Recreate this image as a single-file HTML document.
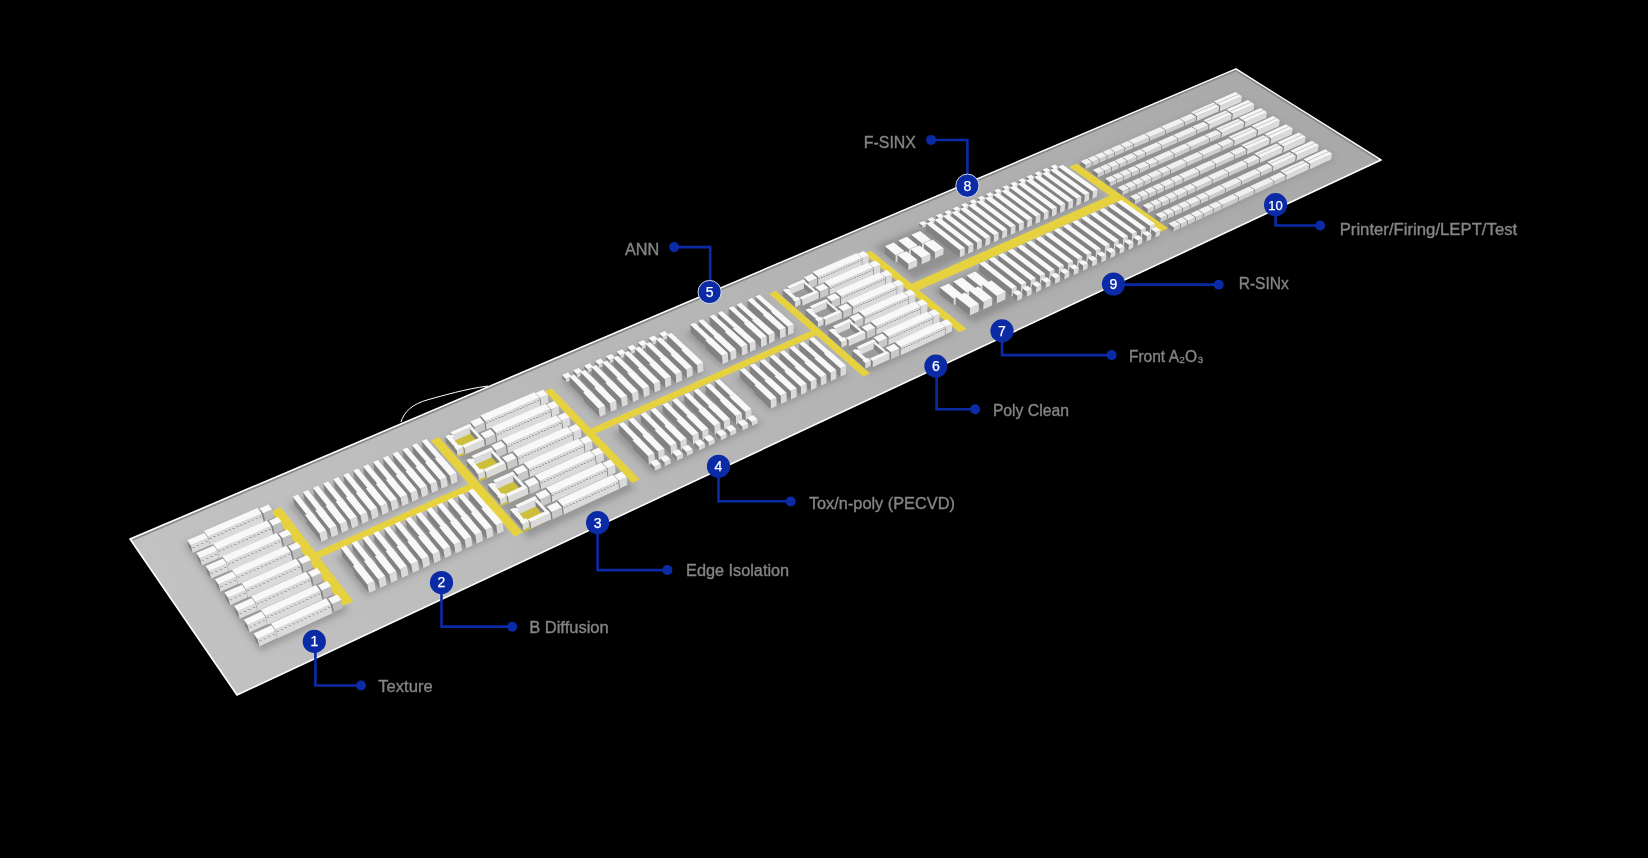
<!DOCTYPE html><html><head><meta charset="utf-8"><style>html,body{margin:0;padding:0;background:#000;width:1648px;height:858px;overflow:hidden}</style></head><body><svg width="1648" height="858" viewBox="0 0 1648 858" style="display:block" font-family="'Liberation Sans', sans-serif"><defs><linearGradient id="fg" gradientUnits="userSpaceOnUse" x1="180" y1="620" x2="1300" y2="110">
<stop offset="0" stop-color="#c2c2c2"/><stop offset="1" stop-color="#a9a9a9"/></linearGradient><filter id="blur" x="-20%" y="-20%" width="140%" height="140%"><feGaussianBlur stdDeviation="3"/></filter></defs>
<rect width="1648" height="858" fill="#000"/><path d="M401,422 C404,412 412,404 428,399.7 S465,389 488,386" fill="none" stroke="#fff" stroke-width="1"/><polygon points="130.0,539.0 1236.0,69.0 1381.0,160.0 237.0,695.0" fill="url(#fg)" stroke="#fff" stroke-width="1.6" stroke-linejoin="round"/><polyline points="133.0,539.8 1235.9,70.6 1377.8,159.8" fill="none" stroke="#858585" stroke-width="1.6" stroke-linejoin="round" opacity="0.9"/><g filter="url(#blur)"><polygon points="184.0,544.2 269.4,507.4 348.6,610.8 260.3,651.5" fill="#555" opacity="0.35"/><polygon points="288.9,504.6 430.3,443.5 463.2,481.1 320.0,544.6" fill="#555" opacity="0.35"/><polygon points="336.1,557.2 475.2,494.9 507.3,531.6 366.5,596.3" fill="#555" opacity="0.35"/><polygon points="442.4,440.1 546.1,395.2 635.4,488.6 528.6,538.0" fill="#555" opacity="0.35"/><polygon points="560.7,380.1 666.6,334.6 705.7,371.7 598.7,419.2" fill="#555" opacity="0.35"/><polygon points="612.5,433.4 720.0,385.3 761.3,424.5 652.6,474.7" fill="#555" opacity="0.35"/><polygon points="685.1,333.4 761.3,300.5 797.6,332.7 720.7,366.8" fill="#555" opacity="0.35"/><polygon points="735.7,378.2 812.8,343.7 848.2,375.0 770.4,410.8" fill="#555" opacity="0.35"/><polygon points="779.4,294.4 864.8,257.4 956.1,332.7 869.0,372.9" fill="#555" opacity="0.35"/><polygon points="873.8,247.0 1059.3,167.1 1100.6,196.7 913.7,279.6" fill="#555" opacity="0.35"/><polygon points="932.2,290.2 1121.0,205.7 1162.9,235.6 972.8,323.2" fill="#555" opacity="0.35"/><polygon points="1076.2,164.4 1235.8,95.5 1334.3,158.4 1172.5,232.9" fill="#555" opacity="0.3"/></g><polygon points="270.9,511.4 280.7,507.2 353.3,601.3 343.2,606.0" fill="#e6d23e" /><polygon points="430.8,440.6 439.0,437.0 523.1,532.4 514.6,536.4" fill="#e6d23e" /><polygon points="544.7,391.3 551.7,388.2 639.7,479.6 632.5,483.0" fill="#e6d23e" /><polygon points="769.2,293.7 775.9,290.8 870.0,373.4 863.2,376.5" fill="#e6d23e" /><polygon points="863.9,253.7 871.0,250.7 966.5,328.9 959.2,332.2" fill="#e6d23e" /><polygon points="1069.1,166.7 1076.8,163.4 1168.0,228.2 1160.2,231.7" fill="#e6d23e" /><polygon points="310.5,554.5 473.1,482.2 477.6,487.4 314.8,560.1" fill="#e6d23e" /><polygon points="587.2,430.3 814.6,329.2 819.7,333.7 591.9,435.3" fill="#e6d23e" /><polygon points="907.8,285.4 1113.6,194.0 1121.5,199.7 915.5,291.6" fill="#e6d23e" /><polygon points="541.4,408.7 559.0,401.0 560.5,402.5 542.8,410.2" fill="#e6d23e" /><polygon points="552.2,420.2 569.9,412.4 571.4,413.9 553.7,421.7" fill="#e6d23e" /><polygon points="563.2,431.7 581.0,423.9 582.5,425.4 564.7,433.3" fill="#e6d23e" /><polygon points="574.3,443.5 592.1,435.5 593.6,437.1 575.8,445.0" fill="#e6d23e" /><polygon points="585.5,455.3 603.4,447.3 605.0,448.8 587.0,456.9" fill="#e6d23e" /><polygon points="596.9,467.3 614.9,459.2 616.4,460.8 598.4,468.9" fill="#e6d23e" /><polygon points="608.4,479.5 626.5,471.2 628.0,472.8 610.0,481.1" fill="#e6d23e" /><polygon points="444.8,441.2 470.7,430.0 484.8,445.7 458.8,457.1" fill="#cdbf3c" /><polygon points="465.8,465.0 491.9,453.6 506.3,469.6 480.2,481.3" fill="#cdbf3c" /><polygon points="487.4,489.4 513.6,477.7 528.4,494.1 502.0,506.1" fill="#cdbf3c" /><polygon points="509.4,514.5 535.9,502.4 551.1,519.2 524.5,531.5" fill="#cdbf3c" /><polygon points="781.5,295.0 803.6,285.4 818.8,298.5 796.6,308.2" fill="#9b9b9b" /><polygon points="804.0,314.8 826.3,305.0 841.8,318.4 819.5,328.3" fill="#9b9b9b" /><polygon points="827.1,335.0 849.5,325.0 865.4,338.7 842.9,348.8" fill="#9b9b9b" /><polygon points="850.7,355.7 873.2,345.4 889.4,359.4 866.8,369.8" fill="#9b9b9b" /><polygon points="1219.6,111.4 1241.1,102.0 1241.9,96.2 1220.4,105.5" fill="#dadada" /><polygon points="1213.1,107.2 1219.6,111.4 1220.4,105.5 1213.9,101.4" fill="#828282" /><polygon points="1213.9,101.4 1235.5,92.1 1241.9,96.2 1220.4,105.5" fill="#f6f6f6" /><polygon points="1232.0,119.5 1253.5,110.0 1254.4,104.2 1232.8,113.6" fill="#dadada" /><polygon points="1225.5,115.3 1232.0,119.5 1232.8,113.6 1226.3,109.4" fill="#828282" /><polygon points="1226.3,109.4 1247.9,100.0 1254.4,104.2 1232.8,113.6" fill="#f6f6f6" /><polygon points="1196.3,121.2 1218.5,111.5 1219.2,106.4 1197.0,116.0" fill="#dadada" /><polygon points="1190.5,117.3 1196.3,121.2 1197.0,116.0 1191.1,112.2" fill="#828282" /><polygon points="1191.1,112.2 1213.4,102.6 1219.2,106.4 1197.0,116.0" fill="#f4f4f4" /><polygon points="1244.6,127.6 1266.1,118.1 1267.0,112.2 1245.4,121.7" fill="#dadada" /><polygon points="1238.0,123.4 1244.6,127.6 1245.4,121.7 1238.9,117.5" fill="#828282" /><polygon points="1238.9,117.5 1260.5,108.0 1267.0,112.2 1245.4,121.7" fill="#f6f6f6" /><polygon points="1208.7,129.4 1231.0,119.6 1231.7,114.4 1209.4,124.2" fill="#dadada" /><polygon points="1202.8,125.5 1208.7,129.4 1209.4,124.2 1203.5,120.3" fill="#828282" /><polygon points="1203.5,120.3 1225.8,110.6 1231.7,114.4 1209.4,124.2" fill="#f4f4f4" /><polygon points="1257.2,135.8 1278.9,126.2 1279.8,120.3 1258.1,130.0" fill="#dadada" /><polygon points="1250.6,131.6 1257.2,135.8 1258.1,130.0 1251.5,125.7" fill="#828282" /><polygon points="1251.5,125.7 1273.2,116.1 1279.8,120.3 1258.1,130.0" fill="#f6f6f6" /><polygon points="1184.4,125.9 1195.6,121.0 1196.1,116.9 1184.9,121.8" fill="#cdcdcd" /><polygon points="1179.4,122.6 1184.4,125.9 1184.9,121.8 1179.9,118.5" fill="#828282" /><polygon points="1179.9,118.5 1191.1,113.6 1196.1,116.9 1184.9,121.8" fill="#f0f0f0" /><polygon points="1221.2,137.6 1243.5,127.8 1244.3,122.6 1222.0,132.4" fill="#dadada" /><polygon points="1215.3,133.7 1221.2,137.6 1222.0,132.4 1216.0,128.5" fill="#828282" /><polygon points="1216.0,128.5 1238.3,118.7 1244.3,122.6 1222.0,132.4" fill="#f4f4f4" /><polygon points="1270.1,144.2 1291.7,134.4 1292.7,128.5 1271.0,138.3" fill="#dadada" /><polygon points="1263.4,139.8 1270.1,144.2 1271.0,138.3 1264.3,133.9" fill="#828282" /><polygon points="1264.3,133.9 1286.0,124.3 1292.7,128.5 1271.0,138.3" fill="#f6f6f6" /><polygon points="1196.7,134.1 1208.0,129.2 1208.5,125.1 1197.3,130.0" fill="#cdcdcd" /><polygon points="1191.7,130.8 1196.7,134.1 1197.3,130.0 1192.2,126.6" fill="#828282" /><polygon points="1192.2,126.6 1203.5,121.7 1208.5,125.1 1197.3,130.0" fill="#f0f0f0" /><polygon points="1165.4,134.1 1183.8,126.2 1184.3,122.0 1165.9,130.0" fill="#cdcdcd" /><polygon points="1160.5,130.8 1165.4,134.1 1165.9,130.0 1160.9,126.6" fill="#828282" /><polygon points="1160.9,126.6 1179.3,118.7 1184.3,122.0 1165.9,130.0" fill="#f0f0f0" /><polygon points="1233.9,145.9 1256.2,136.0 1257.0,130.8 1234.6,140.7" fill="#dadada" /><polygon points="1227.9,142.0 1233.9,145.9 1234.6,140.7 1228.6,136.8" fill="#828282" /><polygon points="1228.6,136.8 1251.0,126.9 1257.0,130.8 1234.6,140.7" fill="#f4f4f4" /><polygon points="1283.0,152.6 1304.7,142.7 1305.7,136.8 1284.0,146.6" fill="#dadada" /><polygon points="1276.3,148.2 1283.0,152.6 1284.0,146.6 1277.2,142.3" fill="#828282" /><polygon points="1277.2,142.3 1298.9,132.5 1305.7,136.8 1284.0,146.6" fill="#f6f6f6" /><polygon points="1209.2,142.4 1220.5,137.5 1221.1,133.3 1209.8,138.3" fill="#cdcdcd" /><polygon points="1204.1,139.0 1209.2,142.4 1209.8,138.3 1204.7,134.9" fill="#828282" /><polygon points="1204.7,134.9 1216.0,129.9 1221.1,133.3 1209.8,138.3" fill="#f0f0f0" /><polygon points="1177.8,142.4 1196.1,134.4 1196.7,130.2 1178.3,138.3" fill="#cdcdcd" /><polygon points="1172.7,139.1 1177.8,142.4 1178.3,138.3 1173.2,134.9" fill="#828282" /><polygon points="1173.2,134.9 1191.6,126.9 1196.7,130.2 1178.3,138.3" fill="#f0f0f0" /><polygon points="1149.4,141.1 1164.8,134.4 1165.3,130.3 1149.9,136.9" fill="#cdcdcd" /><polygon points="1144.4,137.7 1149.4,141.1 1149.9,136.9 1144.9,133.6" fill="#828282" /><polygon points="1144.9,133.6 1160.3,126.9 1165.3,130.3 1149.9,136.9" fill="#f0f0f0" /><polygon points="1246.7,154.4 1269.0,144.3 1269.8,139.1 1247.4,149.1" fill="#dadada" /><polygon points="1240.6,150.4 1246.7,154.4 1247.4,149.1 1241.3,145.1" fill="#828282" /><polygon points="1241.3,145.1 1263.7,135.2 1269.8,139.1 1247.4,149.1" fill="#f4f4f4" /><polygon points="1296.1,161.0 1317.8,151.1 1318.8,145.2 1297.1,155.1" fill="#dadada" /><polygon points="1289.3,156.6 1296.1,161.0 1297.1,155.1 1290.3,150.7" fill="#828282" /><polygon points="1290.3,150.7 1312.0,140.8 1318.8,145.2 1297.1,155.1" fill="#f6f6f6" /><polygon points="1221.9,150.8 1233.1,145.8 1233.7,141.6 1222.5,146.6" fill="#cdcdcd" /><polygon points="1216.7,147.4 1221.9,150.8 1222.5,146.6 1217.3,143.2" fill="#828282" /><polygon points="1217.3,143.2 1228.6,138.2 1233.7,141.6 1222.5,146.6" fill="#f0f0f0" /><polygon points="1190.2,150.8 1208.6,142.7 1209.2,138.5 1190.8,146.7" fill="#cdcdcd" /><polygon points="1185.2,147.4 1190.2,150.8 1190.8,146.7 1185.7,143.2" fill="#828282" /><polygon points="1185.7,143.2 1204.1,135.2 1209.2,138.5 1190.8,146.7" fill="#f0f0f0" /><polygon points="1259.6,162.9 1282.0,152.7 1282.8,147.5 1260.4,157.6" fill="#dadada" /><polygon points="1253.4,158.8 1259.6,162.9 1260.4,157.6 1254.2,153.6" fill="#828282" /><polygon points="1254.2,153.6 1276.6,143.5 1282.8,147.5 1260.4,157.6" fill="#f4f4f4" /><polygon points="1161.7,149.5 1177.2,142.7 1177.7,138.5 1162.2,145.3" fill="#cdcdcd" /><polygon points="1156.7,146.1 1161.7,149.5 1162.2,145.3 1157.2,141.9" fill="#828282" /><polygon points="1157.2,141.9 1172.6,135.2 1177.7,138.5 1162.2,145.3" fill="#f0f0f0" /><polygon points="1309.3,169.6 1331.1,159.6 1332.1,153.7 1310.3,163.7" fill="#dadada" /><polygon points="1302.4,165.2 1309.3,169.6 1310.3,163.7 1303.4,159.2" fill="#828282" /><polygon points="1303.4,159.2 1325.2,149.3 1332.1,153.7 1310.3,163.7" fill="#f6f6f6" /><polygon points="1133.2,148.1 1148.8,141.4 1149.3,137.2 1133.7,144.0" fill="#cdcdcd" /><polygon points="1128.3,144.7 1133.2,148.1 1133.7,144.0 1128.7,140.6" fill="#828282" /><polygon points="1128.7,140.6 1144.3,133.8 1149.3,137.2 1133.7,144.0" fill="#f0f0f0" /><polygon points="1234.6,159.3 1245.9,154.2 1246.5,150.0 1235.2,155.1" fill="#cdcdcd" /><polygon points="1229.4,155.8 1234.6,159.3 1235.2,155.1 1230.0,151.6" fill="#828282" /><polygon points="1230.0,151.6 1241.3,146.6 1246.5,150.0 1235.2,155.1" fill="#f0f0f0" /><polygon points="1202.8,159.3 1221.3,151.1 1221.8,146.9 1203.4,155.1" fill="#cdcdcd" /><polygon points="1197.7,155.8 1202.8,159.3 1203.4,155.1 1198.2,151.7" fill="#828282" /><polygon points="1198.2,151.7 1216.7,143.5 1221.8,146.9 1203.4,155.1" fill="#f0f0f0" /><polygon points="1272.6,171.5 1295.0,161.2 1295.9,156.0 1273.4,166.2" fill="#dadada" /><polygon points="1266.4,167.4 1272.6,171.5 1273.4,166.2 1267.2,162.1" fill="#828282" /><polygon points="1267.2,162.1 1289.7,151.9 1295.9,156.0 1273.4,166.2" fill="#f4f4f4" /><polygon points="1174.1,157.9 1189.6,151.1 1190.2,146.9 1174.7,153.7" fill="#cdcdcd" /><polygon points="1169.1,154.5 1174.1,157.9 1174.7,153.7 1169.6,150.3" fill="#828282" /><polygon points="1169.6,150.3 1185.1,143.5 1190.2,146.9 1174.7,153.7" fill="#f0f0f0" /><polygon points="1124.8,151.8 1132.6,148.4 1133.1,144.2 1125.2,147.6" fill="#cdcdcd" /><polygon points="1119.8,148.4 1124.8,151.8 1125.2,147.6 1120.3,144.2" fill="#828282" /><polygon points="1120.3,144.2 1128.1,140.8 1133.1,144.2 1125.2,147.6" fill="#f0f0f0" /><polygon points="1145.5,156.6 1161.1,149.7 1161.6,145.6 1146.0,152.4" fill="#cdcdcd" /><polygon points="1140.5,153.1 1145.5,156.6 1146.0,152.4 1141.0,148.9" fill="#828282" /><polygon points="1141.0,148.9 1156.6,142.2 1161.6,145.6 1146.0,152.4" fill="#f0f0f0" /><polygon points="1247.5,167.8 1258.8,162.7 1259.5,158.5 1248.1,163.6" fill="#cdcdcd" /><polygon points="1242.3,164.3 1247.5,167.8 1248.1,163.6 1242.9,160.2" fill="#828282" /><polygon points="1242.9,160.2 1254.2,155.1 1259.5,158.5 1248.1,163.6" fill="#f0f0f0" /><polygon points="1215.6,167.8 1234.0,159.6 1234.6,155.4 1216.1,163.7" fill="#cdcdcd" /><polygon points="1210.4,164.4 1215.6,167.8 1216.1,163.7 1210.9,160.2" fill="#828282" /><polygon points="1210.9,160.2 1229.4,151.9 1234.6,155.4 1216.1,163.7" fill="#f0f0f0" /><polygon points="1114.7,156.2 1124.2,152.1 1124.6,147.9 1115.1,152.0" fill="#cdcdcd" /><polygon points="1109.8,152.7 1114.7,156.2 1115.1,152.0 1110.2,148.6" fill="#828282" /><polygon points="1110.2,148.6 1119.6,144.5 1124.6,147.9 1115.1,152.0" fill="#f0f0f0" /><polygon points="1285.8,180.1 1308.3,169.8 1309.2,164.5 1286.6,174.9" fill="#dadada" /><polygon points="1279.5,176.0 1285.8,180.1 1286.6,174.9 1280.4,170.8" fill="#828282" /><polygon points="1280.4,170.8 1302.9,160.5 1309.2,164.5 1286.6,174.9" fill="#f4f4f4" /><polygon points="1186.7,166.5 1202.2,159.6 1202.8,155.4 1187.2,162.3" fill="#cdcdcd" /><polygon points="1181.6,163.0 1186.7,166.5 1187.2,162.3 1182.1,158.8" fill="#828282" /><polygon points="1182.1,158.8 1197.6,151.9 1202.8,155.4 1187.2,162.3" fill="#f0f0f0" /><polygon points="1137.0,160.3 1144.9,156.8 1145.4,152.7 1137.5,156.1" fill="#cdcdcd" /><polygon points="1132.0,156.8 1137.0,160.3 1137.5,156.1 1132.5,152.6" fill="#828282" /><polygon points="1132.5,152.6 1140.3,149.2 1145.4,152.7 1137.5,156.1" fill="#f0f0f0" /><polygon points="1157.9,165.1 1173.5,158.2 1174.0,154.0 1158.4,160.9" fill="#cdcdcd" /><polygon points="1152.9,161.6 1157.9,165.1 1158.4,160.9 1153.3,157.4" fill="#828282" /><polygon points="1153.3,157.4 1169.0,150.6 1174.0,154.0 1158.4,160.9" fill="#f0f0f0" /><polygon points="1260.5,176.5 1271.9,171.3 1272.5,167.1 1261.2,172.3" fill="#cdcdcd" /><polygon points="1255.2,172.9 1260.5,176.5 1261.2,172.3 1255.9,168.8" fill="#828282" /><polygon points="1255.9,168.8 1267.2,163.6 1272.5,167.1 1261.2,172.3" fill="#f0f0f0" /><polygon points="1107.0,159.5 1114.1,156.4 1114.5,152.3 1107.4,155.3" fill="#cdcdcd" /><polygon points="1102.0,156.1 1107.0,159.5 1107.4,155.3 1102.5,151.9" fill="#828282" /><polygon points="1102.5,151.9 1109.6,148.8 1114.5,152.3 1107.4,155.3" fill="#f0f0f0" /><polygon points="1228.4,176.5 1246.9,168.1 1247.5,163.9 1229.0,172.3" fill="#cdcdcd" /><polygon points="1223.2,173.0 1228.4,176.5 1229.0,172.3 1223.8,168.8" fill="#828282" /><polygon points="1223.8,168.8 1242.3,160.4 1247.5,163.9 1229.0,172.3" fill="#f0f0f0" /><polygon points="1127.0,164.7 1136.4,160.5 1136.9,156.4 1127.4,160.5" fill="#cdcdcd" /><polygon points="1122.0,161.2 1127.0,164.7 1127.4,160.5 1122.4,157.0" fill="#828282" /><polygon points="1122.4,157.0 1131.9,152.9 1136.9,156.4 1127.4,160.5" fill="#f0f0f0" /><polygon points="1199.4,175.1 1214.9,168.1 1215.5,163.9 1200.0,170.9" fill="#cdcdcd" /><polygon points="1194.2,171.6 1199.4,175.1 1200.0,170.9 1194.8,167.4" fill="#828282" /><polygon points="1194.8,167.4 1210.3,160.4 1215.5,163.9 1200.0,170.9" fill="#f0f0f0" /><polygon points="1099.2,162.9 1106.3,159.8 1106.8,155.6 1099.6,158.7" fill="#cdcdcd" /><polygon points="1094.3,159.4 1099.2,162.9 1099.6,158.7 1094.7,155.3" fill="#828282" /><polygon points="1094.7,155.3 1101.8,152.2 1106.8,155.6 1099.6,158.7" fill="#f0f0f0" /><polygon points="1149.4,168.8 1157.3,165.4 1157.8,161.2 1149.9,164.6" fill="#cdcdcd" /><polygon points="1144.4,165.3 1149.4,168.8 1149.9,164.6 1144.9,161.2" fill="#828282" /><polygon points="1144.9,161.2 1152.7,157.7 1157.8,161.2 1149.9,164.6" fill="#f0f0f0" /><polygon points="1170.5,173.7 1186.1,166.7 1186.6,162.6 1171.0,169.5" fill="#cdcdcd" /><polygon points="1165.3,170.2 1170.5,173.7 1171.0,169.5 1165.8,166.0" fill="#828282" /><polygon points="1165.8,166.0 1181.5,159.1 1186.6,162.6 1171.0,169.5" fill="#f0f0f0" /><polygon points="1273.7,185.2 1285.0,180.0 1285.7,175.8 1274.4,181.0" fill="#cdcdcd" /><polygon points="1268.3,181.6 1273.7,185.2 1274.4,181.0 1269.0,177.4" fill="#828282" /><polygon points="1269.0,177.4 1280.3,172.2 1285.7,175.8 1274.4,181.0" fill="#f0f0f0" /><polygon points="1119.2,168.1 1126.3,165.0 1126.8,160.8 1119.6,163.9" fill="#cdcdcd" /><polygon points="1114.2,164.6 1119.2,168.1 1119.6,163.9 1114.6,160.4" fill="#828282" /><polygon points="1114.6,160.4 1121.8,157.3 1126.8,160.8 1119.6,163.9" fill="#f0f0f0" /><polygon points="1092.2,165.9 1098.6,163.2 1099.0,159.0 1092.6,161.8" fill="#cdcdcd" /><polygon points="1087.3,162.5 1092.2,165.9 1092.6,161.8 1087.7,158.3" fill="#828282" /><polygon points="1087.7,158.3 1094.0,155.5 1099.0,159.0 1092.6,161.8" fill="#f0f0f0" /><polygon points="1241.4,185.2 1259.9,176.8 1260.6,172.6 1242.0,181.0" fill="#cdcdcd" /><polygon points="1236.1,181.7 1241.4,185.2 1242.0,181.0 1236.7,177.5" fill="#828282" /><polygon points="1236.7,177.5 1255.2,169.0 1260.6,172.6 1242.0,181.0" fill="#f0f0f0" /><polygon points="1139.3,173.3 1148.8,169.1 1149.3,164.9 1139.8,169.1" fill="#cdcdcd" /><polygon points="1134.3,169.8 1139.3,173.3 1139.8,169.1 1134.7,165.6" fill="#828282" /><polygon points="1134.7,165.6 1144.2,161.4 1149.3,164.9 1139.8,169.1" fill="#f0f0f0" /><polygon points="1212.2,183.8 1227.8,176.8 1228.4,172.6 1212.8,179.6" fill="#cdcdcd" /><polygon points="1207.0,180.3 1212.2,183.8 1212.8,179.6 1207.6,176.1" fill="#828282" /><polygon points="1207.6,176.1 1223.1,169.0 1228.4,172.6 1212.8,179.6" fill="#f0f0f0" /><polygon points="1085.2,169.0 1091.6,166.2 1092.0,162.0 1085.6,164.8" fill="#cdcdcd" /><polygon points="1080.3,165.5 1085.2,169.0 1085.6,164.8 1080.6,161.3" fill="#828282" /><polygon points="1080.6,161.3 1087.0,158.6 1092.0,162.0 1085.6,164.8" fill="#f0f0f0" /><polygon points="1111.4,171.5 1118.6,168.4 1119.0,164.2 1111.9,167.3" fill="#cdcdcd" /><polygon points="1106.4,168.0 1111.4,171.5 1111.9,167.3 1106.9,163.8" fill="#828282" /><polygon points="1106.9,163.8 1114.0,160.7 1119.0,164.2 1111.9,167.3" fill="#f0f0f0" /><polygon points="1162.0,177.5 1169.8,174.0 1170.3,169.8 1162.5,173.3" fill="#cdcdcd" /><polygon points="1156.8,174.0 1162.0,177.5 1162.5,173.3 1157.3,169.8" fill="#828282" /><polygon points="1157.3,169.8 1165.2,166.3 1170.3,169.8 1162.5,173.3" fill="#f0f0f0" /><polygon points="1183.1,182.4 1198.8,175.4 1199.3,171.2 1183.7,178.2" fill="#cdcdcd" /><polygon points="1177.9,178.9 1183.1,182.4 1183.7,178.2 1178.5,174.7" fill="#828282" /><polygon points="1178.5,174.7 1194.2,167.7 1199.3,171.2 1183.7,178.2" fill="#f0f0f0" /><polygon points="1131.6,176.7 1138.7,173.6 1139.2,169.4 1132.0,172.5" fill="#cdcdcd" /><polygon points="1126.5,173.2 1131.6,176.7 1132.0,172.5 1127.0,169.0" fill="#828282" /><polygon points="1127.0,169.0 1134.1,165.9 1139.2,169.4 1132.0,172.5" fill="#f0f0f0" /><polygon points="1254.5,194.0 1273.1,185.5 1273.7,181.3 1255.2,189.8" fill="#cdcdcd" /><polygon points="1249.2,190.4 1254.5,194.0 1255.2,189.8 1249.8,186.2" fill="#828282" /><polygon points="1249.8,186.2 1268.4,177.7 1273.7,181.3 1255.2,189.8" fill="#f0f0f0" /><polygon points="1104.4,174.6 1110.8,171.8 1111.2,167.6 1104.8,170.4" fill="#cdcdcd" /><polygon points="1099.4,171.0 1104.4,174.6 1104.8,170.4 1099.8,166.9" fill="#828282" /><polygon points="1099.8,166.9 1106.2,164.1 1111.2,167.6 1104.8,170.4" fill="#f0f0f0" /><polygon points="1053.9,171.0 1058.2,169.1 1058.4,167.0 1054.0,168.9" fill="#dadada" /><polygon points="1050.4,168.4 1053.9,171.0 1054.0,168.9 1050.5,166.3" fill="#828282" /><polygon points="1050.5,166.3 1054.9,164.5 1058.4,167.0 1054.0,168.9" fill="#f8f8f8" /><polygon points="1151.8,182.0 1161.3,177.8 1161.8,173.6 1152.3,177.8" fill="#cdcdcd" /><polygon points="1146.7,178.4 1151.8,182.0 1152.3,177.8 1147.2,174.2" fill="#828282" /><polygon points="1147.2,174.2 1156.7,170.0 1161.8,173.6 1152.3,177.8" fill="#f0f0f0" /><polygon points="1225.2,192.6 1240.8,185.5 1241.4,181.3 1225.8,188.4" fill="#cdcdcd" /><polygon points="1219.9,189.0 1225.2,192.6 1225.8,188.4 1220.5,184.8" fill="#828282" /><polygon points="1220.5,184.8 1236.1,177.7 1241.4,181.3 1225.8,188.4" fill="#f0f0f0" /><polygon points="1097.4,177.6 1103.8,174.8 1104.2,170.6 1097.8,173.5" fill="#cdcdcd" /><polygon points="1092.4,174.1 1097.4,177.6 1097.8,173.5 1092.8,169.9" fill="#828282" /><polygon points="1092.8,169.9 1099.2,167.1 1104.2,170.6 1097.8,173.5" fill="#f0f0f0" /><polygon points="1123.8,180.2 1130.9,177.0 1131.4,172.8 1124.2,176.0" fill="#cdcdcd" /><polygon points="1118.7,176.6 1123.8,180.2 1124.2,176.0 1119.2,172.4" fill="#828282" /><polygon points="1119.2,172.4 1126.3,169.3 1131.4,172.8 1124.2,176.0" fill="#f0f0f0" /><polygon points="1174.6,186.2 1182.5,182.7 1183.0,178.5 1175.1,182.0" fill="#cdcdcd" /><polygon points="1169.4,182.7 1174.6,186.2 1175.1,182.0 1170.0,178.5" fill="#828282" /><polygon points="1170.0,178.5 1177.8,174.9 1183.0,178.5 1175.1,182.0" fill="#f0f0f0" /><polygon points="1045.9,174.4 1050.3,172.5 1050.4,170.4 1046.1,172.3" fill="#dadada" /><polygon points="1042.4,171.9 1045.9,174.4 1046.1,172.3 1042.5,169.8" fill="#828282" /><polygon points="1042.5,169.8 1046.9,167.9 1050.4,170.4 1046.1,172.3" fill="#f8f8f8" /><polygon points="1195.9,191.2 1211.6,184.1 1212.2,179.9 1196.5,187.0" fill="#cdcdcd" /><polygon points="1190.7,187.6 1195.9,191.2 1196.5,187.0 1191.2,183.4" fill="#828282" /><polygon points="1191.2,183.4 1206.9,176.3 1212.2,179.9 1196.5,187.0" fill="#f0f0f0" /><polygon points="1144.0,185.5 1151.2,182.3 1151.7,178.1 1144.5,181.3" fill="#cdcdcd" /><polygon points="1139.0,181.9 1144.0,185.5 1144.5,181.3 1139.4,177.7" fill="#828282" /><polygon points="1139.4,177.7 1146.6,174.5 1151.7,178.1 1144.5,181.3" fill="#f0f0f0" /><polygon points="1116.7,183.3 1123.1,180.5 1123.6,176.3 1117.2,179.1" fill="#cdcdcd" /><polygon points="1111.7,179.7 1116.7,183.3 1117.2,179.1 1112.1,175.5" fill="#828282" /><polygon points="1112.1,175.5 1118.5,172.7 1123.6,176.3 1117.2,179.1" fill="#f0f0f0" /><polygon points="1037.9,177.9 1042.3,176.0 1042.4,173.9 1038.0,175.8" fill="#dadada" /><polygon points="1034.4,175.3 1037.9,177.9 1038.0,175.8 1034.5,173.2" fill="#828282" /><polygon points="1034.5,173.2 1038.9,171.3 1042.4,173.9 1038.0,175.8" fill="#f8f8f8" /><polygon points="1164.5,190.8 1174.0,186.5 1174.5,182.3 1165.0,186.6" fill="#cdcdcd" /><polygon points="1159.3,187.2 1164.5,190.8 1165.0,186.6 1159.8,183.0" fill="#828282" /><polygon points="1159.8,183.0 1169.3,178.7 1174.5,182.3 1165.0,186.6" fill="#f0f0f0" /><polygon points="1238.3,201.5 1253.9,194.3 1254.5,190.1 1238.9,197.3" fill="#cdcdcd" /><polygon points="1232.9,197.9 1238.3,201.5 1238.9,197.3 1233.6,193.7" fill="#828282" /><polygon points="1233.6,193.7 1249.2,186.5 1254.5,190.1 1238.9,197.3" fill="#f0f0f0" /><polygon points="1136.2,188.9 1143.4,185.7 1143.9,181.5 1136.7,184.7" fill="#cdcdcd" /><polygon points="1131.1,185.4 1136.2,188.9 1136.7,184.7 1131.6,181.2" fill="#828282" /><polygon points="1131.6,181.2 1138.8,178.0 1143.9,181.5 1136.7,184.7" fill="#f0f0f0" /><polygon points="1109.7,186.4 1116.1,183.6 1116.5,179.4 1110.1,182.2" fill="#cdcdcd" /><polygon points="1104.6,182.8 1109.7,186.4 1110.1,182.2 1105.1,178.6" fill="#828282" /><polygon points="1105.1,178.6 1111.5,175.8 1116.5,179.4 1110.1,182.2" fill="#f0f0f0" /><polygon points="1187.4,195.1 1195.3,191.5 1195.8,187.3 1187.9,190.9" fill="#cdcdcd" /><polygon points="1182.2,191.5 1187.4,195.1 1187.9,190.9 1182.7,187.3" fill="#828282" /><polygon points="1182.7,187.3 1190.6,183.7 1195.8,187.3 1187.9,190.9" fill="#f0f0f0" /><polygon points="1208.8,200.1 1224.6,192.9 1225.2,188.7 1209.4,195.9" fill="#cdcdcd" /><polygon points="1203.6,196.5 1208.8,200.1 1209.4,195.9 1204.1,192.2" fill="#828282" /><polygon points="1204.1,192.2 1219.9,185.1 1225.2,188.7 1209.4,195.9" fill="#f0f0f0" /><polygon points="1029.8,181.3 1034.3,179.4 1034.4,177.3 1030.0,179.2" fill="#dadada" /><polygon points="1026.4,178.8 1029.8,181.3 1030.0,179.2 1026.5,176.7" fill="#828282" /><polygon points="1026.5,176.7 1030.9,174.8 1034.4,177.3 1030.0,179.2" fill="#f8f8f8" /><polygon points="1156.7,194.3 1163.8,191.1 1164.3,186.9 1157.2,190.1" fill="#cdcdcd" /><polygon points="1151.5,190.7 1156.7,194.3 1157.2,190.1 1152.0,186.5" fill="#828282" /><polygon points="1152.0,186.5 1159.2,183.3 1164.3,186.9 1157.2,190.1" fill="#f0f0f0" /><polygon points="1129.2,192.1 1135.6,189.2 1136.1,185.0 1129.6,187.9" fill="#cdcdcd" /><polygon points="1124.1,188.5 1129.2,192.1 1129.6,187.9 1124.6,184.3" fill="#828282" /><polygon points="1124.6,184.3 1131.0,181.4 1136.1,185.0 1129.6,187.9" fill="#f0f0f0" /><polygon points="1021.8,184.8 1026.2,182.9 1026.4,180.8 1021.9,182.7" fill="#dadada" /><polygon points="1018.3,182.2 1021.8,184.8 1021.9,182.7 1018.4,180.1" fill="#828282" /><polygon points="1018.4,180.1 1022.9,178.2 1026.4,180.8 1021.9,182.7" fill="#f8f8f8" /><polygon points="1092.1,198.9 1096.8,196.8 1097.5,189.4 1092.8,191.5" fill="#dadada" /><polygon points="1057.6,174.0 1092.1,198.9 1092.8,191.5 1058.2,166.7" fill="#828282" /><polygon points="1058.2,166.7 1062.9,164.7 1097.5,189.4 1092.8,191.5" fill="#f8f8f8" /><polygon points="1177.2,199.7 1186.7,195.4 1187.3,191.1 1177.8,195.4" fill="#cdcdcd" /><polygon points="1172.0,196.0 1177.2,199.7 1177.8,195.4 1172.5,191.8" fill="#828282" /><polygon points="1172.5,191.8 1182.1,187.5 1187.3,191.1 1177.8,195.4" fill="#f0f0f0" /><polygon points="1148.8,197.8 1156.0,194.6 1156.5,190.4 1149.3,193.6" fill="#cdcdcd" /><polygon points="1143.7,194.2 1148.8,197.8 1149.3,193.6 1144.2,190.0" fill="#828282" /><polygon points="1144.2,190.0 1151.4,186.8 1156.5,190.4 1149.3,193.6" fill="#f0f0f0" /><polygon points="1122.1,195.2 1128.5,192.4 1129.0,188.2 1122.6,191.0" fill="#cdcdcd" /><polygon points="1117.0,191.6 1122.1,195.2 1122.6,191.0 1117.5,187.4" fill="#828282" /><polygon points="1117.5,187.4 1123.9,184.6 1129.0,188.2 1122.6,191.0" fill="#f0f0f0" /><polygon points="1200.3,204.0 1208.2,200.4 1208.8,196.2 1200.9,199.8" fill="#cdcdcd" /><polygon points="1195.0,200.3 1200.3,204.0 1200.9,199.8 1195.6,196.1" fill="#828282" /><polygon points="1195.6,196.1 1203.5,192.5 1208.8,196.2 1200.9,199.8" fill="#f0f0f0" /><polygon points="1221.9,209.1 1237.7,201.8 1238.3,197.6 1222.5,204.8" fill="#cdcdcd" /><polygon points="1216.6,205.4 1221.9,209.1 1222.5,204.8 1217.2,201.2" fill="#828282" /><polygon points="1217.2,201.2 1232.9,194.0 1238.3,197.6 1222.5,204.8" fill="#f0f0f0" /><polygon points="1013.7,188.3 1018.1,186.4 1018.3,184.3 1013.8,186.2" fill="#dadada" /><polygon points="1010.2,185.7 1013.7,188.3 1013.8,186.2 1010.3,183.6" fill="#828282" /><polygon points="1010.3,183.6 1014.8,181.7 1018.3,184.3 1013.8,186.2" fill="#f8f8f8" /><polygon points="1084.0,202.4 1088.8,200.3 1089.5,192.9 1084.7,195.0" fill="#dadada" /><polygon points="1049.6,177.5 1084.0,202.4 1084.7,195.0 1050.2,170.1" fill="#828282" /><polygon points="1050.2,170.1 1054.9,168.1 1089.5,192.9 1084.7,195.0" fill="#f8f8f8" /><polygon points="1169.4,203.2 1176.6,200.0 1177.1,195.7 1169.9,199.0" fill="#cdcdcd" /><polygon points="1164.2,199.6 1169.4,203.2 1169.9,199.0 1164.7,195.3" fill="#828282" /><polygon points="1164.7,195.3 1171.9,192.1 1177.1,195.7 1169.9,199.0" fill="#f0f0f0" /><polygon points="1141.8,201.0 1148.2,198.1 1148.7,193.9 1142.3,196.8" fill="#cdcdcd" /><polygon points="1136.6,197.3 1141.8,201.0 1142.3,196.8 1137.1,193.1" fill="#828282" /><polygon points="1137.1,193.1 1143.5,190.3 1148.7,193.9 1142.3,196.8" fill="#f0f0f0" /><polygon points="1190.1,208.6 1199.7,204.3 1200.2,200.1 1190.7,204.4" fill="#cdcdcd" /><polygon points="1184.9,205.0 1190.1,208.6 1190.7,204.4 1185.4,200.8" fill="#828282" /><polygon points="1185.4,200.8 1195.0,196.4 1200.2,200.1 1190.7,204.4" fill="#f0f0f0" /><polygon points="1005.5,191.8 1010.0,189.9 1010.1,187.8 1005.7,189.7" fill="#dadada" /><polygon points="1002.1,189.2 1005.5,191.8 1005.7,189.7 1002.2,187.1" fill="#828282" /><polygon points="1002.2,187.1 1006.7,185.2 1010.1,187.8 1005.7,189.7" fill="#f8f8f8" /><polygon points="1076.0,206.0 1080.7,203.9 1081.4,196.5 1076.6,198.6" fill="#dadada" /><polygon points="1041.6,181.0 1076.0,206.0 1076.6,198.6 1042.2,173.6" fill="#828282" /><polygon points="1042.2,173.6 1046.9,171.6 1081.4,196.5 1076.6,198.6" fill="#f8f8f8" /><polygon points="1161.6,206.8 1168.8,203.5 1169.3,199.3 1162.1,202.5" fill="#cdcdcd" /><polygon points="1156.4,203.1 1161.6,206.8 1162.1,202.5 1156.9,198.9" fill="#828282" /><polygon points="1156.9,198.9 1164.1,195.6 1169.3,199.3 1162.1,202.5" fill="#f0f0f0" /><polygon points="1213.3,213.0 1221.3,209.4 1221.9,205.1 1213.9,208.8" fill="#cdcdcd" /><polygon points="1208.0,209.3 1213.3,213.0 1213.9,208.8 1208.6,205.1" fill="#828282" /><polygon points="1208.6,205.1 1216.5,201.5 1221.9,205.1 1213.9,208.8" fill="#f0f0f0" /><polygon points="1134.7,204.2 1141.1,201.3 1141.6,197.0 1135.2,199.9" fill="#cdcdcd" /><polygon points="1129.6,200.5 1134.7,204.2 1135.2,199.9 1130.0,196.3" fill="#828282" /><polygon points="1130.0,196.3 1136.5,193.4 1141.6,197.0 1135.2,199.9" fill="#f0f0f0" /><polygon points="997.4,195.3 1001.8,193.4 1002.0,191.3 997.5,193.2" fill="#dadada" /><polygon points="993.9,192.7 997.4,195.3 997.5,193.2 994.0,190.6" fill="#828282" /><polygon points="994.0,190.6 998.5,188.7 1002.0,191.3 997.5,193.2" fill="#f8f8f8" /><polygon points="1067.9,209.6 1072.7,207.5 1073.3,200.1 1068.5,202.2" fill="#dadada" /><polygon points="1033.6,184.4 1067.9,209.6 1068.5,202.2 1034.1,177.1" fill="#828282" /><polygon points="1034.1,177.1 1038.9,175.0 1073.3,200.1 1068.5,202.2" fill="#f8f8f8" /><polygon points="1182.3,212.2 1189.5,208.9 1190.0,204.7 1182.8,208.0" fill="#cdcdcd" /><polygon points="1177.0,208.5 1182.3,212.2 1182.8,208.0 1177.6,204.3" fill="#828282" /><polygon points="1177.6,204.3 1184.8,201.0 1190.0,204.7 1182.8,208.0" fill="#f0f0f0" /><polygon points="1154.5,210.0 1160.9,207.0 1161.4,202.8 1155.0,205.7" fill="#cdcdcd" /><polygon points="1149.3,206.3 1154.5,210.0 1155.0,205.7 1149.8,202.1" fill="#828282" /><polygon points="1149.8,202.1 1156.2,199.2 1161.4,202.8 1155.0,205.7" fill="#f0f0f0" /><polygon points="1203.2,217.7 1212.7,213.3 1213.3,209.1 1203.7,213.5" fill="#cdcdcd" /><polygon points="1197.8,214.0 1203.2,217.7 1203.7,213.5 1198.4,209.8" fill="#828282" /><polygon points="1198.4,209.8 1208.0,205.4 1213.3,209.1 1203.7,213.5" fill="#f0f0f0" /><polygon points="989.2,198.9 993.7,196.9 993.8,194.8 989.3,196.8" fill="#dadada" /><polygon points="985.7,196.3 989.2,198.9 989.3,196.8 985.8,194.2" fill="#828282" /><polygon points="985.8,194.2 990.3,192.2 993.8,194.8 989.3,196.8" fill="#f8f8f8" /><polygon points="1059.8,213.2 1064.5,211.1 1065.2,203.6 1060.4,205.8" fill="#dadada" /><polygon points="1025.5,187.9 1059.8,213.2 1060.4,205.8 1026.0,180.6" fill="#828282" /><polygon points="1026.0,180.6 1030.8,178.5 1065.2,203.6 1060.4,205.8" fill="#f8f8f8" /><polygon points="1174.4,215.8 1181.7,212.5 1182.2,208.3 1175.0,211.6" fill="#cdcdcd" /><polygon points="1169.2,212.1 1174.4,215.8 1175.0,211.6 1169.7,207.9" fill="#828282" /><polygon points="1169.7,207.9 1176.9,204.6 1182.2,208.3 1175.0,211.6" fill="#f0f0f0" /><polygon points="1147.4,213.2 1153.8,210.3 1154.3,206.0 1147.9,208.9" fill="#cdcdcd" /><polygon points="1142.2,209.5 1147.4,213.2 1147.9,208.9 1142.7,205.3" fill="#828282" /><polygon points="1142.7,205.3 1149.2,202.4 1154.3,206.0 1147.9,208.9" fill="#f0f0f0" /><polygon points="980.9,202.4 985.4,200.5 985.6,198.4 981.0,200.3" fill="#dadada" /><polygon points="977.4,199.8 980.9,202.4 981.0,200.3 977.6,197.7" fill="#828282" /><polygon points="977.6,197.7 982.1,195.8 985.6,198.4 981.0,200.3" fill="#f8f8f8" /><polygon points="1195.3,221.3 1202.5,218.0 1203.1,213.8 1195.9,217.1" fill="#cdcdcd" /><polygon points="1190.0,217.6 1195.3,221.3 1195.9,217.1 1190.6,213.4" fill="#828282" /><polygon points="1190.6,213.4 1197.8,210.1 1203.1,213.8 1195.9,217.1" fill="#f0f0f0" /><polygon points="1051.6,216.8 1056.4,214.7 1057.0,207.2 1052.2,209.4" fill="#dadada" /><polygon points="1017.4,191.4 1051.6,216.8 1052.2,209.4 1017.9,184.1" fill="#828282" /><polygon points="1017.9,184.1 1022.7,182.0 1057.0,207.2 1052.2,209.4" fill="#f8f8f8" /><polygon points="1167.3,219.0 1173.8,216.1 1174.3,211.9 1167.9,214.8" fill="#cdcdcd" /><polygon points="1162.1,215.3 1167.3,219.0 1167.9,214.8 1162.6,211.1" fill="#828282" /><polygon points="1162.6,211.1 1169.1,208.2 1174.3,211.9 1167.9,214.8" fill="#f0f0f0" /><polygon points="972.6,206.0 977.2,204.0 977.3,201.9 972.8,203.9" fill="#dadada" /><polygon points="969.2,203.4 972.6,206.0 972.8,203.9 969.3,201.3" fill="#828282" /><polygon points="969.3,201.3 973.8,199.3 977.3,201.9 972.8,203.9" fill="#f8f8f8" /><polygon points="1187.4,225.0 1194.7,221.6 1195.2,217.4 1188.0,220.7" fill="#cdcdcd" /><polygon points="1182.1,221.2 1187.4,225.0 1188.0,220.7 1182.7,217.0" fill="#828282" /><polygon points="1182.7,217.0 1189.9,213.7 1195.2,217.4 1188.0,220.7" fill="#f0f0f0" /><polygon points="1043.4,220.4 1048.2,218.3 1048.8,210.9 1044.0,213.0" fill="#dadada" /><polygon points="1009.2,195.0 1043.4,220.4 1044.0,213.0 1009.7,187.6" fill="#828282" /><polygon points="1009.7,187.6 1014.5,185.5 1048.8,210.9 1044.0,213.0" fill="#f8f8f8" /><polygon points="1160.2,222.3 1166.7,219.3 1167.2,215.1 1160.7,218.1" fill="#cdcdcd" /><polygon points="1155.0,218.6 1160.2,222.3 1160.7,218.1 1155.5,214.3" fill="#828282" /><polygon points="1155.5,214.3 1162.0,211.4 1167.2,215.1 1160.7,218.1" fill="#f0f0f0" /><polygon points="964.3,209.6 968.9,207.6 969.0,205.5 964.4,207.5" fill="#dadada" /><polygon points="960.9,206.9 964.3,209.6 964.4,207.5 961.0,204.8" fill="#828282" /><polygon points="961.0,204.8 965.5,202.9 969.0,205.5 964.4,207.5" fill="#f8f8f8" /><polygon points="1180.3,228.2 1186.8,225.3 1187.3,221.0 1180.9,224.0" fill="#cdcdcd" /><polygon points="1175.0,224.5 1180.3,228.2 1180.9,224.0 1175.6,220.2" fill="#828282" /><polygon points="1175.6,220.2 1182.0,217.3 1187.3,221.0 1180.9,224.0" fill="#f0f0f0" /><polygon points="1035.2,224.1 1040.0,221.9 1040.6,214.5 1035.7,216.6" fill="#dadada" /><polygon points="1001.1,198.5 1035.2,224.1 1035.7,216.6 1001.5,191.1" fill="#828282" /><polygon points="1001.5,191.1 1006.4,189.0 1040.6,214.5 1035.7,216.6" fill="#f8f8f8" /><polygon points="1149.2,233.3 1154.0,231.1 1154.9,223.7 1150.1,225.9" fill="#dadada" /><polygon points="1116.1,209.5 1149.2,233.3 1150.1,225.9 1116.9,202.1" fill="#828282" /><polygon points="1116.9,202.1 1121.6,200.0 1154.9,223.7 1150.1,225.9" fill="#f8f8f8" /><polygon points="956.0,213.2 960.6,211.2 960.7,209.1 956.1,211.1" fill="#dadada" /><polygon points="952.5,210.5 956.0,213.2 956.1,211.1 952.6,208.4" fill="#828282" /><polygon points="952.6,208.4 957.2,206.4 960.7,209.1 956.1,211.1" fill="#f8f8f8" /><polygon points="1173.2,231.5 1179.7,228.5 1180.2,224.3 1173.7,227.3" fill="#cdcdcd" /><polygon points="1167.9,227.8 1173.2,231.5 1173.7,227.3 1168.4,223.5" fill="#828282" /><polygon points="1168.4,223.5 1174.9,220.5 1180.2,224.3 1173.7,227.3" fill="#f0f0f0" /><polygon points="1026.9,227.7 1031.8,225.6 1032.3,218.1 1027.4,220.3" fill="#dadada" /><polygon points="992.8,202.1 1026.9,227.7 1027.4,220.3 993.3,194.7" fill="#828282" /><polygon points="993.3,194.7 998.1,192.6 1032.3,218.1 1027.4,220.3" fill="#f8f8f8" /><polygon points="1140.3,237.4 1145.1,235.2 1146.0,227.8 1141.2,230.0" fill="#dadada" /><polygon points="1107.2,213.5 1140.3,237.4 1141.2,230.0 1108.0,206.1" fill="#828282" /><polygon points="1108.0,206.1 1112.7,204.0 1146.0,227.8 1141.2,230.0" fill="#f8f8f8" /><polygon points="947.6,216.8 952.2,214.8 952.3,212.7 947.7,214.7" fill="#dadada" /><polygon points="944.2,214.1 947.6,216.8 947.7,214.7 944.3,212.0" fill="#828282" /><polygon points="944.3,212.0 948.9,210.0 952.3,212.7 947.7,214.7" fill="#f8f8f8" /><polygon points="1018.6,231.4 1023.5,229.2 1024.0,221.8 1019.1,224.0" fill="#dadada" /><polygon points="984.6,205.6 1018.6,231.4 1019.1,224.0 985.0,198.2" fill="#828282" /><polygon points="985.0,198.2 989.9,196.1 1024.0,221.8 1019.1,224.0" fill="#f8f8f8" /><polygon points="939.2,220.4 943.8,218.4 943.9,216.3 939.3,218.3" fill="#dadada" /><polygon points="935.8,217.7 939.2,220.4 939.3,218.3 935.8,215.6" fill="#828282" /><polygon points="935.8,215.6 940.5,213.6 943.9,216.3 939.3,218.3" fill="#f8f8f8" /><polygon points="1131.4,241.5 1136.2,239.3 1137.0,231.9 1132.2,234.0" fill="#dadada" /><polygon points="1098.3,217.5 1131.4,241.5 1132.2,234.0 1099.1,210.1" fill="#828282" /><polygon points="1099.1,210.1 1103.8,207.9 1137.0,231.9 1132.2,234.0" fill="#f8f8f8" /><polygon points="1010.3,235.1 1015.2,232.9 1015.7,225.5 1010.8,227.6" fill="#dadada" /><polygon points="976.3,209.2 1010.3,235.1 1010.8,227.6 976.7,201.8" fill="#828282" /><polygon points="976.7,201.8 981.6,199.7 1015.7,225.5 1010.8,227.6" fill="#f8f8f8" /><polygon points="1155.1,237.5 1159.8,235.3 1160.5,230.0 1155.7,232.2" fill="#dadada" /><polygon points="1150.7,234.4 1155.1,237.5 1155.7,232.2 1151.3,229.1" fill="#828282" /><polygon points="1151.3,229.1 1156.1,226.9 1160.5,230.0 1155.7,232.2" fill="#f8f8f8" /><polygon points="930.7,224.1 935.4,222.1 935.5,220.0 930.8,222.0" fill="#dadada" /><polygon points="927.3,221.4 930.7,224.1 930.8,222.0 927.4,219.3" fill="#828282" /><polygon points="927.4,219.3 932.0,217.3 935.5,220.0 930.8,222.0" fill="#f8f8f8" /><polygon points="1122.4,245.6 1127.2,243.4 1128.0,236.0 1123.2,238.2" fill="#dadada" /><polygon points="1089.4,221.5 1122.4,245.6 1123.2,238.2 1090.1,214.1" fill="#828282" /><polygon points="1090.1,214.1 1094.9,211.9 1128.0,236.0 1123.2,238.2" fill="#f8f8f8" /><polygon points="1001.9,238.8 1006.8,236.6 1007.3,229.2 1002.4,231.3" fill="#dadada" /><polygon points="968.0,212.8 1001.9,238.8 1002.4,231.3 968.4,205.4" fill="#828282" /><polygon points="968.4,205.4 973.3,203.3 1007.3,229.2 1002.4,231.3" fill="#f8f8f8" /><polygon points="1146.2,241.6 1150.9,239.4 1151.6,234.1 1146.8,236.3" fill="#dadada" /><polygon points="1141.8,238.5 1146.2,241.6 1146.8,236.3 1142.4,233.1" fill="#828282" /><polygon points="1142.4,233.1 1147.2,231.0 1151.6,234.1 1146.8,236.3" fill="#f8f8f8" /><polygon points="922.3,227.7 926.9,225.7 927.0,223.6 922.3,225.6" fill="#dadada" /><polygon points="918.8,225.0 922.3,227.7 922.3,225.6 918.9,222.9" fill="#828282" /><polygon points="918.9,222.9 923.6,220.9 927.0,223.6 922.3,225.6" fill="#f8f8f8" /><polygon points="1113.4,249.8 1118.2,247.5 1119.0,240.1 1114.2,242.3" fill="#dadada" /><polygon points="1080.4,225.5 1113.4,249.8 1114.2,242.3 1081.1,218.1" fill="#828282" /><polygon points="1081.1,218.1 1085.9,215.9 1119.0,240.1 1114.2,242.3" fill="#f8f8f8" /><polygon points="993.5,242.5 998.4,240.3 998.9,232.9 993.9,235.1" fill="#dadada" /><polygon points="959.6,216.4 993.5,242.5 993.9,235.1 960.0,209.0" fill="#828282" /><polygon points="960.0,209.0 964.9,206.9 998.9,232.9 993.9,235.1" fill="#f8f8f8" /><polygon points="1137.2,245.7 1142.0,243.5 1142.6,238.2 1137.8,240.4" fill="#dadada" /><polygon points="1132.8,242.6 1137.2,245.7 1137.8,240.4 1133.4,237.2" fill="#828282" /><polygon points="1133.4,237.2 1138.2,235.0 1142.6,238.2 1137.8,240.4" fill="#f8f8f8" /><polygon points="985.0,246.3 990.0,244.1 990.5,236.6 985.5,238.8" fill="#dadada" /><polygon points="951.3,220.0 985.0,246.3 985.5,238.8 951.6,212.6" fill="#828282" /><polygon points="951.6,212.6 956.5,210.5 990.5,236.6 985.5,238.8" fill="#f8f8f8" /><polygon points="1104.3,253.9 1109.1,251.7 1109.9,244.2 1105.1,246.4" fill="#dadada" /><polygon points="1071.4,229.6 1104.3,253.9 1105.1,246.4 1072.0,222.1" fill="#828282" /><polygon points="1072.0,222.1 1076.9,220.0 1109.9,244.2 1105.1,246.4" fill="#f8f8f8" /><polygon points="1128.2,249.9 1133.0,247.7 1133.6,242.3 1128.8,244.6" fill="#dadada" /><polygon points="1123.9,246.7 1128.2,249.9 1128.8,244.6 1124.4,241.4" fill="#828282" /><polygon points="1124.4,241.4 1129.2,239.2 1133.6,242.3 1128.8,244.6" fill="#f8f8f8" /><polygon points="976.6,250.0 981.6,247.8 982.0,240.3 977.0,242.5" fill="#dadada" /><polygon points="942.8,223.7 976.6,250.0 977.0,242.5 943.1,216.3" fill="#828282" /><polygon points="943.1,216.3 948.1,214.1 982.0,240.3 977.0,242.5" fill="#f8f8f8" /><polygon points="1095.2,258.1 1100.0,255.9 1100.8,248.4 1095.9,250.6" fill="#dadada" /><polygon points="1062.3,233.6 1095.2,258.1 1095.9,250.6 1063.0,226.2" fill="#828282" /><polygon points="1063.0,226.2 1067.8,224.0 1100.8,248.4 1095.9,250.6" fill="#f8f8f8" /><polygon points="1119.2,254.0 1124.0,251.8 1124.6,246.5 1119.8,248.7" fill="#dadada" /><polygon points="1114.8,250.8 1119.2,254.0 1119.8,248.7 1115.4,245.5" fill="#828282" /><polygon points="1115.4,245.5 1120.2,243.3 1124.6,246.5 1119.8,248.7" fill="#f8f8f8" /><polygon points="968.0,253.8 973.1,251.6 973.5,244.1 968.4,246.3" fill="#dadada" /><polygon points="934.4,227.3 968.0,253.8 968.4,246.3 934.7,219.9" fill="#828282" /><polygon points="934.7,219.9 939.7,217.8 973.5,244.1 968.4,246.3" fill="#f8f8f8" /><polygon points="1086.0,262.3 1090.9,260.1 1091.6,252.6 1086.7,254.8" fill="#dadada" /><polygon points="1053.2,237.7 1086.0,262.3 1086.7,254.8 1053.8,230.3" fill="#828282" /><polygon points="1053.8,230.3 1058.7,228.1 1091.6,252.6 1086.7,254.8" fill="#f8f8f8" /><polygon points="959.5,257.6 964.5,255.3 964.9,247.9 959.9,250.1" fill="#dadada" /><polygon points="925.9,231.0 959.5,257.6 959.9,250.1 926.2,223.6" fill="#828282" /><polygon points="926.2,223.6 931.2,221.4 964.9,247.9 959.9,250.1" fill="#f8f8f8" /><polygon points="1110.1,258.2 1115.0,256.0 1115.5,250.7 1110.7,252.9" fill="#dadada" /><polygon points="1105.7,255.0 1110.1,258.2 1110.7,252.9 1106.3,249.7" fill="#828282" /><polygon points="1106.3,249.7 1111.2,247.4 1115.5,250.7 1110.7,252.9" fill="#f8f8f8" /><polygon points="921.7,250.8 930.5,247.0 930.8,239.5 922.0,243.3" fill="#dadada" /><polygon points="911.1,242.3 921.7,250.8 922.0,243.3 911.3,234.8" fill="#828282" /><polygon points="911.3,234.8 920.1,231.1 930.8,239.5 922.0,243.3" fill="#f8f8f8" /><polygon points="1076.8,266.5 1081.7,264.3 1082.4,256.8 1077.5,259.0" fill="#dadada" /><polygon points="1044.1,241.8 1076.8,266.5 1077.5,259.0 1044.7,234.4" fill="#828282" /><polygon points="1044.7,234.4 1049.6,232.2 1082.4,256.8 1077.5,259.0" fill="#f8f8f8" /><polygon points="1101.0,262.4 1105.9,260.2 1106.4,254.8 1101.5,257.1" fill="#dadada" /><polygon points="1096.6,259.2 1101.0,262.4 1101.5,257.1 1097.2,253.8" fill="#828282" /><polygon points="1097.2,253.8 1102.0,251.6 1106.4,254.8 1101.5,257.1" fill="#f8f8f8" /><polygon points="1067.6,270.8 1072.5,268.5 1073.2,261.0 1068.2,263.3" fill="#dadada" /><polygon points="1034.9,245.9 1067.6,270.8 1068.2,263.3 1035.4,238.5" fill="#828282" /><polygon points="1035.4,238.5 1040.4,236.3 1073.2,261.0 1068.2,263.3" fill="#f8f8f8" /><polygon points="908.6,256.6 917.4,252.7 917.6,245.3 908.8,249.1" fill="#dadada" /><polygon points="898.0,248.0 908.6,256.6 908.8,249.1 898.2,240.5" fill="#828282" /><polygon points="898.2,240.5 906.9,236.7 917.6,245.3 908.8,249.1" fill="#f8f8f8" /><polygon points="934.6,258.5 943.3,254.6 943.6,248.2 934.8,252.1" fill="#dadada" /><polygon points="923.8,249.9 934.6,258.5 934.8,252.1 924.1,243.5" fill="#828282" /><polygon points="924.1,243.5 932.8,239.7 943.6,248.2 934.8,252.1" fill="#f8f8f8" /><polygon points="1091.8,266.6 1096.7,264.4 1097.3,259.0 1092.3,261.3" fill="#dadada" /><polygon points="1087.5,263.4 1091.8,266.6 1092.3,261.3 1088.0,258.0" fill="#828282" /><polygon points="1088.0,258.0 1092.9,255.8 1097.3,259.0 1092.3,261.3" fill="#f8f8f8" /><polygon points="1058.3,275.0 1063.2,272.7 1063.9,265.2 1058.9,267.5" fill="#dadada" /><polygon points="1025.6,250.1 1058.3,275.0 1058.9,267.5 1026.2,242.6" fill="#828282" /><polygon points="1026.2,242.6 1031.1,240.4 1063.9,265.2 1058.9,267.5" fill="#f8f8f8" /><polygon points="895.3,262.4 904.2,258.5 904.4,251.0 895.5,254.9" fill="#dadada" /><polygon points="884.7,253.7 895.3,262.4 895.5,254.9 884.9,246.3" fill="#828282" /><polygon points="884.9,246.3 893.7,242.4 904.4,251.0 895.5,254.9" fill="#f8f8f8" /><polygon points="921.4,264.3 930.2,260.4 930.5,254.0 921.6,257.9" fill="#dadada" /><polygon points="910.7,255.6 921.4,264.3 921.6,257.9 910.9,249.2" fill="#828282" /><polygon points="910.9,249.2 919.7,245.4 930.5,254.0 921.6,257.9" fill="#f8f8f8" /><polygon points="1082.6,270.9 1087.5,268.6 1088.0,263.3 1083.1,265.5" fill="#dadada" /><polygon points="1078.3,267.6 1082.6,270.9 1083.1,265.5 1078.8,262.3" fill="#828282" /><polygon points="1078.8,262.3 1083.7,260.0 1088.0,263.3 1083.1,265.5" fill="#f8f8f8" /><polygon points="1048.9,279.3 1053.9,277.0 1054.6,269.5 1049.6,271.8" fill="#dadada" /><polygon points="1016.3,254.2 1048.9,279.3 1049.6,271.8 1016.9,246.8" fill="#828282" /><polygon points="1016.9,246.8 1021.8,244.5 1054.6,269.5 1049.6,271.8" fill="#f8f8f8" /><polygon points="1073.4,275.1 1078.3,272.9 1078.8,267.5 1073.8,269.8" fill="#dadada" /><polygon points="1069.0,271.8 1073.4,275.1 1073.8,269.8 1069.5,266.5" fill="#828282" /><polygon points="1069.5,266.5 1074.4,264.2 1078.8,267.5 1073.8,269.8" fill="#f8f8f8" /><polygon points="862.2,265.6 868.7,262.8 868.8,255.2 862.3,258.0" fill="#dadada" /><polygon points="857.3,261.5 862.2,265.6 862.3,258.0 857.4,253.8" fill="#828282" /><polygon points="857.4,253.8 863.8,251.1 868.8,255.2 862.3,258.0" fill="#f8f8f8" /><polygon points="908.1,270.1 917.0,266.2 917.2,259.8 908.3,263.7" fill="#dadada" /><polygon points="897.4,261.4 908.1,270.1 908.3,263.7 897.6,255.0" fill="#828282" /><polygon points="897.6,255.0 906.5,251.2 917.2,259.8 908.3,263.7" fill="#f8f8f8" /><polygon points="1039.6,283.6 1044.6,281.3 1045.2,273.8 1040.2,276.1" fill="#dadada" /><polygon points="1007.0,258.4 1039.6,283.6 1040.2,276.1 1007.5,250.9" fill="#828282" /><polygon points="1007.5,250.9 1012.5,248.7 1045.2,273.8 1040.2,276.1" fill="#f8f8f8" /><polygon points="1064.1,279.4 1069.0,277.1 1069.5,271.8 1064.5,274.1" fill="#dadada" /><polygon points="1059.7,276.1 1064.1,279.4 1064.5,274.1 1060.2,270.8" fill="#828282" /><polygon points="1060.2,270.8 1065.2,268.5 1069.5,271.8 1064.5,274.1" fill="#f8f8f8" /><polygon points="1030.1,287.9 1035.2,285.6 1035.8,278.1 1030.7,280.4" fill="#dadada" /><polygon points="997.7,262.6 1030.1,287.9 1030.7,280.4 998.1,255.1" fill="#828282" /><polygon points="998.1,255.1 1003.1,252.9 1035.8,278.1 1030.7,280.4" fill="#f8f8f8" /><polygon points="873.7,275.1 880.2,272.3 880.3,264.6 873.8,267.5" fill="#dadada" /><polygon points="868.7,271.0 873.7,275.1 873.8,267.5 868.8,263.3" fill="#828282" /><polygon points="868.8,263.3 875.3,260.5 880.3,264.6 873.8,267.5" fill="#f8f8f8" /><polygon points="1054.7,283.7 1059.7,281.4 1060.2,276.1 1055.2,278.4" fill="#dadada" /><polygon points="1050.4,280.4 1054.7,283.7 1055.2,278.4 1050.8,275.0" fill="#828282" /><polygon points="1050.8,275.0 1055.8,272.7 1060.2,276.1 1055.2,278.4" fill="#f8f8f8" /><polygon points="1020.7,292.3 1025.7,289.9 1026.3,282.4 1021.2,284.7" fill="#dadada" /><polygon points="988.2,266.8 1020.7,292.3 1021.2,284.7 988.7,259.3" fill="#828282" /><polygon points="988.7,259.3 993.7,257.1 1026.3,282.4 1021.2,284.7" fill="#f8f8f8" /><polygon points="818.2,285.1 861.8,266.2 861.9,257.8 818.1,276.7" fill="#dadada" /><polygon points="812.7,280.4 818.2,285.1 818.1,276.7 812.7,272.0" fill="#828282" /><polygon points="812.7,272.0 856.4,253.2 861.9,257.8 818.1,276.7" fill="#f8f8f8" /><rect x="818.6" y="278.2" width="1.5" height="0.8" fill="#7c7c7c"/><rect x="821.1" y="277.1" width="1.5" height="0.8" fill="#7c7c7c"/><rect x="823.5" y="276.0" width="1.5" height="0.8" fill="#7c7c7c"/><rect x="826.0" y="275.0" width="1.5" height="0.8" fill="#7c7c7c"/><rect x="828.4" y="273.9" width="1.5" height="0.8" fill="#7c7c7c"/><rect x="830.9" y="272.9" width="1.5" height="0.8" fill="#7c7c7c"/><rect x="833.3" y="271.8" width="1.5" height="0.8" fill="#7c7c7c"/><rect x="835.7" y="270.8" width="1.4" height="0.8" fill="#7c7c7c"/><rect x="838.2" y="269.7" width="1.4" height="0.8" fill="#7c7c7c"/><rect x="840.6" y="268.7" width="1.4" height="0.8" fill="#7c7c7c"/><rect x="843.0" y="267.6" width="1.4" height="0.8" fill="#7c7c7c"/><rect x="845.5" y="266.6" width="1.4" height="0.8" fill="#7c7c7c"/><rect x="847.9" y="265.5" width="1.4" height="0.8" fill="#7c7c7c"/><rect x="850.3" y="264.5" width="1.4" height="0.8" fill="#7c7c7c"/><rect x="852.7" y="263.4" width="1.4" height="0.8" fill="#7c7c7c"/><rect x="855.1" y="262.4" width="1.4" height="0.8" fill="#7c7c7c"/><rect x="857.5" y="261.3" width="1.4" height="0.8" fill="#7c7c7c"/><rect x="860.0" y="260.3" width="1.4" height="0.8" fill="#7c7c7c"/><polygon points="1045.3,288.0 1050.3,285.7 1050.8,280.4 1045.8,282.7" fill="#dadada" /><polygon points="1041.0,284.7 1045.3,288.0 1045.8,282.7 1041.4,279.3" fill="#828282" /><polygon points="1041.4,279.3 1046.5,277.0 1050.8,280.4 1045.8,282.7" fill="#f8f8f8" /><polygon points="1011.2,296.6 1016.2,294.3 1016.8,286.8 1011.7,289.1" fill="#dadada" /><polygon points="978.8,271.1 1011.2,296.6 1011.7,289.1 979.2,263.6" fill="#828282" /><polygon points="979.2,263.6 984.3,261.3 1016.8,286.8 1011.7,289.1" fill="#f8f8f8" /><polygon points="885.3,284.8 891.8,281.9 892.0,274.2 885.5,277.1" fill="#dadada" /><polygon points="880.2,280.6 885.3,284.8 885.5,277.1 880.4,272.9" fill="#828282" /><polygon points="880.4,272.9 886.9,270.0 892.0,274.2 885.5,277.1" fill="#f8f8f8" /><polygon points="980.1,293.1 988.9,289.1 989.3,282.6 980.5,286.6" fill="#dadada" /><polygon points="966.1,281.9 980.1,293.1 980.5,286.6 966.5,275.5" fill="#828282" /><polygon points="966.5,275.5 975.3,271.5 989.3,282.6 980.5,286.6" fill="#f8f8f8" /><polygon points="1035.9,292.4 1040.9,290.1 1041.4,284.7 1036.3,287.0" fill="#dadada" /><polygon points="1031.6,289.0 1035.9,292.4 1036.3,287.0 1032.0,283.7" fill="#828282" /><polygon points="1032.0,283.7 1037.0,281.3 1041.4,284.7 1036.3,287.0" fill="#f8f8f8" /><polygon points="829.5,294.8 873.3,275.7 873.4,267.3 829.5,286.4" fill="#dadada" /><polygon points="824.0,290.1 829.5,294.8 829.5,286.4 824.0,281.7" fill="#828282" /><polygon points="824.0,281.7 867.8,262.7 873.4,267.3 829.5,286.4" fill="#f8f8f8" /><rect x="830.0" y="287.9" width="1.5" height="0.8" fill="#7c7c7c"/><rect x="832.5" y="286.8" width="1.5" height="0.8" fill="#7c7c7c"/><rect x="834.9" y="285.7" width="1.5" height="0.8" fill="#7c7c7c"/><rect x="837.4" y="284.7" width="1.5" height="0.8" fill="#7c7c7c"/><rect x="839.8" y="283.6" width="1.5" height="0.8" fill="#7c7c7c"/><rect x="842.3" y="282.5" width="1.5" height="0.8" fill="#7c7c7c"/><rect x="844.7" y="281.5" width="1.4" height="0.8" fill="#7c7c7c"/><rect x="847.2" y="280.4" width="1.4" height="0.8" fill="#7c7c7c"/><rect x="849.6" y="279.3" width="1.4" height="0.8" fill="#7c7c7c"/><rect x="852.1" y="278.3" width="1.4" height="0.8" fill="#7c7c7c"/><rect x="854.5" y="277.2" width="1.4" height="0.8" fill="#7c7c7c"/><rect x="856.9" y="276.1" width="1.4" height="0.8" fill="#7c7c7c"/><rect x="859.4" y="275.1" width="1.4" height="0.8" fill="#7c7c7c"/><rect x="861.8" y="274.0" width="1.4" height="0.8" fill="#7c7c7c"/><rect x="864.2" y="273.0" width="1.4" height="0.8" fill="#7c7c7c"/><rect x="866.6" y="271.9" width="1.4" height="0.8" fill="#7c7c7c"/><rect x="869.0" y="270.9" width="1.4" height="0.8" fill="#7c7c7c"/><rect x="871.5" y="269.8" width="1.4" height="0.8" fill="#7c7c7c"/><polygon points="808.7,288.9 817.2,285.2 817.1,278.0 808.7,281.7" fill="#c8c8c8" /><polygon points="803.8,284.6 808.7,288.9 808.7,281.7 803.8,277.5" fill="#828282" /><polygon points="803.8,277.5 812.2,273.8 817.1,278.0 808.7,281.7" fill="#f8f8f8" /><polygon points="1026.4,296.7 1031.5,294.4 1031.9,289.0 1026.8,291.4" fill="#dadada" /><polygon points="1022.1,293.4 1026.4,296.7 1026.8,291.4 1022.5,288.0" fill="#828282" /><polygon points="1022.5,288.0 1027.6,285.7 1031.9,289.0 1026.8,291.4" fill="#f8f8f8" /><polygon points="966.8,299.1 975.7,295.1 976.0,288.6 967.1,292.7" fill="#dadada" /><polygon points="952.9,287.9 966.8,299.1 967.1,292.7 953.2,281.4" fill="#828282" /><polygon points="953.2,281.4 962.0,277.5 976.0,288.6 967.1,292.7" fill="#f8f8f8" /><polygon points="789.6,294.8 806.2,287.6 806.1,281.5 789.5,288.7" fill="#dadada" /><polygon points="787.0,292.6 789.6,294.8 789.5,288.7 786.9,286.5" fill="#828282" /><polygon points="786.9,286.5 803.6,279.3 806.1,281.5 789.5,288.7" fill="#f8f8f8" /><polygon points="897.0,294.5 903.5,291.6 903.7,283.9 897.2,286.8" fill="#dadada" /><polygon points="891.9,290.2 897.0,294.5 897.2,286.8 892.1,282.5" fill="#828282" /><polygon points="892.1,282.5 898.6,279.7 903.7,283.9 897.2,286.8" fill="#f8f8f8" /><polygon points="996.4,303.4 1005.2,299.4 1005.7,291.8 996.8,295.9" fill="#dadada" /><polygon points="982.2,292.1 996.4,303.4 996.8,295.9 982.6,284.6" fill="#828282" /><polygon points="982.6,284.6 991.5,280.6 1005.7,291.8 996.8,295.9" fill="#f8f8f8" /><polygon points="1016.9,301.1 1022.0,298.8 1022.4,293.4 1017.3,295.8" fill="#dadada" /><polygon points="1012.6,297.7 1016.9,301.1 1017.3,295.8 1013.0,292.4" fill="#828282" /><polygon points="1013.0,292.4 1018.1,290.0 1022.4,293.4 1017.3,295.8" fill="#f8f8f8" /><polygon points="814.0,297.2 816.2,296.2 816.2,290.9 814.0,291.8" fill="#dadada" /><polygon points="804.0,288.6 814.0,297.2 814.0,291.8 803.9,283.2" fill="#828282" /><polygon points="803.9,283.2 806.1,282.3 816.2,290.9 814.0,291.8" fill="#f8f8f8" /><polygon points="841.0,304.7 884.9,285.3 885.0,276.9 841.1,296.2" fill="#dadada" /><polygon points="835.4,299.9 841.0,304.7 841.1,296.2 835.5,291.5" fill="#828282" /><polygon points="835.5,291.5 879.4,272.2 885.0,276.9 841.1,296.2" fill="#f8f8f8" /><rect x="841.5" y="297.7" width="1.5" height="0.8" fill="#7c7c7c"/><rect x="844.0" y="296.6" width="1.5" height="0.8" fill="#7c7c7c"/><rect x="846.5" y="295.5" width="1.5" height="0.8" fill="#7c7c7c"/><rect x="848.9" y="294.4" width="1.5" height="0.8" fill="#7c7c7c"/><rect x="851.4" y="293.4" width="1.5" height="0.8" fill="#7c7c7c"/><rect x="853.8" y="292.3" width="1.5" height="0.8" fill="#7c7c7c"/><rect x="856.3" y="291.2" width="1.4" height="0.8" fill="#7c7c7c"/><rect x="858.7" y="290.1" width="1.4" height="0.8" fill="#7c7c7c"/><rect x="861.2" y="289.1" width="1.4" height="0.8" fill="#7c7c7c"/><rect x="863.6" y="288.0" width="1.4" height="0.8" fill="#7c7c7c"/><rect x="866.1" y="286.9" width="1.4" height="0.8" fill="#7c7c7c"/><rect x="868.5" y="285.8" width="1.4" height="0.8" fill="#7c7c7c"/><rect x="870.9" y="284.8" width="1.4" height="0.8" fill="#7c7c7c"/><rect x="873.4" y="283.7" width="1.4" height="0.8" fill="#7c7c7c"/><rect x="875.8" y="282.6" width="1.4" height="0.8" fill="#7c7c7c"/><rect x="878.2" y="281.6" width="1.4" height="0.8" fill="#7c7c7c"/><rect x="880.7" y="280.5" width="1.4" height="0.8" fill="#7c7c7c"/><rect x="883.1" y="279.4" width="1.4" height="0.8" fill="#7c7c7c"/><polygon points="953.4,305.2 962.4,301.1 962.7,294.7 953.7,298.7" fill="#dadada" /><polygon points="939.5,293.9 953.4,305.2 953.7,298.7 939.8,287.4" fill="#828282" /><polygon points="939.8,287.4 948.7,283.4 962.7,294.7 953.7,298.7" fill="#f8f8f8" /><polygon points="820.1,298.6 828.5,294.9 828.5,287.8 820.0,291.5" fill="#c8c8c8" /><polygon points="815.1,294.4 820.1,298.6 820.0,291.5 815.1,287.2" fill="#828282" /><polygon points="815.1,287.2 823.5,283.5 828.5,287.8 820.0,291.5" fill="#f8f8f8" /><polygon points="785.6,298.6 791.1,296.2 791.1,290.8 785.5,293.2" fill="#dadada" /><polygon points="783.0,296.3 785.6,298.6 785.5,293.2 782.9,291.0" fill="#828282" /><polygon points="782.9,291.0 788.5,288.5 791.1,290.8 785.5,293.2" fill="#f8f8f8" /><polygon points="983.0,309.5 991.9,305.4 992.4,297.9 983.5,302.0" fill="#dadada" /><polygon points="968.9,298.1 983.0,309.5 983.5,302.0 969.3,290.6" fill="#828282" /><polygon points="969.3,290.6 978.2,286.6 992.4,297.9 983.5,302.0" fill="#f8f8f8" /><polygon points="908.9,304.3 915.4,301.4 915.6,293.7 909.1,296.6" fill="#dadada" /><polygon points="903.7,300.0 908.9,304.3 909.1,296.6 903.9,292.3" fill="#828282" /><polygon points="903.9,292.3 910.4,289.4 915.6,293.7 909.1,296.6" fill="#f8f8f8" /><polygon points="795.0,306.9 798.4,305.4 798.3,298.9 794.9,300.4" fill="#dadada" /><polygon points="783.0,296.3 795.0,306.9 794.9,300.4 782.9,289.9" fill="#828282" /><polygon points="782.9,289.9 786.2,288.4 798.3,298.9 794.9,300.4" fill="#f8f8f8" /><polygon points="802.2,305.8 818.8,298.5 818.8,292.4 802.1,299.7" fill="#dadada" /><polygon points="799.5,303.5 802.2,305.8 802.1,299.7 799.5,297.4" fill="#828282" /><polygon points="799.5,297.4 816.2,290.2 818.8,292.4 802.1,299.7" fill="#f8f8f8" /><polygon points="852.6,314.6 896.6,295.0 896.8,286.6 852.7,306.2" fill="#dadada" /><polygon points="847.0,309.8 852.6,314.6 852.7,306.2 847.1,301.3" fill="#828282" /><polygon points="847.1,301.3 891.1,281.9 896.8,286.6 852.7,306.2" fill="#f8f8f8" /><rect x="853.2" y="307.6" width="1.5" height="0.8" fill="#7c7c7c"/><rect x="855.7" y="306.5" width="1.5" height="0.8" fill="#7c7c7c"/><rect x="858.1" y="305.4" width="1.5" height="0.8" fill="#7c7c7c"/><rect x="860.6" y="304.3" width="1.5" height="0.8" fill="#7c7c7c"/><rect x="863.1" y="303.2" width="1.5" height="0.8" fill="#7c7c7c"/><rect x="865.5" y="302.2" width="1.4" height="0.8" fill="#7c7c7c"/><rect x="868.0" y="301.1" width="1.4" height="0.8" fill="#7c7c7c"/><rect x="870.4" y="300.0" width="1.4" height="0.8" fill="#7c7c7c"/><rect x="872.9" y="298.9" width="1.4" height="0.8" fill="#7c7c7c"/><rect x="875.3" y="297.8" width="1.4" height="0.8" fill="#7c7c7c"/><rect x="877.8" y="296.7" width="1.4" height="0.8" fill="#7c7c7c"/><rect x="880.2" y="295.6" width="1.4" height="0.8" fill="#7c7c7c"/><rect x="882.7" y="294.6" width="1.4" height="0.8" fill="#7c7c7c"/><rect x="885.1" y="293.5" width="1.4" height="0.8" fill="#7c7c7c"/><rect x="887.5" y="292.4" width="1.4" height="0.8" fill="#7c7c7c"/><rect x="890.0" y="291.3" width="1.4" height="0.8" fill="#7c7c7c"/><rect x="892.4" y="290.2" width="1.4" height="0.8" fill="#7c7c7c"/><rect x="894.8" y="289.2" width="1.4" height="0.8" fill="#7c7c7c"/><polygon points="795.0,306.9 800.6,304.4 800.5,299.0 794.9,301.5" fill="#dadada" /><polygon points="792.4,304.6 795.0,306.9 794.9,301.5 792.3,299.2" fill="#828282" /><polygon points="792.3,299.2 797.9,296.8 800.5,299.0 794.9,301.5" fill="#f8f8f8" /><polygon points="831.5,308.5 840.0,304.8 840.0,297.6 831.5,301.3" fill="#c8c8c8" /><polygon points="826.5,304.2 831.5,308.5 831.5,301.3 826.5,297.0" fill="#828282" /><polygon points="826.5,297.0 835.0,293.3 840.0,297.6 831.5,301.3" fill="#f8f8f8" /><polygon points="969.6,315.6 978.6,311.5 979.0,304.0 970.1,308.1" fill="#dadada" /><polygon points="955.6,304.2 969.6,315.6 970.1,308.1 955.9,296.7" fill="#828282" /><polygon points="955.9,296.7 964.9,292.6 979.0,304.0 970.1,308.1" fill="#f8f8f8" /><polygon points="920.9,314.3 927.4,311.3 927.7,303.6 921.1,306.5" fill="#dadada" /><polygon points="915.6,309.9 920.9,314.3 921.1,306.5 915.9,302.2" fill="#828282" /><polygon points="915.9,302.2 922.4,299.2 927.7,303.6 921.1,306.5" fill="#f8f8f8" /><polygon points="812.2,314.6 828.9,307.2 828.9,301.1 812.2,308.5" fill="#dadada" /><polygon points="809.6,312.3 812.2,314.6 812.2,308.5 809.6,306.2" fill="#828282" /><polygon points="809.6,306.2 826.3,298.9 828.9,301.1 812.2,308.5" fill="#f8f8f8" /><polygon points="772.4,319.5 776.7,317.6 776.5,309.5 772.2,311.4" fill="#dadada" /><polygon points="755.7,304.6 772.4,319.5 772.2,311.4 755.4,296.5" fill="#828282" /><polygon points="755.4,296.5 759.8,294.7 776.5,309.5 772.2,311.4" fill="#f8f8f8" /><polygon points="836.9,317.0 839.2,316.1 839.2,310.7 837.0,311.6" fill="#dadada" /><polygon points="826.7,308.2 836.9,317.0 837.0,311.6 826.7,302.8" fill="#828282" /><polygon points="826.7,302.8 828.9,301.9 839.2,310.7 837.0,311.6" fill="#f8f8f8" /><polygon points="864.4,324.7 908.4,304.9 908.7,296.4 864.5,316.2" fill="#dadada" /><polygon points="858.7,319.8 864.4,324.7 864.5,316.2 858.8,311.3" fill="#828282" /><polygon points="858.8,311.3 902.9,291.7 908.7,296.4 864.5,316.2" fill="#f8f8f8" /><rect x="864.9" y="317.7" width="1.5" height="0.8" fill="#7c7c7c"/><rect x="867.4" y="316.6" width="1.5" height="0.8" fill="#7c7c7c"/><rect x="869.9" y="315.4" width="1.5" height="0.8" fill="#7c7c7c"/><rect x="872.4" y="314.3" width="1.5" height="0.8" fill="#7c7c7c"/><rect x="874.9" y="313.2" width="1.4" height="0.8" fill="#7c7c7c"/><rect x="877.3" y="312.1" width="1.4" height="0.8" fill="#7c7c7c"/><rect x="879.8" y="311.0" width="1.4" height="0.8" fill="#7c7c7c"/><rect x="882.2" y="309.9" width="1.4" height="0.8" fill="#7c7c7c"/><rect x="884.7" y="308.8" width="1.4" height="0.8" fill="#7c7c7c"/><rect x="887.2" y="307.7" width="1.4" height="0.8" fill="#7c7c7c"/><rect x="889.6" y="306.6" width="1.4" height="0.8" fill="#7c7c7c"/><rect x="892.1" y="305.5" width="1.4" height="0.8" fill="#7c7c7c"/><rect x="894.5" y="304.4" width="1.4" height="0.8" fill="#7c7c7c"/><rect x="897.0" y="303.4" width="1.4" height="0.8" fill="#7c7c7c"/><rect x="899.4" y="302.3" width="1.4" height="0.8" fill="#7c7c7c"/><rect x="901.8" y="301.2" width="1.4" height="0.8" fill="#7c7c7c"/><rect x="904.3" y="300.1" width="1.4" height="0.8" fill="#7c7c7c"/><rect x="906.7" y="299.0" width="1.4" height="0.8" fill="#7c7c7c"/><polygon points="764.4,323.0 768.8,321.1 768.6,313.0 764.3,314.9" fill="#dadada" /><polygon points="747.8,308.0 764.4,323.0 764.3,314.9 747.5,299.9" fill="#828282" /><polygon points="747.5,299.9 751.9,298.1 768.6,313.0 764.3,314.9" fill="#f8f8f8" /><polygon points="843.1,318.5 851.6,314.7 851.7,307.5 843.2,311.3" fill="#c8c8c8" /><polygon points="838.0,314.1 843.1,318.5 843.2,311.3 838.1,306.9" fill="#828282" /><polygon points="838.1,306.9 846.6,303.2 851.7,307.5 843.2,311.3" fill="#f8f8f8" /><polygon points="808.2,318.4 813.8,316.0 813.8,310.6 808.2,313.0" fill="#dadada" /><polygon points="805.6,316.1 808.2,318.4 808.2,313.0 805.6,310.7" fill="#828282" /><polygon points="805.6,310.7 811.2,308.3 813.8,310.6 808.2,313.0" fill="#f8f8f8" /><polygon points="753.5,327.8 757.8,325.9 757.6,317.8 753.2,319.7" fill="#dadada" /><polygon points="736.9,312.8 753.5,327.8 753.2,319.7 736.6,304.7" fill="#828282" /><polygon points="736.6,304.7 741.0,302.8 757.6,317.8 753.2,319.7" fill="#f8f8f8" /><polygon points="933.0,324.3 939.5,321.3 939.8,313.6 933.3,316.6" fill="#dadada" /><polygon points="927.7,319.9 933.0,324.3 933.3,316.6 928.0,312.2" fill="#828282" /><polygon points="928.0,312.2 934.5,309.2 939.8,313.6 933.3,316.6" fill="#f8f8f8" /><polygon points="817.9,326.9 821.2,325.4 821.2,318.9 817.9,320.4" fill="#dadada" /><polygon points="805.6,316.1 817.9,326.9 817.9,320.4 805.5,309.7" fill="#828282" /><polygon points="805.5,309.7 808.9,308.2 821.2,318.9 817.9,320.4" fill="#f8f8f8" /><polygon points="825.1,325.8 841.8,318.4 841.9,312.2 825.1,319.7" fill="#dadada" /><polygon points="822.4,323.5 825.1,325.8 825.1,319.7 822.4,317.4" fill="#828282" /><polygon points="822.4,317.4 839.2,309.9 841.9,312.2 825.1,319.7" fill="#f8f8f8" /><polygon points="745.5,331.3 749.9,329.4 749.6,321.2 745.2,323.2" fill="#dadada" /><polygon points="728.9,316.2 745.5,331.3 745.2,323.2 728.6,308.1" fill="#828282" /><polygon points="728.6,308.1 733.0,306.2 749.6,321.2 745.2,323.2" fill="#f8f8f8" /><polygon points="876.2,334.8 920.4,314.8 920.7,306.4 876.4,326.3" fill="#dadada" /><polygon points="870.5,329.9 876.2,334.8 876.4,326.3 870.6,321.4" fill="#828282" /><polygon points="870.6,321.4 914.9,301.6 920.7,306.4 876.4,326.3" fill="#f8f8f8" /><rect x="876.9" y="327.8" width="1.5" height="0.8" fill="#7c7c7c"/><rect x="879.3" y="326.7" width="1.5" height="0.8" fill="#7c7c7c"/><rect x="881.8" y="325.6" width="1.5" height="0.8" fill="#7c7c7c"/><rect x="884.3" y="324.5" width="1.4" height="0.8" fill="#7c7c7c"/><rect x="886.8" y="323.3" width="1.4" height="0.8" fill="#7c7c7c"/><rect x="889.3" y="322.2" width="1.4" height="0.8" fill="#7c7c7c"/><rect x="891.7" y="321.1" width="1.4" height="0.8" fill="#7c7c7c"/><rect x="894.2" y="320.0" width="1.4" height="0.8" fill="#7c7c7c"/><rect x="896.7" y="318.9" width="1.4" height="0.8" fill="#7c7c7c"/><rect x="899.1" y="317.8" width="1.4" height="0.8" fill="#7c7c7c"/><rect x="901.6" y="316.7" width="1.4" height="0.8" fill="#7c7c7c"/><rect x="904.0" y="315.6" width="1.4" height="0.8" fill="#7c7c7c"/><rect x="906.5" y="314.5" width="1.4" height="0.8" fill="#7c7c7c"/><rect x="908.9" y="313.3" width="1.4" height="0.8" fill="#7c7c7c"/><rect x="911.4" y="312.2" width="1.4" height="0.8" fill="#7c7c7c"/><rect x="913.8" y="311.1" width="1.4" height="0.8" fill="#7c7c7c"/><rect x="916.3" y="310.0" width="1.4" height="0.8" fill="#7c7c7c"/><rect x="918.7" y="308.9" width="1.4" height="0.8" fill="#7c7c7c"/><polygon points="817.9,326.9 823.5,324.4 823.5,319.0 817.9,321.5" fill="#dadada" /><polygon points="815.2,324.6 817.9,326.9 817.9,321.5 815.2,319.2" fill="#828282" /><polygon points="815.2,319.2 820.8,316.7 823.5,319.0 817.9,321.5" fill="#f8f8f8" /><polygon points="854.8,328.6 863.3,324.8 863.4,317.6 854.9,321.4" fill="#c8c8c8" /><polygon points="849.7,324.2 854.8,328.6 854.9,321.4 849.7,317.0" fill="#828282" /><polygon points="849.7,317.0 858.3,313.2 863.4,317.6 854.9,321.4" fill="#f8f8f8" /><polygon points="734.4,336.1 738.8,334.2 738.6,326.1 734.1,328.0" fill="#dadada" /><polygon points="717.9,321.0 734.4,336.1 734.1,328.0 717.6,312.9" fill="#828282" /><polygon points="717.6,312.9 722.0,311.0 738.6,326.1 734.1,328.0" fill="#f8f8f8" /><polygon points="788.0,335.3 793.7,332.7 793.6,324.2 787.9,326.8" fill="#dadada" /><polygon points="771.0,320.1 788.0,335.3 787.9,326.8 770.9,311.6" fill="#828282" /><polygon points="770.9,311.6 776.5,309.2 793.6,324.2 787.9,326.8" fill="#f8f8f8" /><polygon points="945.2,334.5 951.8,331.5 952.1,323.7 945.6,326.7" fill="#dadada" /><polygon points="939.9,330.0 945.2,334.5 945.6,326.7 940.2,322.3" fill="#828282" /><polygon points="940.2,322.3 946.8,319.3 952.1,323.7 945.6,326.7" fill="#f8f8f8" /><polygon points="726.4,339.7 730.8,337.7 730.5,329.6 726.1,331.5" fill="#dadada" /><polygon points="709.9,324.4 726.4,339.7 726.1,331.5 709.5,316.3" fill="#828282" /><polygon points="709.5,316.3 713.9,314.4 730.5,329.6 726.1,331.5" fill="#f8f8f8" /><polygon points="835.4,334.8 852.2,327.3 852.2,321.2 835.4,328.7" fill="#dadada" /><polygon points="832.7,332.5 835.4,334.8 835.4,328.7 832.7,326.3" fill="#828282" /><polygon points="832.7,326.3 849.5,318.8 852.2,321.2 835.4,328.7" fill="#f8f8f8" /><polygon points="780.1,338.8 785.8,336.2 785.6,327.8 779.9,330.3" fill="#dadada" /><polygon points="763.1,323.6 780.1,338.8 779.9,330.3 762.9,315.1" fill="#828282" /><polygon points="762.9,315.1 768.6,312.6 785.6,327.8 779.9,330.3" fill="#f8f8f8" /><polygon points="663.1,340.2 668.6,337.8 668.4,334.6 662.9,336.9" fill="#dadada" /><polygon points="659.4,336.6 663.1,340.2 662.9,336.9 659.2,333.4" fill="#828282" /><polygon points="659.2,333.4 664.6,331.0 668.4,334.6 662.9,336.9" fill="#f8f8f8" /><polygon points="860.4,337.3 862.6,336.3 862.7,330.9 860.5,331.9" fill="#dadada" /><polygon points="850.0,328.3 860.4,337.3 860.5,331.9 850.0,322.9" fill="#828282" /><polygon points="850.0,322.9 852.2,321.9 862.7,330.9 860.5,331.9" fill="#f8f8f8" /><polygon points="888.2,345.1 932.5,324.9 932.9,316.4 888.4,336.6" fill="#dadada" /><polygon points="882.4,340.1 888.2,345.1 888.4,336.6 882.6,331.6" fill="#828282" /><polygon points="882.6,331.6 927.0,311.5 932.9,316.4 888.4,336.6" fill="#f8f8f8" /><rect x="888.9" y="338.1" width="1.5" height="0.8" fill="#7c7c7c"/><rect x="891.4" y="336.9" width="1.5" height="0.8" fill="#7c7c7c"/><rect x="893.9" y="335.8" width="1.4" height="0.8" fill="#7c7c7c"/><rect x="896.4" y="334.7" width="1.4" height="0.8" fill="#7c7c7c"/><rect x="898.8" y="333.6" width="1.4" height="0.8" fill="#7c7c7c"/><rect x="901.3" y="332.4" width="1.4" height="0.8" fill="#7c7c7c"/><rect x="903.8" y="331.3" width="1.4" height="0.8" fill="#7c7c7c"/><rect x="906.3" y="330.2" width="1.4" height="0.8" fill="#7c7c7c"/><rect x="908.7" y="329.0" width="1.4" height="0.8" fill="#7c7c7c"/><rect x="911.2" y="327.9" width="1.4" height="0.8" fill="#7c7c7c"/><rect x="913.7" y="326.8" width="1.4" height="0.8" fill="#7c7c7c"/><rect x="916.1" y="325.7" width="1.4" height="0.8" fill="#7c7c7c"/><rect x="918.6" y="324.6" width="1.4" height="0.8" fill="#7c7c7c"/><rect x="921.1" y="323.4" width="1.4" height="0.8" fill="#7c7c7c"/><rect x="923.5" y="322.3" width="1.4" height="0.8" fill="#7c7c7c"/><rect x="926.0" y="321.2" width="1.4" height="0.8" fill="#7c7c7c"/><rect x="928.4" y="320.1" width="1.4" height="0.8" fill="#7c7c7c"/><rect x="930.9" y="319.0" width="1.4" height="0.8" fill="#7c7c7c"/><polygon points="715.2,344.5 719.6,342.6 719.3,334.5 714.8,336.4" fill="#dadada" /><polygon points="698.7,329.2 715.2,344.5 714.8,336.4 698.3,321.1" fill="#828282" /><polygon points="698.3,321.1 702.8,319.2 719.3,334.5 714.8,336.4" fill="#f8f8f8" /><polygon points="866.7,338.8 875.2,334.9 875.3,327.7 866.8,331.6" fill="#c8c8c8" /><polygon points="861.5,334.3 866.7,338.8 866.8,331.6 861.6,327.1" fill="#828282" /><polygon points="861.6,327.1 870.1,323.3 875.3,327.7 866.8,331.6" fill="#f8f8f8" /><polygon points="769.0,343.7 774.7,341.1 774.6,332.6 768.8,335.2" fill="#dadada" /><polygon points="752.1,328.4 769.0,343.7 768.8,335.2 751.9,319.9" fill="#828282" /><polygon points="751.9,319.9 757.6,317.4 774.6,332.6 768.8,335.2" fill="#f8f8f8" /><polygon points="652.5,344.7 658.0,342.4 657.8,339.1 652.3,341.5" fill="#dadada" /><polygon points="648.8,341.2 652.5,344.7 652.3,341.5 648.6,337.9" fill="#828282" /><polygon points="648.6,337.9 654.1,335.6 657.8,339.1 652.3,341.5" fill="#f8f8f8" /><polygon points="831.4,338.8 837.0,336.2 837.0,330.8 831.4,333.3" fill="#dadada" /><polygon points="828.7,336.4 831.4,338.8 831.4,333.3 828.7,331.0" fill="#828282" /><polygon points="828.7,331.0 834.3,328.5 837.0,330.8 831.4,333.3" fill="#f8f8f8" /><polygon points="707.1,348.1 711.5,346.1 711.2,338.0 706.7,340.0" fill="#dadada" /><polygon points="690.7,332.7 707.1,348.1 706.7,340.0 690.2,324.6" fill="#828282" /><polygon points="690.2,324.6 694.7,322.7 711.2,338.0 706.7,340.0" fill="#f8f8f8" /><polygon points="761.0,347.2 766.8,344.7 766.6,336.2 760.8,338.7" fill="#dadada" /><polygon points="744.2,331.9 761.0,347.2 760.8,338.7 743.9,323.4" fill="#828282" /><polygon points="743.9,323.4 749.6,320.9 766.6,336.2 760.8,338.7" fill="#f8f8f8" /><polygon points="641.9,349.3 647.4,346.9 647.2,343.7 641.7,346.1" fill="#dadada" /><polygon points="638.2,345.8 641.9,349.3 641.7,346.1 638.0,342.5" fill="#828282" /><polygon points="638.0,342.5 643.5,340.1 647.2,343.7 641.7,346.1" fill="#f8f8f8" /><polygon points="848.5,346.3 865.4,338.7 865.5,332.5 848.6,340.1" fill="#dadada" /><polygon points="845.8,343.9 848.5,346.3 848.6,340.1 845.9,337.8" fill="#828282" /><polygon points="845.9,337.8 862.7,330.2 865.5,332.5 848.6,340.1" fill="#f8f8f8" /><polygon points="841.3,347.4 844.6,345.9 844.7,339.4 841.3,340.9" fill="#dadada" /><polygon points="828.7,336.4 841.3,347.4 841.3,340.9 828.7,329.9" fill="#828282" /><polygon points="828.7,329.9 832.1,328.4 844.7,339.4 841.3,340.9" fill="#f8f8f8" /><polygon points="900.4,355.5 944.8,335.0 945.2,326.6 900.6,347.0" fill="#dadada" /><polygon points="894.5,350.5 900.4,355.5 900.6,347.0 894.7,342.0" fill="#828282" /><polygon points="894.7,342.0 939.2,321.6 945.2,326.6 900.6,347.0" fill="#f8f8f8" /><rect x="901.1" y="348.5" width="1.5" height="0.8" fill="#7c7c7c"/><rect x="903.6" y="347.3" width="1.4" height="0.8" fill="#7c7c7c"/><rect x="906.1" y="346.2" width="1.4" height="0.8" fill="#7c7c7c"/><rect x="908.5" y="345.0" width="1.4" height="0.8" fill="#7c7c7c"/><rect x="911.0" y="343.9" width="1.4" height="0.8" fill="#7c7c7c"/><rect x="913.5" y="342.7" width="1.4" height="0.8" fill="#7c7c7c"/><rect x="916.0" y="341.6" width="1.4" height="0.8" fill="#7c7c7c"/><rect x="918.5" y="340.5" width="1.4" height="0.8" fill="#7c7c7c"/><rect x="921.0" y="339.3" width="1.4" height="0.8" fill="#7c7c7c"/><rect x="923.4" y="338.2" width="1.4" height="0.8" fill="#7c7c7c"/><rect x="925.9" y="337.1" width="1.4" height="0.8" fill="#7c7c7c"/><rect x="928.4" y="335.9" width="1.4" height="0.8" fill="#7c7c7c"/><rect x="930.8" y="334.8" width="1.4" height="0.8" fill="#7c7c7c"/><rect x="933.3" y="333.7" width="1.4" height="0.8" fill="#7c7c7c"/><rect x="935.8" y="332.5" width="1.4" height="0.8" fill="#7c7c7c"/><rect x="938.2" y="331.4" width="1.4" height="0.8" fill="#7c7c7c"/><rect x="940.7" y="330.3" width="1.4" height="0.8" fill="#7c7c7c"/><rect x="943.1" y="329.2" width="1.4" height="0.8" fill="#7c7c7c"/><polygon points="749.9,352.1 755.7,349.6 755.4,341.1 749.6,343.6" fill="#dadada" /><polygon points="733.1,336.7 749.9,352.1 749.6,343.6 732.8,328.2" fill="#828282" /><polygon points="732.8,328.2 738.5,325.7 755.4,341.1 749.6,343.6" fill="#f8f8f8" /><polygon points="631.2,353.9 636.8,351.5 636.5,348.3 631.0,350.7" fill="#dadada" /><polygon points="627.6,350.3 631.2,353.9 631.0,350.7 627.3,347.1" fill="#828282" /><polygon points="627.3,347.1 632.9,344.7 636.5,348.3 631.0,350.7" fill="#f8f8f8" /><polygon points="841.3,347.4 846.9,344.9 846.9,339.4 841.3,342.0" fill="#dadada" /><polygon points="838.5,345.0 841.3,347.4 841.3,342.0 838.6,339.6" fill="#828282" /><polygon points="838.6,339.6 844.2,337.1 846.9,339.4 841.3,342.0" fill="#f8f8f8" /><polygon points="878.6,349.1 887.2,345.2 887.4,338.0 878.8,341.9" fill="#c8c8c8" /><polygon points="873.4,344.6 878.6,349.1 878.8,341.9 873.5,337.4" fill="#828282" /><polygon points="873.5,337.4 882.1,333.5 887.4,338.0 878.8,341.9" fill="#f8f8f8" /><polygon points="683.0,357.8 687.5,355.8 687.0,347.6 682.5,349.6" fill="#dadada" /><polygon points="667.3,342.8 683.0,357.8 682.5,349.6 666.8,334.7" fill="#828282" /><polygon points="666.8,334.7 671.3,332.8 687.0,347.6 682.5,349.6" fill="#f8f8f8" /><polygon points="741.8,355.7 747.6,353.2 747.3,344.6 741.5,347.2" fill="#dadada" /><polygon points="725.0,340.2 741.8,355.7 741.5,347.2 724.7,331.7" fill="#828282" /><polygon points="724.7,331.7 730.5,329.2 747.3,344.6 741.5,347.2" fill="#f8f8f8" /><polygon points="620.5,358.6 626.1,356.1 625.8,352.9 620.2,355.3" fill="#dadada" /><polygon points="616.8,354.9 620.5,358.6 620.2,355.3 616.6,351.7" fill="#828282" /><polygon points="616.6,351.7 622.2,349.3 625.8,352.9 620.2,355.3" fill="#f8f8f8" /><polygon points="672.3,362.4 676.9,360.4 676.4,352.3 671.9,354.3" fill="#dadada" /><polygon points="656.7,347.4 672.3,362.4 671.9,354.3 656.2,339.3" fill="#828282" /><polygon points="656.2,339.3 660.7,337.3 676.4,352.3 671.9,354.3" fill="#f8f8f8" /><polygon points="859.1,355.5 875.9,347.8 876.1,341.6 859.2,349.3" fill="#dadada" /><polygon points="856.3,353.1 859.1,355.5 859.2,349.3 856.4,346.9" fill="#828282" /><polygon points="856.4,346.9 873.3,339.3 876.1,341.6 859.2,349.3" fill="#f8f8f8" /><polygon points="730.5,360.7 736.4,358.1 736.1,349.6 730.2,352.2" fill="#dadada" /><polygon points="713.8,345.1 730.5,360.7 730.2,352.2 713.5,336.6" fill="#828282" /><polygon points="713.5,336.6 719.3,334.1 736.1,349.6 730.2,352.2" fill="#f8f8f8" /><polygon points="609.7,363.2 615.3,360.8 615.1,357.5 609.5,359.9" fill="#dadada" /><polygon points="606.1,359.6 609.7,363.2 609.5,359.9 605.8,356.3" fill="#828282" /><polygon points="605.8,356.3 611.4,353.9 615.1,357.5 609.5,359.9" fill="#f8f8f8" /><polygon points="884.4,358.0 886.6,357.0 886.8,351.6 884.5,352.6" fill="#dadada" /><polygon points="873.7,348.8 884.4,358.0 884.5,352.6 873.8,343.4" fill="#828282" /><polygon points="873.8,343.4 876.1,342.4 886.8,351.6 884.5,352.6" fill="#f8f8f8" /><polygon points="722.4,364.3 728.2,361.7 727.9,353.2 722.0,355.8" fill="#dadada" /><polygon points="705.7,348.7 722.4,364.3 722.0,355.8 705.3,340.2" fill="#828282" /><polygon points="705.3,340.2 711.2,337.6 727.9,353.2 722.0,355.8" fill="#f8f8f8" /><polygon points="661.7,367.1 666.2,365.1 665.7,356.9 661.2,358.9" fill="#dadada" /><polygon points="646.1,352.0 661.7,367.1 661.2,358.9 645.5,343.9" fill="#828282" /><polygon points="645.5,343.9 650.1,341.9 665.7,356.9 661.2,358.9" fill="#f8f8f8" /><polygon points="825.2,361.6 829.6,359.6 829.6,351.4 825.2,353.4" fill="#dadada" /><polygon points="809.0,347.2 825.2,361.6 825.2,353.4 809.0,339.0" fill="#828282" /><polygon points="809.0,339.0 813.4,337.1 829.6,351.4 825.2,353.4" fill="#f8f8f8" /><polygon points="598.9,367.9 604.5,365.4 604.2,362.2 598.6,364.6" fill="#dadada" /><polygon points="595.3,364.2 598.9,367.9 598.6,364.6 595.0,361.0" fill="#828282" /><polygon points="595.0,361.0 600.6,358.6 604.2,362.2 598.6,364.6" fill="#f8f8f8" /><polygon points="890.7,359.6 899.3,355.6 899.5,348.4 890.9,352.3" fill="#c8c8c8" /><polygon points="885.4,355.0 890.7,359.6 890.9,352.3 885.6,347.7" fill="#828282" /><polygon points="885.6,347.7 894.2,343.8 899.5,348.4 890.9,352.3" fill="#f8f8f8" /><polygon points="855.1,359.5 860.7,356.9 860.8,351.5 855.1,354.1" fill="#dadada" /><polygon points="852.3,357.1 855.1,359.5 855.1,354.1 852.4,351.7" fill="#828282" /><polygon points="852.4,351.7 858.0,349.1 860.8,351.5 855.1,354.1" fill="#f8f8f8" /><polygon points="650.9,371.8 655.5,369.8 655.0,361.6 650.4,363.6" fill="#dadada" /><polygon points="635.4,356.6 650.9,371.8 650.4,363.6 634.8,348.5" fill="#828282" /><polygon points="634.8,348.5 639.4,346.5 655.0,361.6 650.4,363.6" fill="#f8f8f8" /><polygon points="588.0,372.6 593.7,370.1 593.4,366.9 587.7,369.3" fill="#dadada" /><polygon points="584.4,368.9 588.0,372.6 587.7,369.3 584.1,365.7" fill="#828282" /><polygon points="584.1,365.7 589.7,363.2 593.4,366.9 587.7,369.3" fill="#f8f8f8" /><polygon points="815.5,366.0 819.8,364.0 819.8,355.8 815.4,357.8" fill="#dadada" /><polygon points="799.3,351.5 815.5,366.0 815.4,357.8 799.2,343.4" fill="#828282" /><polygon points="799.2,343.4 803.6,341.4 819.8,355.8 815.4,357.8" fill="#f8f8f8" /><polygon points="872.5,367.2 889.4,359.4 889.6,353.3 872.6,361.0" fill="#dadada" /><polygon points="869.7,364.8 872.5,367.2 872.6,361.0 869.8,358.6" fill="#828282" /><polygon points="869.8,358.6 886.8,350.9 889.6,353.3 872.6,361.0" fill="#f8f8f8" /><polygon points="640.2,376.5 644.8,374.5 644.2,366.3 639.6,368.3" fill="#dadada" /><polygon points="624.7,361.3 640.2,376.5 639.6,368.3 624.1,353.1" fill="#828282" /><polygon points="624.1,353.1 628.7,351.1 644.2,366.3 639.6,368.3" fill="#f8f8f8" /><polygon points="577.1,377.3 582.8,374.8 582.4,371.6 576.7,374.0" fill="#dadada" /><polygon points="573.4,373.6 577.1,377.3 576.7,374.0 573.1,370.4" fill="#828282" /><polygon points="573.1,370.4 578.8,367.9 582.4,371.6 576.7,374.0" fill="#f8f8f8" /><polygon points="865.2,368.4 868.6,366.8 868.7,360.3 865.3,361.8" fill="#dadada" /><polygon points="852.3,357.1 865.2,368.4 865.3,361.8 852.4,350.6" fill="#828282" /><polygon points="852.4,350.6 855.8,349.0 868.7,360.3 865.3,361.8" fill="#f8f8f8" /><polygon points="697.5,373.6 703.4,370.9 703.0,362.4 697.1,365.0" fill="#dadada" /><polygon points="681.6,358.4 697.5,373.6 697.1,365.0 681.1,349.8" fill="#828282" /><polygon points="681.1,349.8 687.0,347.3 703.0,362.4 697.1,365.0" fill="#f8f8f8" /><polygon points="805.6,370.4 810.1,368.4 810.0,360.3 805.6,362.3" fill="#dadada" /><polygon points="789.5,355.9 805.6,370.4 805.6,362.3 789.4,347.7" fill="#828282" /><polygon points="789.4,347.7 793.8,345.8 810.0,360.3 805.6,362.3" fill="#f8f8f8" /><polygon points="865.2,368.4 870.8,365.8 870.9,360.3 865.2,362.9" fill="#dadada" /><polygon points="862.4,365.9 865.2,368.4 865.2,362.9 862.5,360.5" fill="#828282" /><polygon points="862.5,360.5 868.1,357.9 870.9,360.3 865.2,362.9" fill="#f8f8f8" /><polygon points="566.1,382.0 571.8,379.6 571.5,376.3 565.7,378.8" fill="#dadada" /><polygon points="562.5,378.3 566.1,382.0 565.7,378.8 562.1,375.1" fill="#828282" /><polygon points="562.1,375.1 567.9,372.6 571.5,376.3 565.7,378.8" fill="#f8f8f8" /><polygon points="629.3,381.2 634.0,379.2 633.4,371.0 628.7,373.0" fill="#dadada" /><polygon points="613.9,365.9 629.3,381.2 628.7,373.0 613.2,357.8" fill="#828282" /><polygon points="613.2,357.8 617.9,355.8 633.4,371.0 628.7,373.0" fill="#f8f8f8" /><polygon points="686.8,378.3 692.8,375.6 692.3,367.1 686.4,369.7" fill="#dadada" /><polygon points="671.0,363.0 686.8,378.3 686.4,369.7 670.5,354.5" fill="#828282" /><polygon points="670.5,354.5 676.4,351.9 692.3,367.1 686.4,369.7" fill="#f8f8f8" /><polygon points="795.8,374.9 800.2,372.9 800.1,364.7 795.7,366.7" fill="#dadada" /><polygon points="779.7,360.3 795.8,374.9 795.7,366.7 779.6,352.1" fill="#828282" /><polygon points="779.6,352.1 784.0,350.2 800.1,364.7 795.7,366.7" fill="#f8f8f8" /><polygon points="840.3,376.8 846.0,374.2 846.1,365.6 840.4,368.3" fill="#dadada" /><polygon points="823.9,362.2 840.3,376.8 840.4,368.3 823.9,353.6" fill="#828282" /><polygon points="823.9,353.6 829.6,351.1 846.1,365.6 840.4,368.3" fill="#f8f8f8" /><polygon points="618.4,386.0 623.1,384.0 622.5,375.8 617.8,377.8" fill="#dadada" /><polygon points="603.1,370.6 618.4,386.0 617.8,377.8 602.4,362.4" fill="#828282" /><polygon points="602.4,362.4 607.0,360.4 622.5,375.8 617.8,377.8" fill="#f8f8f8" /><polygon points="676.1,383.0 682.1,380.4 681.6,371.8 675.6,374.5" fill="#dadada" /><polygon points="660.3,367.7 676.1,383.0 675.6,374.5 659.7,359.2" fill="#828282" /><polygon points="659.7,359.2 665.7,356.6 681.6,371.8 675.6,374.5" fill="#f8f8f8" /><polygon points="785.9,379.4 790.3,377.4 790.2,369.2 785.8,371.2" fill="#dadada" /><polygon points="769.9,364.7 785.9,379.4 785.8,371.2 769.7,356.6" fill="#828282" /><polygon points="769.7,356.6 774.1,354.6 790.2,369.2 785.8,371.2" fill="#f8f8f8" /><polygon points="607.5,390.8 612.2,388.7 611.5,380.5 606.8,382.6" fill="#dadada" /><polygon points="592.2,375.3 607.5,390.8 606.8,382.6 591.4,367.1" fill="#828282" /><polygon points="591.4,367.1 596.1,365.1 611.5,380.5 606.8,382.6" fill="#f8f8f8" /><polygon points="830.5,381.3 836.3,378.7 836.3,370.1 830.5,372.8" fill="#dadada" /><polygon points="814.1,366.6 830.5,381.3 830.5,372.8 814.1,358.1" fill="#828282" /><polygon points="814.1,358.1 819.8,355.5 836.3,370.1 830.5,372.8" fill="#f8f8f8" /><polygon points="665.3,387.8 671.3,385.1 670.8,376.6 664.8,379.2" fill="#dadada" /><polygon points="649.6,372.4 665.3,387.8 664.8,379.2 649.0,363.9" fill="#828282" /><polygon points="649.0,363.9 655.0,361.2 670.8,376.6 664.8,379.2" fill="#f8f8f8" /><polygon points="775.9,383.9 780.4,381.9 780.3,373.7 775.8,375.7" fill="#dadada" /><polygon points="760.0,369.2 775.9,383.9 775.8,375.7 759.7,361.0" fill="#828282" /><polygon points="759.7,361.0 764.2,359.0 780.3,373.7 775.8,375.7" fill="#f8f8f8" /><polygon points="596.5,395.6 601.2,393.5 600.5,385.3 595.8,387.4" fill="#dadada" /><polygon points="581.2,380.1 596.5,395.6 595.8,387.4 580.4,371.9" fill="#828282" /><polygon points="580.4,371.9 585.1,369.9 600.5,385.3 595.8,387.4" fill="#f8f8f8" /><polygon points="820.6,385.8 826.4,383.2 826.4,374.6 820.6,377.3" fill="#dadada" /><polygon points="804.3,371.1 820.6,385.8 820.6,377.3 804.2,362.5" fill="#828282" /><polygon points="804.2,362.5 810.0,359.9 826.4,374.6 820.6,377.3" fill="#f8f8f8" /><polygon points="654.5,392.6 660.5,389.9 660.0,381.4 653.9,384.0" fill="#dadada" /><polygon points="638.8,377.1 654.5,392.6 653.9,384.0 638.1,368.6" fill="#828282" /><polygon points="638.1,368.6 644.2,365.9 660.0,381.4 653.9,384.0" fill="#f8f8f8" /><polygon points="765.9,388.4 770.4,386.4 770.3,378.2 765.7,380.3" fill="#dadada" /><polygon points="750.0,373.6 765.9,388.4 765.7,380.3 749.8,365.5" fill="#828282" /><polygon points="749.8,365.5 754.3,363.4 770.3,378.2 765.7,380.3" fill="#f8f8f8" /><polygon points="585.5,400.4 590.2,398.4 589.4,390.2 584.7,392.2" fill="#dadada" /><polygon points="570.2,384.8 585.5,400.4 584.7,392.2 569.4,376.6" fill="#828282" /><polygon points="569.4,376.6 574.1,374.6 589.4,390.2 584.7,392.2" fill="#f8f8f8" /><polygon points="810.7,390.4 816.6,387.7 816.5,379.1 810.7,381.8" fill="#dadada" /><polygon points="794.4,375.5 810.7,390.4 810.7,381.8 794.3,367.0" fill="#828282" /><polygon points="794.3,367.0 800.1,364.4 816.5,379.1 810.7,381.8" fill="#f8f8f8" /><polygon points="643.6,397.4 649.7,394.7 649.1,386.2 643.0,388.9" fill="#dadada" /><polygon points="627.9,381.9 643.6,397.4 643.0,388.9 627.3,373.3" fill="#828282" /><polygon points="627.3,373.3 633.3,370.7 649.1,386.2 643.0,388.9" fill="#f8f8f8" /><polygon points="755.9,393.0 760.4,391.0 760.2,382.8 755.7,384.8" fill="#dadada" /><polygon points="740.0,378.1 755.9,393.0 755.7,384.8 739.7,369.9" fill="#828282" /><polygon points="739.7,369.9 744.2,367.9 760.2,382.8 755.7,384.8" fill="#f8f8f8" /><polygon points="632.7,402.3 638.8,399.6 638.1,391.0 632.0,393.7" fill="#dadada" /><polygon points="617.0,386.6 632.7,402.3 632.0,393.7 616.3,378.1" fill="#828282" /><polygon points="616.3,378.1 622.4,375.4 638.1,391.0 632.0,393.7" fill="#f8f8f8" /><polygon points="800.8,394.9 806.6,392.3 806.6,383.7 800.7,386.4" fill="#dadada" /><polygon points="784.5,380.0 800.8,394.9 800.7,386.4 784.4,371.5" fill="#828282" /><polygon points="784.4,371.5 790.2,368.8 806.6,383.7 800.7,386.4" fill="#f8f8f8" /><polygon points="541.1,405.6 548.6,402.4 547.7,394.5 540.2,397.8" fill="#dadada" /><polygon points="536.5,400.8 541.1,405.6 540.2,397.8 535.6,393.0" fill="#828282" /><polygon points="535.6,393.0 543.1,389.7 547.7,394.5 540.2,397.8" fill="#f8f8f8" /><polygon points="621.7,407.1 627.8,404.4 627.1,395.8 621.0,398.6" fill="#dadada" /><polygon points="606.1,391.4 621.7,407.1 621.0,398.6 605.3,382.8" fill="#828282" /><polygon points="605.3,382.8 611.5,380.2 627.1,395.8 621.0,398.6" fill="#f8f8f8" /><polygon points="790.8,399.5 796.7,396.8 796.6,388.3 790.7,390.9" fill="#dadada" /><polygon points="774.6,384.5 790.8,399.5 790.7,390.9 774.4,376.0" fill="#828282" /><polygon points="774.4,376.0 780.3,373.3 796.6,388.3 790.7,390.9" fill="#f8f8f8" /><polygon points="610.6,412.0 616.8,409.3 616.1,400.7 609.9,403.4" fill="#dadada" /><polygon points="595.1,396.2 610.6,412.0 609.9,403.4 594.3,387.7" fill="#828282" /><polygon points="594.3,387.7 600.5,385.0 616.1,400.7 609.9,403.4" fill="#f8f8f8" /><polygon points="730.9,404.3 735.5,402.2 735.2,394.0 730.6,396.1" fill="#dadada" /><polygon points="715.1,389.3 730.9,404.3 730.6,396.1 714.8,381.1" fill="#828282" /><polygon points="714.8,381.1 719.4,379.0 735.2,394.0 730.6,396.1" fill="#f8f8f8" /><polygon points="780.8,404.1 786.7,401.4 786.5,392.8 780.6,395.5" fill="#dadada" /><polygon points="764.6,389.1 780.8,404.1 780.6,395.5 764.4,380.5" fill="#828282" /><polygon points="764.4,380.5 770.3,377.8 786.5,392.8 780.6,395.5" fill="#f8f8f8" /><polygon points="486.5,429.7 540.5,406.2 539.5,397.6 485.3,421.1" fill="#dadada" /><polygon points="481.5,424.2 486.5,429.7 485.3,421.1 480.4,415.6" fill="#828282" /><polygon points="480.4,415.6 534.5,392.3 539.5,397.6 485.3,421.1" fill="#f8f8f8" /><rect x="486.2" y="422.5" width="1.9" height="0.7" fill="#7c7c7c"/><rect x="489.3" y="421.2" width="1.9" height="0.7" fill="#7c7c7c"/><rect x="492.3" y="419.9" width="1.9" height="0.7" fill="#7c7c7c"/><rect x="495.3" y="418.6" width="1.9" height="0.7" fill="#7c7c7c"/><rect x="498.4" y="417.3" width="1.9" height="0.7" fill="#7c7c7c"/><rect x="501.4" y="416.0" width="1.9" height="0.7" fill="#7c7c7c"/><rect x="504.4" y="414.6" width="1.9" height="0.7" fill="#7c7c7c"/><rect x="507.4" y="413.3" width="1.9" height="0.7" fill="#7c7c7c"/><rect x="510.5" y="412.0" width="1.9" height="0.7" fill="#7c7c7c"/><rect x="513.5" y="410.7" width="1.9" height="0.7" fill="#7c7c7c"/><rect x="516.5" y="409.4" width="1.9" height="0.7" fill="#7c7c7c"/><rect x="519.5" y="408.1" width="1.9" height="0.7" fill="#7c7c7c"/><rect x="522.5" y="406.8" width="1.9" height="0.7" fill="#7c7c7c"/><rect x="525.5" y="405.5" width="1.9" height="0.7" fill="#7c7c7c"/><rect x="528.5" y="404.2" width="1.8" height="0.7" fill="#7c7c7c"/><rect x="531.4" y="403.0" width="1.8" height="0.7" fill="#7c7c7c"/><rect x="534.4" y="401.7" width="1.8" height="0.7" fill="#7c7c7c"/><rect x="537.4" y="400.4" width="1.8" height="0.7" fill="#7c7c7c"/><polygon points="599.5,417.0 605.7,414.2 604.9,405.6 598.7,408.4" fill="#dadada" /><polygon points="584.0,401.1 599.5,417.0 598.7,408.4 583.2,392.5" fill="#828282" /><polygon points="583.2,392.5 589.4,389.8 604.9,405.6 598.7,408.4" fill="#f8f8f8" /><polygon points="721.5,408.6 726.1,406.5 725.8,398.3 721.2,400.4" fill="#dadada" /><polygon points="705.7,393.5 721.5,408.6 721.2,400.4 705.4,385.3" fill="#828282" /><polygon points="705.4,385.3 710.0,383.2 725.8,398.3 721.2,400.4" fill="#f8f8f8" /><polygon points="551.9,417.0 559.4,413.7 558.6,405.9 551.1,409.2" fill="#dadada" /><polygon points="547.3,412.2 551.9,417.0 551.1,409.2 546.4,404.3" fill="#828282" /><polygon points="546.4,404.3 554.0,401.0 558.6,405.9 551.1,409.2" fill="#f8f8f8" /><polygon points="770.7,408.8 776.6,406.0 776.4,397.5 770.5,400.2" fill="#dadada" /><polygon points="754.5,393.6 770.7,408.8 770.5,400.2 754.3,385.1" fill="#828282" /><polygon points="754.3,385.1 760.2,382.4 776.4,397.5 770.5,400.2" fill="#f8f8f8" /><polygon points="709.6,414.0 714.2,411.9 713.9,403.7 709.2,405.8" fill="#dadada" /><polygon points="693.9,398.8 709.6,414.0 709.2,405.8 693.5,390.6" fill="#828282" /><polygon points="693.5,390.6 698.1,388.5 713.9,403.7 709.2,405.8" fill="#f8f8f8" /><polygon points="475.5,434.1 485.4,429.8 484.4,422.5 474.5,426.8" fill="#c8c8c8" /><polygon points="471.1,429.1 475.5,434.1 474.5,426.8 470.1,421.8" fill="#828282" /><polygon points="470.1,421.8 479.9,417.6 484.4,422.5 474.5,426.8" fill="#f8f8f8" /><polygon points="700.1,418.3 704.7,416.2 704.4,408.0 699.7,410.1" fill="#dadada" /><polygon points="684.4,403.0 700.1,418.3 699.7,410.1 684.0,394.8" fill="#828282" /><polygon points="684.0,394.8 688.6,392.7 704.4,408.0 699.7,410.1" fill="#f8f8f8" /><polygon points="497.1,441.4 551.3,417.6 550.4,409.0 496.0,432.8" fill="#dadada" /><polygon points="492.1,435.9 497.1,441.4 496.0,432.8 491.0,427.3" fill="#828282" /><polygon points="491.0,427.3 545.3,403.7 550.4,409.0 496.0,432.8" fill="#f8f8f8" /><rect x="496.9" y="434.2" width="1.9" height="0.7" fill="#7c7c7c"/><rect x="499.9" y="432.9" width="1.9" height="0.7" fill="#7c7c7c"/><rect x="503.0" y="431.5" width="1.9" height="0.7" fill="#7c7c7c"/><rect x="506.0" y="430.2" width="1.9" height="0.7" fill="#7c7c7c"/><rect x="509.1" y="428.9" width="1.9" height="0.7" fill="#7c7c7c"/><rect x="512.1" y="427.6" width="1.9" height="0.7" fill="#7c7c7c"/><rect x="515.1" y="426.2" width="1.9" height="0.7" fill="#7c7c7c"/><rect x="518.2" y="424.9" width="1.9" height="0.7" fill="#7c7c7c"/><rect x="521.2" y="423.6" width="1.9" height="0.7" fill="#7c7c7c"/><rect x="524.2" y="422.3" width="1.9" height="0.7" fill="#7c7c7c"/><rect x="527.2" y="421.0" width="1.9" height="0.7" fill="#7c7c7c"/><rect x="530.2" y="419.6" width="1.9" height="0.7" fill="#7c7c7c"/><rect x="533.3" y="418.3" width="1.9" height="0.7" fill="#7c7c7c"/><rect x="536.3" y="417.0" width="1.9" height="0.7" fill="#7c7c7c"/><rect x="539.3" y="415.7" width="1.9" height="0.7" fill="#7c7c7c"/><rect x="542.3" y="414.4" width="1.8" height="0.7" fill="#7c7c7c"/><rect x="545.2" y="413.1" width="1.8" height="0.7" fill="#7c7c7c"/><rect x="548.2" y="411.8" width="1.8" height="0.7" fill="#7c7c7c"/><polygon points="453.7,441.0 473.0,432.6 472.2,426.4 452.7,434.8" fill="#dadada" /><polygon points="451.3,438.4 453.7,441.0 452.7,434.8 450.4,432.2" fill="#828282" /><polygon points="450.4,432.2 469.8,423.8 472.2,426.4 452.7,434.8" fill="#f8f8f8" /><polygon points="745.6,420.3 751.6,417.5 751.3,408.9 745.3,411.7" fill="#dadada" /><polygon points="729.5,405.0 745.6,420.3 745.3,411.7 729.2,396.4" fill="#828282" /><polygon points="729.2,396.4 735.2,393.7 751.3,408.9 745.3,411.7" fill="#f8f8f8" /><polygon points="562.9,428.6 570.4,425.2 569.6,417.4 562.0,420.7" fill="#dadada" /><polygon points="558.2,423.6 562.9,428.6 562.0,420.7 557.4,415.8" fill="#828282" /><polygon points="557.4,415.8 564.9,412.5 569.6,417.4 562.0,420.7" fill="#f8f8f8" /><polygon points="688.1,423.8 692.8,421.6 692.3,413.4 687.6,415.5" fill="#dadada" /><polygon points="672.5,408.4 688.1,423.8 687.6,415.5 672.0,400.2" fill="#828282" /><polygon points="672.0,400.2 676.6,398.1 692.3,413.4 687.6,415.5" fill="#f8f8f8" /><polygon points="479.8,444.2 482.4,443.0 481.7,437.5 479.1,438.7" fill="#dadada" /><polygon points="470.5,433.7 479.8,444.2 479.1,438.7 469.7,428.3" fill="#828282" /><polygon points="469.7,428.3 472.3,427.1 481.7,437.5 479.1,438.7" fill="#f8f8f8" /><polygon points="736.1,424.6 742.1,421.8 741.9,413.3 735.8,416.0" fill="#dadada" /><polygon points="720.1,409.2 736.1,424.6 735.8,416.0 719.8,400.6" fill="#828282" /><polygon points="719.8,400.6 725.8,397.9 741.9,413.3 735.8,416.0" fill="#f8f8f8" /><polygon points="448.6,445.4 455.1,442.6 454.2,437.1 447.7,439.9" fill="#dadada" /><polygon points="446.2,442.8 448.6,445.4 447.7,439.9 445.4,437.3" fill="#828282" /><polygon points="445.4,437.3 451.9,434.5 454.2,437.1 447.7,439.9" fill="#f8f8f8" /><polygon points="678.5,428.1 683.2,426.0 682.7,417.8 678.0,419.9" fill="#dadada" /><polygon points="662.9,412.7 678.5,428.1 678.0,419.9 662.4,404.5" fill="#828282" /><polygon points="662.4,404.5 667.1,402.4 682.7,417.8 678.0,419.9" fill="#f8f8f8" /><polygon points="486.1,445.8 496.0,441.5 495.1,434.2 485.1,438.5" fill="#c8c8c8" /><polygon points="481.6,440.8 486.1,445.8 485.1,438.5 480.6,433.5" fill="#828282" /><polygon points="480.6,433.5 490.5,429.2 495.1,434.2 485.1,438.5" fill="#f8f8f8" /><polygon points="724.2,430.1 730.2,427.3 729.9,418.7 723.8,421.5" fill="#dadada" /><polygon points="708.2,414.6 724.2,430.1 723.8,421.5 707.8,406.0" fill="#828282" /><polygon points="707.8,406.0 713.9,403.3 729.9,418.7 723.8,421.5" fill="#f8f8f8" /><polygon points="666.3,433.6 671.1,431.5 670.6,423.2 665.8,425.4" fill="#dadada" /><polygon points="650.8,418.1 666.3,433.6 665.8,425.4 650.3,409.9" fill="#828282" /><polygon points="650.3,409.9 655.0,407.8 670.6,423.2 665.8,425.4" fill="#f8f8f8" /><polygon points="751.7,426.1 757.7,423.3 757.6,419.3 751.6,422.1" fill="#dadada" /><polygon points="747.2,421.8 751.7,426.1 751.6,422.1 747.1,417.8" fill="#828282" /><polygon points="747.1,417.8 753.1,415.0 757.6,419.3 751.6,422.1" fill="#f8f8f8" /><polygon points="457.4,455.5 461.3,453.7 460.3,447.1 456.4,448.8" fill="#dadada" /><polygon points="446.2,442.8 457.4,455.5 456.4,448.8 445.2,436.2" fill="#828282" /><polygon points="445.2,436.2 449.1,434.5 460.3,447.1 456.4,448.8" fill="#f8f8f8" /><polygon points="507.9,453.2 562.3,429.2 561.4,420.6 506.8,444.6" fill="#dadada" /><polygon points="502.8,447.6 507.9,453.2 506.8,444.6 501.7,439.0" fill="#828282" /><polygon points="501.7,439.0 556.2,415.2 561.4,420.6 506.8,444.6" fill="#f8f8f8" /><rect x="507.7" y="446.0" width="1.9" height="0.7" fill="#7c7c7c"/><rect x="510.7" y="444.7" width="1.9" height="0.7" fill="#7c7c7c"/><rect x="513.8" y="443.3" width="1.9" height="0.7" fill="#7c7c7c"/><rect x="516.8" y="442.0" width="1.9" height="0.7" fill="#7c7c7c"/><rect x="519.9" y="440.6" width="1.9" height="0.7" fill="#7c7c7c"/><rect x="522.9" y="439.3" width="1.9" height="0.7" fill="#7c7c7c"/><rect x="526.0" y="438.0" width="1.9" height="0.7" fill="#7c7c7c"/><rect x="529.0" y="436.6" width="1.9" height="0.7" fill="#7c7c7c"/><rect x="532.1" y="435.3" width="1.9" height="0.7" fill="#7c7c7c"/><rect x="535.1" y="434.0" width="1.9" height="0.7" fill="#7c7c7c"/><rect x="538.1" y="432.6" width="1.9" height="0.7" fill="#7c7c7c"/><rect x="541.2" y="431.3" width="1.9" height="0.7" fill="#7c7c7c"/><rect x="544.2" y="430.0" width="1.9" height="0.7" fill="#7c7c7c"/><rect x="547.2" y="428.6" width="1.9" height="0.7" fill="#7c7c7c"/><rect x="550.2" y="427.3" width="1.9" height="0.7" fill="#7c7c7c"/><rect x="553.2" y="426.0" width="1.8" height="0.7" fill="#7c7c7c"/><rect x="556.2" y="424.7" width="1.8" height="0.7" fill="#7c7c7c"/><rect x="559.2" y="423.3" width="1.8" height="0.7" fill="#7c7c7c"/><polygon points="714.6,434.5 720.7,431.7 720.3,423.1 714.2,425.9" fill="#dadada" /><polygon points="698.7,418.9 714.6,434.5 714.2,425.9 698.3,410.4" fill="#828282" /><polygon points="698.3,410.4 704.3,407.6 720.3,423.1 714.2,425.9" fill="#f8f8f8" /><polygon points="656.6,438.0 661.4,435.9 660.8,427.6 656.1,429.8" fill="#dadada" /><polygon points="641.1,422.4 656.6,438.0 656.1,429.8 640.5,414.2" fill="#828282" /><polygon points="640.5,414.2 645.3,412.1 660.8,427.6 656.1,429.8" fill="#f8f8f8" /><polygon points="465.3,454.2 484.8,445.7 484.0,439.4 464.4,448.0" fill="#dadada" /><polygon points="463.0,451.5 465.3,454.2 464.4,448.0 462.1,445.3" fill="#828282" /><polygon points="462.1,445.3 481.6,436.8 484.0,439.4 464.4,448.0" fill="#f8f8f8" /><polygon points="573.9,440.2 581.5,436.9 580.7,429.0 573.1,432.4" fill="#dadada" /><polygon points="569.2,435.3 573.9,440.2 573.1,432.4 568.4,427.4" fill="#828282" /><polygon points="568.4,427.4 576.0,424.0 580.7,429.0 573.1,432.4" fill="#f8f8f8" /><polygon points="742.2,430.4 748.2,427.7 748.1,423.6 742.1,426.4" fill="#dadada" /><polygon points="737.7,426.2 742.2,430.4 742.1,426.4 737.6,422.1" fill="#828282" /><polygon points="737.6,422.1 743.6,419.4 748.1,423.6 742.1,426.4" fill="#f8f8f8" /><polygon points="457.4,455.5 463.9,452.6 463.1,447.1 456.6,449.9" fill="#dadada" /><polygon points="455.0,452.8 457.4,455.5 456.6,449.9 454.2,447.3" fill="#828282" /><polygon points="454.2,447.3 460.8,444.4 463.1,447.1 456.6,449.9" fill="#f8f8f8" /><polygon points="437.7,466.6 442.6,464.4 441.3,456.0 436.4,458.1" fill="#dadada" /><polygon points="423.0,449.6 437.7,466.6 436.4,458.1 421.7,441.1" fill="#828282" /><polygon points="421.7,441.1 426.5,439.1 441.3,456.0 436.4,458.1" fill="#f8f8f8" /><polygon points="702.5,440.0 708.7,437.2 708.3,428.6 702.1,431.4" fill="#dadada" /><polygon points="686.7,424.4 702.5,440.0 702.1,431.4 686.2,415.8" fill="#828282" /><polygon points="686.2,415.8 692.3,413.0 708.3,428.6 702.1,431.4" fill="#f8f8f8" /><polygon points="644.4,443.6 649.1,441.4 648.6,433.2 643.8,435.3" fill="#dadada" /><polygon points="628.9,427.9 644.4,443.6 643.8,435.3 628.3,419.7" fill="#828282" /><polygon points="628.3,419.7 633.1,417.5 648.6,433.2 643.8,435.3" fill="#f8f8f8" /><polygon points="730.2,436.0 736.3,433.2 736.1,429.1 730.1,431.9" fill="#dadada" /><polygon points="725.8,431.7 730.2,436.0 730.1,431.9 725.6,427.6" fill="#828282" /><polygon points="725.6,427.6 731.7,424.8 736.1,429.1 730.1,431.9" fill="#f8f8f8" /><polygon points="428.1,470.8 432.9,468.7 431.6,460.2 426.7,462.3" fill="#dadada" /><polygon points="413.4,453.7 428.1,470.8 426.7,462.3 412.0,445.3" fill="#828282" /><polygon points="412.0,445.3 416.8,443.2 431.6,460.2 426.7,462.3" fill="#f8f8f8" /><polygon points="634.6,448.0 639.3,445.9 638.7,437.6 633.9,439.8" fill="#dadada" /><polygon points="619.2,432.3 634.6,448.0 633.9,439.8 618.5,424.0" fill="#828282" /><polygon points="618.5,424.0 623.3,421.9 638.7,437.6 633.9,439.8" fill="#f8f8f8" /><polygon points="496.9,457.7 506.8,453.3 505.8,446.0 495.9,450.4" fill="#c8c8c8" /><polygon points="492.3,452.6 496.9,457.7 495.9,450.4 491.3,445.3" fill="#828282" /><polygon points="491.3,445.3 501.2,441.0 505.8,446.0 495.9,450.4" fill="#f8f8f8" /><polygon points="692.9,444.5 699.0,441.6 698.6,433.0 692.4,435.8" fill="#dadada" /><polygon points="677.0,428.8 692.9,444.5 692.4,435.8 676.5,420.2" fill="#828282" /><polygon points="676.5,420.2 682.7,417.4 698.6,433.0 692.4,435.8" fill="#f8f8f8" /><polygon points="418.3,475.0 423.2,472.9 421.8,464.5 416.9,466.6" fill="#dadada" /><polygon points="403.7,457.9 418.3,475.0 416.9,466.6 402.3,449.5" fill="#828282" /><polygon points="402.3,449.5 407.2,447.4 421.8,464.5 416.9,466.6" fill="#f8f8f8" /><polygon points="720.6,440.4 726.7,437.6 726.6,433.5 720.5,436.4" fill="#dadada" /><polygon points="716.2,436.1 720.6,440.4 720.5,436.4 716.0,432.0" fill="#828282" /><polygon points="716.0,432.0 722.1,429.2 726.6,433.5 720.5,436.4" fill="#f8f8f8" /><polygon points="408.6,479.3 413.5,477.2 412.1,468.7 407.1,470.9" fill="#dadada" /><polygon points="394.0,462.1 408.6,479.3 407.1,470.9 392.5,453.7" fill="#828282" /><polygon points="392.5,453.7 397.4,451.6 412.1,468.7 407.1,470.9" fill="#f8f8f8" /><polygon points="518.8,465.2 573.3,440.9 572.5,432.3 517.7,456.6" fill="#dadada" /><polygon points="513.6,459.6 518.8,465.2 517.7,456.6 512.6,450.9" fill="#828282" /><polygon points="512.6,450.9 567.2,426.8 572.5,432.3 517.7,456.6" fill="#f8f8f8" /><rect x="518.6" y="458.0" width="1.9" height="0.7" fill="#7c7c7c"/><rect x="521.7" y="456.6" width="1.9" height="0.7" fill="#7c7c7c"/><rect x="524.7" y="455.3" width="1.9" height="0.7" fill="#7c7c7c"/><rect x="527.8" y="453.9" width="1.9" height="0.7" fill="#7c7c7c"/><rect x="530.9" y="452.5" width="1.9" height="0.7" fill="#7c7c7c"/><rect x="533.9" y="451.2" width="1.9" height="0.7" fill="#7c7c7c"/><rect x="537.0" y="449.8" width="1.9" height="0.7" fill="#7c7c7c"/><rect x="540.0" y="448.5" width="1.9" height="0.7" fill="#7c7c7c"/><rect x="543.1" y="447.1" width="1.9" height="0.7" fill="#7c7c7c"/><rect x="546.1" y="445.8" width="1.9" height="0.7" fill="#7c7c7c"/><rect x="549.2" y="444.4" width="1.9" height="0.7" fill="#7c7c7c"/><rect x="552.2" y="443.1" width="1.9" height="0.7" fill="#7c7c7c"/><rect x="555.2" y="441.7" width="1.9" height="0.7" fill="#7c7c7c"/><rect x="558.2" y="440.4" width="1.9" height="0.7" fill="#7c7c7c"/><rect x="561.3" y="439.0" width="1.9" height="0.7" fill="#7c7c7c"/><rect x="564.3" y="437.7" width="1.8" height="0.7" fill="#7c7c7c"/><rect x="567.3" y="436.4" width="1.8" height="0.7" fill="#7c7c7c"/><rect x="570.3" y="435.0" width="1.8" height="0.7" fill="#7c7c7c"/><polygon points="474.8,464.8 494.3,456.2 493.5,450.0 473.9,458.6" fill="#dadada" /><polygon points="472.4,462.2 474.8,464.8 473.9,458.6 471.5,455.9" fill="#828282" /><polygon points="471.5,455.9 491.1,447.3 493.5,450.0 473.9,458.6" fill="#f8f8f8" /><polygon points="585.2,452.1 592.8,448.7 592.0,440.8 584.4,444.2" fill="#dadada" /><polygon points="580.4,447.0 585.2,452.1 584.4,444.2 579.6,439.1" fill="#828282" /><polygon points="579.6,439.1 587.2,435.8 592.0,440.8 584.4,444.2" fill="#f8f8f8" /><polygon points="680.7,450.1 686.9,447.2 686.4,438.6 680.2,441.4" fill="#dadada" /><polygon points="664.9,434.3 680.7,450.1 680.2,441.4 664.4,425.7" fill="#828282" /><polygon points="664.4,425.7 670.5,422.9 686.4,438.6 680.2,441.4" fill="#f8f8f8" /><polygon points="398.8,483.6 403.7,481.5 402.2,473.0 397.3,475.1" fill="#dadada" /><polygon points="384.3,466.3 398.8,483.6 397.3,475.1 382.8,457.9" fill="#828282" /><polygon points="382.8,457.9 387.7,455.8 402.2,473.0 397.3,475.1" fill="#f8f8f8" /><polygon points="708.6,445.9 714.7,443.1 714.5,439.1 708.4,441.9" fill="#dadada" /><polygon points="704.1,441.6 708.6,445.9 708.4,441.9 703.9,437.6" fill="#828282" /><polygon points="703.9,437.6 710.1,434.8 714.5,439.1 708.4,441.9" fill="#f8f8f8" /><polygon points="388.9,487.9 393.9,485.8 392.4,477.3 387.4,479.5" fill="#dadada" /><polygon points="374.5,470.6 388.9,487.9 387.4,479.5 372.9,462.1" fill="#828282" /><polygon points="372.9,462.1 377.9,460.0 392.4,477.3 387.4,479.5" fill="#f8f8f8" /><polygon points="501.3,468.1 503.9,466.9 503.2,461.4 500.6,462.5" fill="#dadada" /><polygon points="491.7,457.4 501.3,468.1 500.6,462.5 491.0,451.9" fill="#828282" /><polygon points="491.0,451.9 493.6,450.7 503.2,461.4 500.6,462.5" fill="#f8f8f8" /><polygon points="670.9,454.5 677.1,451.7 676.6,443.1 670.4,445.9" fill="#dadada" /><polygon points="655.2,438.7 670.9,454.5 670.4,445.9 654.6,430.1" fill="#828282" /><polygon points="654.6,430.1 660.8,427.3 676.6,443.1 670.4,445.9" fill="#f8f8f8" /><polygon points="469.7,469.4 476.2,466.5 475.4,460.9 468.9,463.8" fill="#dadada" /><polygon points="467.3,466.7 469.7,469.4 468.9,463.8 466.5,461.1" fill="#828282" /><polygon points="466.5,461.1 473.0,458.3 475.4,460.9 468.9,463.8" fill="#f8f8f8" /><polygon points="379.0,492.3 384.0,490.1 382.5,481.6 377.5,483.8" fill="#dadada" /><polygon points="364.6,474.8 379.0,492.3 377.5,483.8 363.0,466.4" fill="#828282" /><polygon points="363.0,466.4 368.0,464.2 382.5,481.6 377.5,483.8" fill="#f8f8f8" /><polygon points="698.9,450.4 705.0,447.6 704.8,443.5 698.7,446.4" fill="#dadada" /><polygon points="694.5,446.0 698.9,450.4 698.7,446.4 694.3,442.0" fill="#828282" /><polygon points="694.3,442.0 700.4,439.2 704.8,443.5 698.7,446.4" fill="#f8f8f8" /><polygon points="369.1,496.6 374.1,494.4 372.5,486.0 367.5,488.1" fill="#dadada" /><polygon points="354.7,479.1 369.1,496.6 367.5,488.1 353.1,470.6" fill="#828282" /><polygon points="353.1,470.6 358.1,468.5 372.5,486.0 367.5,488.1" fill="#f8f8f8" /><polygon points="507.7,469.8 517.7,465.3 516.7,458.0 506.8,462.4" fill="#c8c8c8" /><polygon points="503.1,464.6 507.7,469.8 506.8,462.4 502.1,457.3" fill="#828282" /><polygon points="502.1,457.3 512.1,452.9 516.7,458.0 506.8,462.4" fill="#f8f8f8" /><polygon points="658.6,460.2 664.8,457.3 664.3,448.7 658.0,451.6" fill="#dadada" /><polygon points="642.9,444.2 658.6,460.2 658.0,451.6 642.3,435.6" fill="#828282" /><polygon points="642.3,435.6 648.5,432.8 664.3,448.7 658.0,451.6" fill="#f8f8f8" /><polygon points="451.2,484.5 457.6,481.7 456.3,472.8 449.8,475.7" fill="#dadada" /><polygon points="436.2,467.2 451.2,484.5 449.8,475.7 434.8,458.4" fill="#828282" /><polygon points="434.8,458.4 441.2,455.6 456.3,472.8 449.8,475.7" fill="#f8f8f8" /><polygon points="359.1,501.0 364.1,498.8 362.5,490.3 357.5,492.5" fill="#dadada" /><polygon points="344.8,483.4 359.1,501.0 357.5,492.5 343.2,474.9" fill="#828282" /><polygon points="343.2,474.9 348.2,472.8 362.5,490.3 357.5,492.5" fill="#f8f8f8" /><polygon points="478.7,479.6 482.7,477.9 481.7,471.2 477.8,473.0" fill="#dadada" /><polygon points="467.3,466.7 478.7,479.6 477.8,473.0 466.3,460.0" fill="#828282" /><polygon points="466.3,460.0 470.3,458.3 481.7,471.2 477.8,473.0" fill="#f8f8f8" /><polygon points="686.7,456.0 692.9,453.2 692.6,449.2 686.4,452.0" fill="#dadada" /><polygon points="682.3,451.6 686.7,456.0 686.4,452.0 682.0,447.6" fill="#828282" /><polygon points="682.0,447.6 688.2,444.8 692.6,449.2 686.4,452.0" fill="#f8f8f8" /><polygon points="529.8,477.3 584.6,452.7 583.7,444.1 528.8,468.7" fill="#dadada" /><polygon points="524.6,471.6 529.8,477.3 528.8,468.7 523.5,463.0" fill="#828282" /><polygon points="523.5,463.0 578.4,438.5 583.7,444.1 528.8,468.7" fill="#f8f8f8" /><rect x="529.6" y="470.1" width="1.9" height="0.7" fill="#7c7c7c"/><rect x="532.7" y="468.7" width="1.9" height="0.7" fill="#7c7c7c"/><rect x="535.8" y="467.3" width="1.9" height="0.7" fill="#7c7c7c"/><rect x="538.9" y="466.0" width="1.9" height="0.7" fill="#7c7c7c"/><rect x="542.0" y="464.6" width="1.9" height="0.7" fill="#7c7c7c"/><rect x="545.0" y="463.2" width="1.9" height="0.7" fill="#7c7c7c"/><rect x="548.1" y="461.8" width="1.9" height="0.7" fill="#7c7c7c"/><rect x="551.2" y="460.5" width="1.9" height="0.7" fill="#7c7c7c"/><rect x="554.2" y="459.1" width="1.9" height="0.7" fill="#7c7c7c"/><rect x="557.3" y="457.7" width="1.9" height="0.7" fill="#7c7c7c"/><rect x="560.3" y="456.4" width="1.9" height="0.7" fill="#7c7c7c"/><rect x="563.4" y="455.0" width="1.9" height="0.7" fill="#7c7c7c"/><rect x="566.4" y="453.6" width="1.9" height="0.7" fill="#7c7c7c"/><rect x="569.4" y="452.3" width="1.9" height="0.7" fill="#7c7c7c"/><rect x="572.5" y="450.9" width="1.9" height="0.7" fill="#7c7c7c"/><rect x="575.5" y="449.6" width="1.8" height="0.7" fill="#7c7c7c"/><rect x="578.5" y="448.2" width="1.8" height="0.7" fill="#7c7c7c"/><rect x="581.5" y="446.9" width="1.8" height="0.7" fill="#7c7c7c"/><polygon points="441.4,488.8 447.9,486.0 446.5,477.1 440.1,480.0" fill="#dadada" /><polygon points="426.5,471.5 441.4,488.8 440.1,480.0 425.1,462.6" fill="#828282" /><polygon points="425.1,462.6 431.5,459.8 446.5,477.1 440.1,480.0" fill="#f8f8f8" /><polygon points="648.7,464.7 655.0,461.8 654.4,453.2 648.1,456.1" fill="#dadada" /><polygon points="633.1,448.7 648.7,464.7 648.1,456.1 632.4,440.1" fill="#828282" /><polygon points="632.4,440.1 638.7,437.2 654.4,453.2 648.1,456.1" fill="#f8f8f8" /><polygon points="349.1,505.4 354.1,503.2 352.5,494.7 347.4,496.9" fill="#dadada" /><polygon points="334.9,487.7 349.1,505.4 347.4,496.9 333.2,479.2" fill="#828282" /><polygon points="333.2,479.2 338.2,477.1 352.5,494.7 347.4,496.9" fill="#f8f8f8" /><polygon points="596.5,464.0 604.1,460.6 603.4,452.7 595.8,456.1" fill="#dadada" /><polygon points="591.7,458.9 596.5,464.0 595.8,456.1 590.9,451.0" fill="#828282" /><polygon points="590.9,451.0 598.6,447.6 603.4,452.7 595.8,456.1" fill="#f8f8f8" /><polygon points="486.7,478.3 506.3,469.6 505.5,463.3 485.9,472.1" fill="#dadada" /><polygon points="484.3,475.6 486.7,478.3 485.9,472.1 483.5,469.4" fill="#828282" /><polygon points="483.5,469.4 503.1,460.6 505.5,463.3 485.9,472.1" fill="#f8f8f8" /><polygon points="676.9,460.6 683.1,457.7 682.9,453.7 676.6,456.5" fill="#dadada" /><polygon points="672.5,456.1 676.9,460.6 676.6,456.5 672.2,452.1" fill="#828282" /><polygon points="672.2,452.1 678.5,449.3 682.9,453.7 676.6,456.5" fill="#f8f8f8" /><polygon points="431.7,493.2 438.1,490.3 436.7,481.5 430.2,484.3" fill="#dadada" /><polygon points="416.8,475.7 431.7,493.2 430.2,484.3 415.3,466.9" fill="#828282" /><polygon points="415.3,466.9 421.8,464.1 436.7,481.5 430.2,484.3" fill="#f8f8f8" /><polygon points="339.0,509.8 344.1,507.6 342.4,499.1 337.3,501.3" fill="#dadada" /><polygon points="324.8,492.1 339.0,509.8 337.3,501.3 323.1,483.6" fill="#828282" /><polygon points="323.1,483.6 328.2,481.4 342.4,499.1 337.3,501.3" fill="#f8f8f8" /><polygon points="478.7,479.6 485.3,476.7 484.5,471.2 477.9,474.1" fill="#dadada" /><polygon points="476.3,476.9 478.7,479.6 477.9,474.1 475.5,471.4" fill="#828282" /><polygon points="475.5,471.4 482.1,468.5 484.5,471.2 477.9,474.1" fill="#f8f8f8" /><polygon points="328.9,514.2 334.0,512.0 332.3,503.5 327.2,505.7" fill="#dadada" /><polygon points="314.8,496.4 328.9,514.2 327.2,505.7 313.0,487.9" fill="#828282" /><polygon points="313.0,487.9 318.1,485.7 332.3,503.5 327.2,505.7" fill="#f8f8f8" /><polygon points="421.8,497.5 428.3,494.6 426.9,485.8 420.4,488.7" fill="#dadada" /><polygon points="407.0,480.0 421.8,497.5 420.4,488.7 405.5,471.2" fill="#828282" /><polygon points="405.5,471.2 412.0,468.3 426.9,485.8 420.4,488.7" fill="#f8f8f8" /><polygon points="265.1,521.3 274.0,517.5 272.1,509.3 263.2,513.2" fill="#bdbdbd" /><polygon points="261.4,516.5 265.1,521.3 263.2,513.2 259.5,508.4" fill="#828282" /><polygon points="259.5,508.4 268.4,504.5 272.1,509.3 263.2,513.2" fill="#f8f8f8" /><polygon points="664.5,466.2 670.8,463.4 670.5,459.3 664.3,462.2" fill="#dadada" /><polygon points="660.2,461.8 664.5,466.2 664.3,462.2 659.9,457.8" fill="#828282" /><polygon points="659.9,457.8 666.2,454.9 670.5,459.3 664.3,462.2" fill="#f8f8f8" /><polygon points="318.8,518.7 323.8,516.4 322.1,507.9 317.0,510.2" fill="#dadada" /><polygon points="304.7,500.8 318.8,518.7 317.0,510.2 302.9,492.3" fill="#828282" /><polygon points="302.9,492.3 308.0,490.1 322.1,507.9 317.0,510.2" fill="#f8f8f8" /><polygon points="412.0,501.9 418.5,499.0 417.0,490.2 410.5,493.0" fill="#dadada" /><polygon points="397.2,484.3 412.0,501.9 410.5,493.0 395.7,475.5" fill="#828282" /><polygon points="395.7,475.5 402.2,472.6 417.0,490.2 410.5,493.0" fill="#f8f8f8" /><polygon points="518.7,481.9 528.7,477.4 527.8,470.1 517.8,474.6" fill="#c8c8c8" /><polygon points="514.0,476.7 518.7,481.9 517.8,474.6 513.1,469.4" fill="#828282" /><polygon points="513.1,469.4 523.1,464.9 527.8,470.1 517.8,474.6" fill="#f8f8f8" /><polygon points="308.6,523.1 313.7,520.9 311.9,512.4 306.7,514.6" fill="#dadada" /><polygon points="294.6,505.2 308.6,523.1 306.7,514.6 292.7,496.7" fill="#828282" /><polygon points="292.7,496.7 297.8,494.5 311.9,512.4 306.7,514.6" fill="#f8f8f8" /><polygon points="402.0,506.3 408.6,503.4 407.1,494.5 400.5,497.4" fill="#dadada" /><polygon points="387.3,488.6 402.0,506.3 400.5,497.4 385.8,479.8" fill="#828282" /><polygon points="385.8,479.8 392.3,476.9 407.1,494.5 400.5,497.4" fill="#f8f8f8" /><polygon points="654.6,470.8 660.9,467.9 660.7,463.9 654.4,466.8" fill="#dadada" /><polygon points="650.3,466.3 654.6,470.8 654.4,466.8 650.0,462.3" fill="#828282" /><polygon points="650.0,462.3 656.3,459.4 660.7,463.9 654.4,466.8" fill="#f8f8f8" /><polygon points="210.2,545.5 263.6,522.3 261.6,513.4 207.9,536.6" fill="#dadada" /><polygon points="206.2,540.0 210.2,545.5 207.9,536.6 203.9,531.1" fill="#828282" /><polygon points="203.9,531.1 257.5,508.0 261.6,513.4 207.9,536.6" fill="#f8f8f8" /><rect x="209.3" y="538.0" width="2.3" height="0.7" fill="#7c7c7c"/><rect x="213.2" y="536.3" width="2.3" height="0.7" fill="#7c7c7c"/><rect x="217.1" y="534.6" width="2.3" height="0.7" fill="#7c7c7c"/><rect x="220.9" y="533.0" width="2.3" height="0.7" fill="#7c7c7c"/><rect x="224.8" y="531.3" width="2.3" height="0.7" fill="#7c7c7c"/><rect x="228.6" y="529.6" width="2.3" height="0.7" fill="#7c7c7c"/><rect x="232.5" y="528.0" width="2.3" height="0.7" fill="#7c7c7c"/><rect x="236.3" y="526.3" width="2.3" height="0.7" fill="#7c7c7c"/><rect x="240.1" y="524.7" width="2.3" height="0.7" fill="#7c7c7c"/><rect x="243.9" y="523.0" width="2.3" height="0.7" fill="#7c7c7c"/><rect x="247.7" y="521.4" width="2.2" height="0.7" fill="#7c7c7c"/><rect x="251.6" y="519.7" width="2.2" height="0.7" fill="#7c7c7c"/><rect x="255.4" y="518.1" width="2.2" height="0.7" fill="#7c7c7c"/><rect x="259.2" y="516.5" width="2.2" height="0.7" fill="#7c7c7c"/><polygon points="540.9,489.6 595.9,464.7 595.1,456.0 539.9,480.9" fill="#dadada" /><polygon points="535.7,483.8 540.9,489.6 539.9,480.9 534.7,475.2" fill="#828282" /><polygon points="534.7,475.2 589.8,450.4 595.1,456.0 539.9,480.9" fill="#f8f8f8" /><rect x="540.8" y="482.4" width="1.9" height="0.7" fill="#7c7c7c"/><rect x="543.9" y="481.0" width="1.9" height="0.7" fill="#7c7c7c"/><rect x="547.0" y="479.6" width="1.9" height="0.7" fill="#7c7c7c"/><rect x="550.1" y="478.2" width="1.9" height="0.7" fill="#7c7c7c"/><rect x="553.2" y="476.8" width="1.9" height="0.7" fill="#7c7c7c"/><rect x="556.3" y="475.4" width="1.9" height="0.7" fill="#7c7c7c"/><rect x="559.4" y="474.0" width="1.9" height="0.7" fill="#7c7c7c"/><rect x="562.4" y="472.6" width="1.9" height="0.7" fill="#7c7c7c"/><rect x="565.5" y="471.2" width="1.9" height="0.7" fill="#7c7c7c"/><rect x="568.6" y="469.9" width="1.9" height="0.7" fill="#7c7c7c"/><rect x="571.6" y="468.5" width="1.9" height="0.7" fill="#7c7c7c"/><rect x="574.7" y="467.1" width="1.9" height="0.7" fill="#7c7c7c"/><rect x="577.7" y="465.7" width="1.9" height="0.7" fill="#7c7c7c"/><rect x="580.8" y="464.3" width="1.9" height="0.7" fill="#7c7c7c"/><rect x="583.8" y="463.0" width="1.9" height="0.7" fill="#7c7c7c"/><rect x="586.9" y="461.6" width="1.8" height="0.7" fill="#7c7c7c"/><rect x="589.9" y="460.2" width="1.8" height="0.7" fill="#7c7c7c"/><rect x="592.9" y="458.8" width="1.8" height="0.7" fill="#7c7c7c"/><polygon points="392.1,510.7 398.7,507.8 397.1,498.9 390.5,501.8" fill="#dadada" /><polygon points="377.4,493.0 392.1,510.7 390.5,501.8 375.8,484.1" fill="#828282" /><polygon points="375.8,484.1 382.4,481.2 397.1,498.9 390.5,501.8" fill="#f8f8f8" /><polygon points="496.4,489.2 516.1,480.4 515.3,474.2 495.6,483.0" fill="#dadada" /><polygon points="494.0,486.5 496.4,489.2 495.6,483.0 493.1,480.2" fill="#828282" /><polygon points="493.1,480.2 512.8,471.4 515.3,474.2 495.6,483.0" fill="#f8f8f8" /><polygon points="608.0,476.1 615.7,472.7 615.0,464.7 607.3,468.2" fill="#dadada" /><polygon points="603.1,471.0 608.0,476.1 607.3,468.2 602.4,463.1" fill="#828282" /><polygon points="602.4,463.1 610.1,459.6 615.0,464.7 607.3,468.2" fill="#f8f8f8" /><polygon points="382.1,515.1 388.7,512.2 387.1,503.3 380.5,506.3" fill="#dadada" /><polygon points="367.5,497.3 382.1,515.1 380.5,506.3 365.8,488.5" fill="#828282" /><polygon points="365.8,488.5 372.4,485.6 387.1,503.3 380.5,506.3" fill="#f8f8f8" /><polygon points="523.3,492.5 525.9,491.3 525.3,485.8 522.6,487.0" fill="#dadada" /><polygon points="513.5,481.6 523.3,492.5 522.6,487.0 512.8,476.1" fill="#828282" /><polygon points="512.8,476.1 515.4,474.9 525.3,485.8 522.6,487.0" fill="#f8f8f8" /><polygon points="192.6,552.7 210.0,545.2 208.1,537.8 190.7,545.3" fill="#dadada" /><polygon points="189.1,547.7 192.6,552.7 190.7,545.3 187.1,540.3" fill="#828282" /><polygon points="187.1,540.3 204.5,532.9 208.1,537.8 190.7,545.3" fill="#f8f8f8" /><rect x="192.5" y="547.0" width="2.3" height="0.6" fill="#7c7c7c"/><rect x="196.8" y="545.1" width="2.3" height="0.6" fill="#7c7c7c"/><rect x="201.2" y="543.3" width="2.3" height="0.6" fill="#7c7c7c"/><rect x="205.5" y="541.4" width="2.3" height="0.6" fill="#7c7c7c"/><polygon points="372.0,519.6 378.7,516.6 377.1,507.8 370.4,510.7" fill="#dadada" /><polygon points="357.5,501.7 372.0,519.6 370.4,510.7 355.8,492.8" fill="#828282" /><polygon points="355.8,492.8 362.4,489.9 377.1,507.8 370.4,510.7" fill="#f8f8f8" /><polygon points="491.3,493.9 497.9,490.9 497.1,485.4 490.5,488.3" fill="#dadada" /><polygon points="488.8,491.1 491.3,493.9 490.5,488.3 488.1,485.6" fill="#828282" /><polygon points="488.1,485.6 494.7,482.6 497.1,485.4 490.5,488.3" fill="#f8f8f8" /><polygon points="274.5,533.8 283.5,529.9 281.6,521.8 272.7,525.7" fill="#bdbdbd" /><polygon points="270.8,528.9 274.5,533.8 272.7,525.7 269.0,520.8" fill="#828282" /><polygon points="269.0,520.8 277.9,516.9 281.6,521.8 272.7,525.7" fill="#f8f8f8" /><polygon points="362.0,524.1 368.6,521.1 367.0,512.2 360.3,515.2" fill="#dadada" /><polygon points="347.5,506.1 362.0,524.1 360.3,515.2 345.8,497.2" fill="#828282" /><polygon points="345.8,497.2 352.4,494.3 367.0,512.2 360.3,515.2" fill="#f8f8f8" /><polygon points="529.8,494.3 539.8,489.7 539.0,482.4 528.9,486.9" fill="#c8c8c8" /><polygon points="525.1,489.0 529.8,494.3 528.9,486.9 524.2,481.6" fill="#828282" /><polygon points="524.2,481.6 534.2,477.1 539.0,482.4 528.9,486.9" fill="#f8f8f8" /><polygon points="351.8,528.5 358.5,525.6 356.8,516.7 350.1,519.7" fill="#dadada" /><polygon points="337.4,510.5 351.8,528.5 350.1,519.7 335.6,501.6" fill="#828282" /><polygon points="335.6,501.6 342.3,498.7 356.8,516.7 350.1,519.7" fill="#f8f8f8" /><polygon points="341.7,533.1 348.4,530.1 346.6,521.2 339.9,524.2" fill="#dadada" /><polygon points="327.3,514.9 341.7,533.1 339.9,524.2 325.5,506.0" fill="#828282" /><polygon points="325.5,506.0 332.2,503.1 346.6,521.2 339.9,524.2" fill="#f8f8f8" /><polygon points="500.6,504.4 504.5,502.6 503.7,495.9 499.7,497.7" fill="#dadada" /><polygon points="488.8,491.1 500.6,504.4 499.7,497.7 487.9,484.5" fill="#828282" /><polygon points="487.9,484.5 491.9,482.7 503.7,495.9 499.7,497.7" fill="#f8f8f8" /><polygon points="552.2,502.0 607.4,476.8 606.7,468.2 551.3,493.4" fill="#dadada" /><polygon points="546.9,496.2 552.2,502.0 551.3,493.4 545.9,487.5" fill="#828282" /><polygon points="545.9,487.5 601.2,462.5 606.7,468.2 551.3,493.4" fill="#f8f8f8" /><rect x="552.2" y="494.8" width="1.9" height="0.7" fill="#7c7c7c"/><rect x="555.3" y="493.4" width="1.9" height="0.7" fill="#7c7c7c"/><rect x="558.4" y="492.0" width="1.9" height="0.7" fill="#7c7c7c"/><rect x="561.5" y="490.6" width="1.9" height="0.7" fill="#7c7c7c"/><rect x="564.6" y="489.1" width="1.9" height="0.7" fill="#7c7c7c"/><rect x="567.7" y="487.7" width="1.9" height="0.7" fill="#7c7c7c"/><rect x="570.8" y="486.3" width="1.9" height="0.7" fill="#7c7c7c"/><rect x="573.8" y="484.9" width="1.9" height="0.7" fill="#7c7c7c"/><rect x="576.9" y="483.5" width="1.9" height="0.7" fill="#7c7c7c"/><rect x="580.0" y="482.1" width="1.9" height="0.7" fill="#7c7c7c"/><rect x="583.1" y="480.7" width="1.9" height="0.7" fill="#7c7c7c"/><rect x="586.1" y="479.3" width="1.9" height="0.7" fill="#7c7c7c"/><rect x="589.2" y="477.9" width="1.9" height="0.7" fill="#7c7c7c"/><rect x="592.2" y="476.5" width="1.9" height="0.7" fill="#7c7c7c"/><rect x="595.3" y="475.1" width="1.9" height="0.7" fill="#7c7c7c"/><rect x="598.4" y="473.7" width="1.8" height="0.7" fill="#7c7c7c"/><rect x="601.4" y="472.4" width="1.8" height="0.7" fill="#7c7c7c"/><rect x="604.4" y="471.0" width="1.8" height="0.7" fill="#7c7c7c"/><polygon points="219.4,558.3 273.1,534.8 271.1,525.9 217.2,549.4" fill="#dadada" /><polygon points="215.4,552.7 219.4,558.3 217.2,549.4 213.1,543.8" fill="#828282" /><polygon points="213.1,543.8 266.9,520.5 271.1,525.9 217.2,549.4" fill="#f8f8f8" /><rect x="218.6" y="550.7" width="2.3" height="0.6" fill="#7c7c7c"/><rect x="222.5" y="549.0" width="2.3" height="0.6" fill="#7c7c7c"/><rect x="226.4" y="547.4" width="2.3" height="0.6" fill="#7c7c7c"/><rect x="230.2" y="545.7" width="2.3" height="0.6" fill="#7c7c7c"/><rect x="234.1" y="544.0" width="2.3" height="0.6" fill="#7c7c7c"/><rect x="238.0" y="542.3" width="2.3" height="0.6" fill="#7c7c7c"/><rect x="241.8" y="540.6" width="2.3" height="0.6" fill="#7c7c7c"/><rect x="245.7" y="539.0" width="2.3" height="0.7" fill="#7c7c7c"/><rect x="249.5" y="537.3" width="2.3" height="0.7" fill="#7c7c7c"/><rect x="253.3" y="535.6" width="2.3" height="0.7" fill="#7c7c7c"/><rect x="257.2" y="533.9" width="2.3" height="0.7" fill="#7c7c7c"/><rect x="261.0" y="532.3" width="2.2" height="0.7" fill="#7c7c7c"/><rect x="264.8" y="530.6" width="2.2" height="0.7" fill="#7c7c7c"/><rect x="268.6" y="529.0" width="2.2" height="0.7" fill="#7c7c7c"/><polygon points="619.7,488.4 627.3,484.9 626.7,477.0 619.0,480.5" fill="#dadada" /><polygon points="614.7,483.2 619.7,488.4 619.0,480.5 614.0,475.3" fill="#828282" /><polygon points="614.0,475.3 621.7,471.8 626.7,477.0 619.0,480.5" fill="#f8f8f8" /><polygon points="331.4,537.6 338.2,534.6 336.4,525.7 329.6,528.7" fill="#dadada" /><polygon points="317.1,519.4 331.4,537.6 329.6,528.7 315.3,510.5" fill="#828282" /><polygon points="315.3,510.5 322.0,507.6 336.4,525.7 329.6,528.7" fill="#f8f8f8" /><polygon points="508.7,503.1 528.4,494.1 527.7,487.9 507.9,496.8" fill="#dadada" /><polygon points="506.2,500.3 508.7,503.1 507.9,496.8 505.4,494.0" fill="#828282" /><polygon points="505.4,494.0 525.2,485.1 527.7,487.9 507.9,496.8" fill="#f8f8f8" /><polygon points="321.2,542.1 327.9,539.1 326.1,530.2 319.3,533.2" fill="#dadada" /><polygon points="306.9,523.8 321.2,542.1 319.3,533.2 305.0,515.0" fill="#828282" /><polygon points="305.0,515.0 311.8,512.0 326.1,530.2 319.3,533.2" fill="#f8f8f8" /><polygon points="500.6,504.4 507.2,501.4 506.5,495.9 499.8,498.9" fill="#dadada" /><polygon points="498.1,501.6 500.6,504.4 499.8,498.9 497.3,496.1" fill="#828282" /><polygon points="497.3,496.1 504.0,493.1 506.5,495.9 499.8,498.9" fill="#f8f8f8" /><polygon points="201.8,565.6 219.2,558.0 217.3,550.6 199.8,558.2" fill="#dadada" /><polygon points="198.2,560.6 201.8,565.6 199.8,558.2 196.2,553.1" fill="#828282" /><polygon points="196.2,553.1 213.7,545.6 217.3,550.6 199.8,558.2" fill="#f8f8f8" /><rect x="201.6" y="559.9" width="2.3" height="0.6" fill="#7c7c7c"/><rect x="206.0" y="558.0" width="2.3" height="0.6" fill="#7c7c7c"/><rect x="210.4" y="556.1" width="2.3" height="0.6" fill="#7c7c7c"/><rect x="214.8" y="554.2" width="2.3" height="0.6" fill="#7c7c7c"/><polygon points="284.1,546.4 293.1,542.5 291.3,534.3 282.3,538.3" fill="#bdbdbd" /><polygon points="280.4,541.5 284.1,546.4 282.3,538.3 278.5,533.3" fill="#828282" /><polygon points="278.5,533.3 287.5,529.4 291.3,534.3 282.3,538.3" fill="#f8f8f8" /><polygon points="484.0,516.3 488.9,514.1 487.7,505.6 482.8,507.8" fill="#dadada" /><polygon points="469.4,499.4 484.0,516.3 482.8,507.8 468.1,491.0" fill="#828282" /><polygon points="468.1,491.0 473.0,488.8 487.7,505.6 482.8,507.8" fill="#f8f8f8" /><polygon points="541.1,506.8 551.1,502.2 550.3,494.8 540.2,499.4" fill="#c8c8c8" /><polygon points="536.3,501.4 541.1,506.8 540.2,499.4 535.4,494.1" fill="#828282" /><polygon points="535.4,494.1 545.5,489.5 550.3,494.8 540.2,499.4" fill="#f8f8f8" /><polygon points="473.6,521.0 478.6,518.8 477.4,510.3 472.4,512.5" fill="#dadada" /><polygon points="459.0,504.1 473.6,521.0 472.4,512.5 457.8,495.6" fill="#828282" /><polygon points="457.8,495.6 462.7,493.4 477.4,510.3 472.4,512.5" fill="#f8f8f8" /><polygon points="563.7,514.6 619.1,489.1 618.3,480.4 562.8,505.9" fill="#dadada" /><polygon points="558.3,508.7 563.7,514.6 562.8,505.9 557.4,500.0" fill="#828282" /><polygon points="557.4,500.0 612.8,474.6 618.3,480.4 562.8,505.9" fill="#f8f8f8" /><rect x="563.6" y="507.4" width="1.9" height="0.7" fill="#7c7c7c"/><rect x="566.7" y="505.9" width="1.9" height="0.7" fill="#7c7c7c"/><rect x="569.9" y="504.5" width="1.9" height="0.7" fill="#7c7c7c"/><rect x="573.0" y="503.1" width="1.9" height="0.7" fill="#7c7c7c"/><rect x="576.1" y="501.6" width="1.9" height="0.7" fill="#7c7c7c"/><rect x="579.2" y="500.2" width="1.9" height="0.7" fill="#7c7c7c"/><rect x="582.3" y="498.8" width="1.9" height="0.7" fill="#7c7c7c"/><rect x="585.4" y="497.4" width="1.9" height="0.7" fill="#7c7c7c"/><rect x="588.5" y="496.0" width="1.9" height="0.7" fill="#7c7c7c"/><rect x="591.6" y="494.5" width="1.9" height="0.7" fill="#7c7c7c"/><rect x="594.6" y="493.1" width="1.9" height="0.7" fill="#7c7c7c"/><rect x="597.7" y="491.7" width="1.9" height="0.7" fill="#7c7c7c"/><rect x="600.8" y="490.3" width="1.9" height="0.7" fill="#7c7c7c"/><rect x="603.9" y="488.9" width="1.9" height="0.7" fill="#7c7c7c"/><rect x="606.9" y="487.5" width="1.9" height="0.7" fill="#7c7c7c"/><rect x="610.0" y="486.1" width="1.8" height="0.7" fill="#7c7c7c"/><rect x="613.0" y="484.7" width="1.8" height="0.7" fill="#7c7c7c"/><rect x="616.1" y="483.3" width="1.8" height="0.7" fill="#7c7c7c"/><polygon points="463.2,525.7 468.2,523.5 466.9,515.0 462.0,517.2" fill="#dadada" /><polygon points="448.7,508.7 463.2,525.7 462.0,517.2 447.4,500.2" fill="#828282" /><polygon points="447.4,500.2 452.3,498.0 466.9,515.0 462.0,517.2" fill="#f8f8f8" /><polygon points="228.8,571.2 282.7,547.5 280.7,538.6 226.5,562.3" fill="#dadada" /><polygon points="224.7,565.6 228.8,571.2 226.5,562.3 222.4,556.6" fill="#828282" /><polygon points="222.4,556.6 276.5,533.0 280.7,538.6 226.5,562.3" fill="#f8f8f8" /><rect x="228.0" y="563.7" width="2.3" height="0.6" fill="#7c7c7c"/><rect x="231.9" y="562.0" width="2.3" height="0.6" fill="#7c7c7c"/><rect x="235.8" y="560.2" width="2.3" height="0.6" fill="#7c7c7c"/><rect x="239.7" y="558.5" width="2.3" height="0.6" fill="#7c7c7c"/><rect x="243.5" y="556.8" width="2.3" height="0.6" fill="#7c7c7c"/><rect x="247.4" y="555.1" width="2.3" height="0.6" fill="#7c7c7c"/><rect x="251.3" y="553.4" width="2.3" height="0.6" fill="#7c7c7c"/><rect x="255.2" y="551.7" width="2.3" height="0.6" fill="#7c7c7c"/><rect x="259.0" y="550.0" width="2.3" height="0.6" fill="#7c7c7c"/><rect x="262.9" y="548.4" width="2.3" height="0.6" fill="#7c7c7c"/><rect x="266.7" y="546.7" width="2.3" height="0.6" fill="#7c7c7c"/><rect x="270.6" y="545.0" width="2.2" height="0.6" fill="#7c7c7c"/><rect x="274.4" y="543.3" width="2.2" height="0.6" fill="#7c7c7c"/><rect x="278.2" y="541.6" width="2.2" height="0.6" fill="#7c7c7c"/><polygon points="518.6,514.3 538.4,505.2 537.7,498.9 517.8,508.0" fill="#dadada" /><polygon points="516.1,511.4 518.6,514.3 517.8,508.0 515.3,505.2" fill="#828282" /><polygon points="515.3,505.2 535.1,496.1 537.7,498.9 517.8,508.0" fill="#f8f8f8" /><polygon points="452.8,530.5 457.7,528.2 456.4,519.7 451.5,522.0" fill="#dadada" /><polygon points="438.3,513.4 452.8,530.5 451.5,522.0 436.9,504.9" fill="#828282" /><polygon points="436.9,504.9 441.9,502.7 456.4,519.7 451.5,522.0" fill="#f8f8f8" /><polygon points="545.9,517.6 548.5,516.4 547.9,510.9 545.2,512.1" fill="#dadada" /><polygon points="535.8,506.4 545.9,517.6 545.2,512.1 535.1,500.9" fill="#828282" /><polygon points="535.1,500.9 537.8,499.7 547.9,510.9 545.2,512.1" fill="#f8f8f8" /><polygon points="442.3,535.2 447.2,533.0 445.9,524.5 440.9,526.7" fill="#dadada" /><polygon points="427.8,518.1 442.3,535.2 440.9,526.7 426.4,509.6" fill="#828282" /><polygon points="426.4,509.6 431.4,507.3 445.9,524.5 440.9,526.7" fill="#f8f8f8" /><polygon points="211.0,578.6 228.6,570.9 226.7,563.5 209.1,571.2" fill="#dadada" /><polygon points="207.4,573.5 211.0,578.6 209.1,571.2 205.5,566.1" fill="#828282" /><polygon points="205.5,566.1 223.0,558.4 226.7,563.5 209.1,571.2" fill="#f8f8f8" /><rect x="210.9" y="572.9" width="2.3" height="0.6" fill="#7c7c7c"/><rect x="215.3" y="571.0" width="2.3" height="0.6" fill="#7c7c7c"/><rect x="219.7" y="569.0" width="2.3" height="0.6" fill="#7c7c7c"/><rect x="224.1" y="567.1" width="2.3" height="0.6" fill="#7c7c7c"/><polygon points="513.4,519.0 520.1,516.0 519.4,510.4 512.7,513.5" fill="#dadada" /><polygon points="510.9,516.2 513.4,519.0 512.7,513.5 510.2,510.6" fill="#828282" /><polygon points="510.2,510.6 516.9,507.6 519.4,510.4 512.7,513.5" fill="#f8f8f8" /><polygon points="293.8,559.2 302.8,555.2 301.1,547.1 292.0,551.1" fill="#bdbdbd" /><polygon points="290.0,554.2 293.8,559.2 292.0,551.1 288.2,546.1" fill="#828282" /><polygon points="288.2,546.1 297.2,542.1 301.1,547.1 292.0,551.1" fill="#f8f8f8" /><polygon points="431.7,540.0 436.7,537.8 435.3,529.2 430.3,531.5" fill="#dadada" /><polygon points="417.3,522.8 431.7,540.0 430.3,531.5 415.9,514.3" fill="#828282" /><polygon points="415.9,514.3 420.9,512.0 435.3,529.2 430.3,531.5" fill="#f8f8f8" /><polygon points="552.5,519.4 562.6,514.8 561.8,507.4 551.6,512.0" fill="#c8c8c8" /><polygon points="547.6,514.0 552.5,519.4 551.6,512.0 546.8,506.6" fill="#828282" /><polygon points="546.8,506.6 556.9,502.0 561.8,507.4 551.6,512.0" fill="#f8f8f8" /><polygon points="421.1,544.8 426.1,542.6 424.7,534.0 419.7,536.3" fill="#dadada" /><polygon points="406.8,527.5 421.1,544.8 419.7,536.3 405.3,519.0" fill="#828282" /><polygon points="405.3,519.0 410.3,516.7 424.7,534.0 419.7,536.3" fill="#f8f8f8" /><polygon points="497.3,534.2 503.8,531.2 502.7,522.3 496.1,525.3" fill="#dadada" /><polygon points="482.4,517.0 497.3,534.2 496.1,525.3 481.2,508.2" fill="#828282" /><polygon points="481.2,508.2 487.7,505.2 502.7,522.3 496.1,525.3" fill="#f8f8f8" /><polygon points="523.0,529.8 527.0,527.9 526.1,521.3 522.1,523.1" fill="#dadada" /><polygon points="510.9,516.2 523.0,529.8 522.1,523.1 510.1,509.5" fill="#828282" /><polygon points="510.1,509.5 514.1,507.7 526.1,521.3 522.1,523.1" fill="#f8f8f8" /><polygon points="410.4,549.7 415.5,547.4 414.0,538.9 409.0,541.2" fill="#dadada" /><polygon points="396.2,532.3 410.4,549.7 409.0,541.2 394.6,523.7" fill="#828282" /><polygon points="394.6,523.7 399.7,521.5 414.0,538.9 409.0,541.2" fill="#f8f8f8" /><polygon points="238.2,584.3 292.4,560.3 290.4,551.4 236.0,575.4" fill="#dadada" /><polygon points="234.1,578.6 238.2,584.3 236.0,575.4 231.9,569.7" fill="#828282" /><polygon points="231.9,569.7 286.1,545.8 290.4,551.4 236.0,575.4" fill="#f8f8f8" /><rect x="237.5" y="576.8" width="2.3" height="0.6" fill="#7c7c7c"/><rect x="241.4" y="575.0" width="2.3" height="0.6" fill="#7c7c7c"/><rect x="245.3" y="573.3" width="2.3" height="0.6" fill="#7c7c7c"/><rect x="249.2" y="571.6" width="2.3" height="0.6" fill="#7c7c7c"/><rect x="253.1" y="569.8" width="2.3" height="0.6" fill="#7c7c7c"/><rect x="257.0" y="568.1" width="2.3" height="0.6" fill="#7c7c7c"/><rect x="260.9" y="566.4" width="2.3" height="0.6" fill="#7c7c7c"/><rect x="264.8" y="564.7" width="2.3" height="0.6" fill="#7c7c7c"/><rect x="268.6" y="563.0" width="2.3" height="0.6" fill="#7c7c7c"/><rect x="272.5" y="561.3" width="2.3" height="0.6" fill="#7c7c7c"/><rect x="276.4" y="559.5" width="2.3" height="0.6" fill="#7c7c7c"/><rect x="280.2" y="557.8" width="2.3" height="0.6" fill="#7c7c7c"/><rect x="284.1" y="556.1" width="2.2" height="0.6" fill="#7c7c7c"/><rect x="287.9" y="554.4" width="2.2" height="0.6" fill="#7c7c7c"/><polygon points="486.9,539.0 493.4,536.0 492.2,527.1 485.7,530.1" fill="#dadada" /><polygon points="472.1,521.7 486.9,539.0 485.7,530.1 470.8,512.9" fill="#828282" /><polygon points="470.8,512.9 477.3,509.9 492.2,527.1 485.7,530.1" fill="#f8f8f8" /><polygon points="531.2,528.4 551.1,519.2 550.4,513.0 530.4,522.1" fill="#dadada" /><polygon points="528.6,525.6 531.2,528.4 530.4,522.1 527.8,519.3" fill="#828282" /><polygon points="527.8,519.3 547.8,510.1 550.4,513.0 530.4,522.1" fill="#f8f8f8" /><polygon points="399.7,554.5 404.8,552.2 403.3,543.7 398.2,546.0" fill="#dadada" /><polygon points="385.5,537.0 399.7,554.5 398.2,546.0 384.0,528.5" fill="#828282" /><polygon points="384.0,528.5 389.0,526.2 403.3,543.7 398.2,546.0" fill="#f8f8f8" /><polygon points="523.0,529.8 529.6,526.7 529.0,521.2 522.3,524.2" fill="#dadada" /><polygon points="520.4,526.9 523.0,529.8 522.3,524.2 519.7,521.4" fill="#828282" /><polygon points="519.7,521.4 526.4,518.3 529.0,521.2 522.3,524.2" fill="#f8f8f8" /><polygon points="476.4,543.8 483.0,540.8 481.7,531.9 475.2,534.9" fill="#dadada" /><polygon points="461.6,526.5 476.4,543.8 475.2,534.9 460.3,517.6" fill="#828282" /><polygon points="460.3,517.6 466.9,514.6 481.7,531.9 475.2,534.9" fill="#f8f8f8" /><polygon points="389.0,559.4 394.1,557.1 392.5,548.6 387.4,550.9" fill="#dadada" /><polygon points="374.8,541.8 389.0,559.4 387.4,550.9 373.2,533.3" fill="#828282" /><polygon points="373.2,533.3 378.3,531.0 392.5,548.6 387.4,550.9" fill="#f8f8f8" /><polygon points="220.4,591.8 238.0,584.0 236.2,576.6 218.5,584.4" fill="#dadada" /><polygon points="216.8,586.7 220.4,591.8 218.5,584.4 214.9,579.2" fill="#828282" /><polygon points="214.9,579.2 232.5,571.5 236.2,576.6 218.5,584.4" fill="#f8f8f8" /><rect x="220.3" y="586.1" width="2.3" height="0.6" fill="#7c7c7c"/><rect x="224.8" y="584.1" width="2.3" height="0.6" fill="#7c7c7c"/><rect x="229.2" y="582.2" width="2.3" height="0.6" fill="#7c7c7c"/><rect x="233.6" y="580.2" width="2.3" height="0.6" fill="#7c7c7c"/><polygon points="303.6,572.2 312.7,568.1 310.9,560.0 301.9,564.0" fill="#bdbdbd" /><polygon points="299.8,567.1 303.6,572.2 301.9,564.0 298.0,559.0" fill="#828282" /><polygon points="298.0,559.0 307.1,554.9 310.9,560.0 301.9,564.0" fill="#f8f8f8" /><polygon points="465.9,548.6 472.5,545.6 471.2,536.7 464.6,539.7" fill="#dadada" /><polygon points="451.2,531.2 465.9,548.6 464.6,539.7 449.8,522.3" fill="#828282" /><polygon points="449.8,522.3 456.4,519.3 471.2,536.7 464.6,539.7" fill="#f8f8f8" /><polygon points="378.1,564.3 383.3,562.0 381.7,553.5 376.5,555.8" fill="#dadada" /><polygon points="364.0,546.6 378.1,564.3 376.5,555.8 362.4,538.1" fill="#828282" /><polygon points="362.4,538.1 367.5,535.8 381.7,553.5 376.5,555.8" fill="#f8f8f8" /><polygon points="455.3,553.5 462.0,550.4 460.6,541.5 454.0,544.6" fill="#dadada" /><polygon points="440.7,536.0 455.3,553.5 454.0,544.6 439.2,527.1" fill="#828282" /><polygon points="439.2,527.1 445.9,524.1 460.6,541.5 454.0,544.6" fill="#f8f8f8" /><polygon points="367.3,569.3 372.4,566.9 370.8,558.4 365.6,560.7" fill="#dadada" /><polygon points="353.2,551.5 367.3,569.3 365.6,560.7 351.6,543.0" fill="#828282" /><polygon points="351.6,543.0 356.7,540.7 370.8,558.4 365.6,560.7" fill="#f8f8f8" /><polygon points="356.4,574.2 361.6,571.8 359.9,563.3 354.7,565.7" fill="#dadada" /><polygon points="342.4,556.4 356.4,574.2 354.7,565.7 340.7,547.8" fill="#828282" /><polygon points="340.7,547.8 345.9,545.5 359.9,563.3 354.7,565.7" fill="#f8f8f8" /><polygon points="444.7,558.3 451.4,555.3 450.0,546.4 443.3,549.4" fill="#dadada" /><polygon points="430.1,540.8 444.7,558.3 443.3,549.4 428.6,531.9" fill="#828282" /><polygon points="428.6,531.9 435.3,528.9 450.0,546.4 443.3,549.4" fill="#f8f8f8" /><polygon points="247.8,597.6 302.2,573.2 300.2,564.3 245.7,588.7" fill="#dadada" /><polygon points="243.6,591.8 247.8,597.6 245.7,588.7 241.5,582.9" fill="#828282" /><polygon points="241.5,582.9 295.9,558.7 300.2,564.3 245.7,588.7" fill="#f8f8f8" /><rect x="247.1" y="590.0" width="2.3" height="0.6" fill="#7c7c7c"/><rect x="251.0" y="588.3" width="2.3" height="0.6" fill="#7c7c7c"/><rect x="255.0" y="586.5" width="2.3" height="0.6" fill="#7c7c7c"/><rect x="258.9" y="584.8" width="2.3" height="0.6" fill="#7c7c7c"/><rect x="262.8" y="583.0" width="2.3" height="0.6" fill="#7c7c7c"/><rect x="266.7" y="581.3" width="2.3" height="0.6" fill="#7c7c7c"/><rect x="270.6" y="579.5" width="2.3" height="0.6" fill="#7c7c7c"/><rect x="274.5" y="577.8" width="2.3" height="0.6" fill="#7c7c7c"/><rect x="278.4" y="576.1" width="2.3" height="0.6" fill="#7c7c7c"/><rect x="282.3" y="574.3" width="2.3" height="0.6" fill="#7c7c7c"/><rect x="286.2" y="572.6" width="2.3" height="0.6" fill="#7c7c7c"/><rect x="290.0" y="570.9" width="2.3" height="0.6" fill="#7c7c7c"/><rect x="293.9" y="569.1" width="2.3" height="0.6" fill="#7c7c7c"/><rect x="297.8" y="567.4" width="2.2" height="0.6" fill="#7c7c7c"/><polygon points="434.0,563.2 440.7,560.2 439.3,551.3 432.6,554.3" fill="#dadada" /><polygon points="419.5,545.6 434.0,563.2 432.6,554.3 418.0,536.7" fill="#828282" /><polygon points="418.0,536.7 424.7,533.7 439.3,551.3 432.6,554.3" fill="#f8f8f8" /><polygon points="423.3,568.2 430.0,565.1 428.6,556.2 421.8,559.3" fill="#dadada" /><polygon points="408.8,550.4 423.3,568.2 421.8,559.3 407.3,541.5" fill="#828282" /><polygon points="407.3,541.5 414.0,538.5 428.6,556.2 421.8,559.3" fill="#f8f8f8" /><polygon points="230.0,605.2 247.6,597.3 245.8,589.9 228.1,597.8" fill="#dadada" /><polygon points="226.2,600.0 230.0,605.2 228.1,597.8 224.3,592.5" fill="#828282" /><polygon points="224.3,592.5 242.0,584.7 245.8,589.9 228.1,597.8" fill="#f8f8f8" /><rect x="229.9" y="599.5" width="2.3" height="0.6" fill="#7c7c7c"/><rect x="234.3" y="597.5" width="2.3" height="0.6" fill="#7c7c7c"/><rect x="238.7" y="595.5" width="2.3" height="0.6" fill="#7c7c7c"/><rect x="243.2" y="593.5" width="2.3" height="0.6" fill="#7c7c7c"/><polygon points="313.6,585.3 322.7,581.2 321.0,573.0 311.8,577.2" fill="#bdbdbd" /><polygon points="309.7,580.2 313.6,585.3 311.8,577.2 307.9,572.0" fill="#828282" /><polygon points="307.9,572.0 317.0,567.9 321.0,573.0 311.8,577.2" fill="#f8f8f8" /><polygon points="412.5,573.1 419.3,570.0 417.8,561.1 411.0,564.2" fill="#dadada" /><polygon points="398.1,555.3 412.5,573.1 411.0,564.2 396.5,546.4" fill="#828282" /><polygon points="396.5,546.4 403.2,543.3 417.8,561.1 411.0,564.2" fill="#f8f8f8" /><polygon points="401.7,578.1 408.5,575.0 406.9,566.0 400.1,569.2" fill="#dadada" /><polygon points="387.3,560.2 401.7,578.1 400.1,569.2 385.7,551.3" fill="#828282" /><polygon points="385.7,551.3 392.5,548.2 406.9,566.0 400.1,569.2" fill="#f8f8f8" /><polygon points="390.8,583.1 397.6,579.9 396.0,571.0 389.2,574.2" fill="#dadada" /><polygon points="376.5,565.1 390.8,583.1 389.2,574.2 374.8,556.2" fill="#828282" /><polygon points="374.8,556.2 381.6,553.1 396.0,571.0 389.2,574.2" fill="#f8f8f8" /><polygon points="257.6,611.0 312.1,586.4 310.2,577.5 255.4,602.1" fill="#dadada" /><polygon points="253.3,605.2 257.6,611.0 255.4,602.1 251.1,596.2" fill="#828282" /><polygon points="251.1,596.2 305.9,571.7 310.2,577.5 255.4,602.1" fill="#f8f8f8" /><rect x="256.8" y="603.5" width="2.3" height="0.6" fill="#7c7c7c"/><rect x="260.8" y="601.7" width="2.3" height="0.6" fill="#7c7c7c"/><rect x="264.7" y="599.9" width="2.3" height="0.6" fill="#7c7c7c"/><rect x="268.7" y="598.1" width="2.3" height="0.6" fill="#7c7c7c"/><rect x="272.6" y="596.4" width="2.3" height="0.6" fill="#7c7c7c"/><rect x="276.5" y="594.6" width="2.3" height="0.6" fill="#7c7c7c"/><rect x="280.5" y="592.8" width="2.3" height="0.6" fill="#7c7c7c"/><rect x="284.4" y="591.1" width="2.3" height="0.6" fill="#7c7c7c"/><rect x="288.3" y="589.3" width="2.3" height="0.6" fill="#7c7c7c"/><rect x="292.2" y="587.6" width="2.3" height="0.6" fill="#7c7c7c"/><rect x="296.1" y="585.8" width="2.3" height="0.6" fill="#7c7c7c"/><rect x="300.0" y="584.1" width="2.3" height="0.6" fill="#7c7c7c"/><rect x="303.8" y="582.3" width="2.3" height="0.6" fill="#7c7c7c"/><rect x="307.7" y="580.6" width="2.2" height="0.6" fill="#7c7c7c"/><polygon points="379.9,588.1 386.7,584.9 385.1,576.0 378.2,579.2" fill="#dadada" /><polygon points="365.6,570.0 379.9,588.1 378.2,579.2 363.9,561.1" fill="#828282" /><polygon points="363.9,561.1 370.8,558.0 385.1,576.0 378.2,579.2" fill="#f8f8f8" /><polygon points="368.9,593.1 375.8,590.0 374.1,581.0 367.2,584.2" fill="#dadada" /><polygon points="354.7,575.0 368.9,593.1 367.2,584.2 352.9,566.0" fill="#828282" /><polygon points="352.9,566.0 359.8,562.9 374.1,581.0 367.2,584.2" fill="#f8f8f8" /><polygon points="239.6,618.7 257.3,610.7 255.5,603.3 237.7,611.3" fill="#dadada" /><polygon points="235.8,613.4 239.6,618.7 237.7,611.3 234.0,606.0" fill="#828282" /><polygon points="234.0,606.0 251.7,598.0 255.5,603.3 237.7,611.3" fill="#f8f8f8" /><rect x="239.5" y="613.0" width="2.4" height="0.6" fill="#7c7c7c"/><rect x="244.0" y="611.0" width="2.3" height="0.6" fill="#7c7c7c"/><rect x="248.4" y="609.0" width="2.3" height="0.6" fill="#7c7c7c"/><rect x="252.9" y="607.0" width="2.3" height="0.6" fill="#7c7c7c"/><polygon points="323.7,598.6 332.8,594.5 331.1,586.3 321.9,590.4" fill="#bdbdbd" /><polygon points="319.7,593.4 323.7,598.6 321.9,590.4 318.0,585.2" fill="#828282" /><polygon points="318.0,585.2 327.1,581.1 331.1,586.3 321.9,590.4" fill="#f8f8f8" /><polygon points="267.4,624.7 322.2,599.7 320.3,590.8 265.3,615.7" fill="#dadada" /><polygon points="263.1,618.7 267.4,624.7 265.3,615.7 260.9,609.8" fill="#828282" /><polygon points="260.9,609.8 315.9,584.9 320.3,590.8 265.3,615.7" fill="#f8f8f8" /><rect x="266.7" y="617.1" width="2.3" height="0.6" fill="#7c7c7c"/><rect x="270.7" y="615.3" width="2.3" height="0.6" fill="#7c7c7c"/><rect x="274.6" y="613.5" width="2.3" height="0.6" fill="#7c7c7c"/><rect x="278.6" y="611.7" width="2.3" height="0.6" fill="#7c7c7c"/><rect x="282.5" y="609.9" width="2.3" height="0.6" fill="#7c7c7c"/><rect x="286.5" y="608.1" width="2.3" height="0.6" fill="#7c7c7c"/><rect x="290.4" y="606.3" width="2.3" height="0.6" fill="#7c7c7c"/><rect x="294.3" y="604.5" width="2.3" height="0.6" fill="#7c7c7c"/><rect x="298.3" y="602.7" width="2.3" height="0.6" fill="#7c7c7c"/><rect x="302.2" y="601.0" width="2.3" height="0.6" fill="#7c7c7c"/><rect x="306.1" y="599.2" width="2.3" height="0.6" fill="#7c7c7c"/><rect x="310.0" y="597.4" width="2.3" height="0.6" fill="#7c7c7c"/><rect x="313.9" y="595.6" width="2.3" height="0.6" fill="#7c7c7c"/><rect x="317.8" y="593.9" width="2.3" height="0.6" fill="#7c7c7c"/><polygon points="249.4,632.5 267.2,624.3 265.4,616.9 247.5,625.0" fill="#dadada" /><polygon points="245.5,627.1 249.4,632.5 247.5,625.0 243.7,619.7" fill="#828282" /><polygon points="243.7,619.7 261.5,611.6 265.4,616.9 247.5,625.0" fill="#f8f8f8" /><rect x="249.3" y="626.7" width="2.4" height="0.6" fill="#7c7c7c"/><rect x="253.8" y="624.7" width="2.3" height="0.6" fill="#7c7c7c"/><rect x="258.3" y="622.6" width="2.3" height="0.6" fill="#7c7c7c"/><rect x="262.7" y="620.6" width="2.3" height="0.6" fill="#7c7c7c"/><polygon points="333.9,612.1 343.0,607.9 341.4,599.7 332.2,603.9" fill="#bdbdbd" /><polygon points="329.9,606.8 333.9,612.1 332.2,603.9 328.2,598.6" fill="#828282" /><polygon points="328.2,598.6 337.3,594.4 341.4,599.7 332.2,603.9" fill="#f8f8f8" /><polygon points="277.4,638.5 332.4,613.2 330.6,604.2 275.3,629.5" fill="#dadada" /><polygon points="273.0,632.4 277.4,638.5 275.3,629.5 270.9,623.5" fill="#828282" /><polygon points="270.9,623.5 326.1,598.3 330.6,604.2 275.3,629.5" fill="#f8f8f8" /><rect x="276.7" y="630.9" width="2.3" height="0.6" fill="#7c7c7c"/><rect x="280.7" y="629.0" width="2.3" height="0.6" fill="#7c7c7c"/><rect x="284.7" y="627.2" width="2.3" height="0.6" fill="#7c7c7c"/><rect x="288.6" y="625.4" width="2.3" height="0.6" fill="#7c7c7c"/><rect x="292.6" y="623.6" width="2.3" height="0.6" fill="#7c7c7c"/><rect x="296.6" y="621.8" width="2.3" height="0.6" fill="#7c7c7c"/><rect x="300.5" y="619.9" width="2.3" height="0.6" fill="#7c7c7c"/><rect x="304.5" y="618.1" width="2.3" height="0.6" fill="#7c7c7c"/><rect x="308.4" y="616.3" width="2.3" height="0.6" fill="#7c7c7c"/><rect x="312.3" y="614.5" width="2.3" height="0.6" fill="#7c7c7c"/><rect x="316.3" y="612.7" width="2.3" height="0.6" fill="#7c7c7c"/><rect x="320.2" y="610.9" width="2.3" height="0.6" fill="#7c7c7c"/><rect x="324.1" y="609.1" width="2.3" height="0.6" fill="#7c7c7c"/><rect x="328.0" y="607.4" width="2.3" height="0.6" fill="#7c7c7c"/><polygon points="259.3,646.4 277.1,638.1 275.4,630.7 257.4,638.9" fill="#dadada" /><polygon points="255.4,640.9 259.3,646.4 257.4,638.9 253.5,633.5" fill="#828282" /><polygon points="253.5,633.5 271.5,625.3 275.4,630.7 257.4,638.9" fill="#f8f8f8" /><rect x="259.2" y="640.6" width="2.4" height="0.6" fill="#7c7c7c"/><rect x="263.7" y="638.5" width="2.4" height="0.6" fill="#7c7c7c"/><rect x="268.2" y="636.5" width="2.3" height="0.6" fill="#7c7c7c"/><rect x="272.7" y="634.4" width="2.3" height="0.6" fill="#7c7c7c"/><line x1="1194.1" y1="113.4" x2="1238.7" y2="94.2" stroke="#bdbdbd" stroke-width="0.8"/><line x1="1206.5" y1="121.5" x2="1251.2" y2="102.1" stroke="#bdbdbd" stroke-width="0.8"/><line x1="1219.1" y1="129.8" x2="1263.8" y2="110.1" stroke="#bdbdbd" stroke-width="0.8"/><line x1="1231.7" y1="138.1" x2="1276.5" y2="118.2" stroke="#bdbdbd" stroke-width="0.8"/><line x1="1244.5" y1="146.4" x2="1289.3" y2="126.4" stroke="#bdbdbd" stroke-width="0.8"/><line x1="1257.4" y1="154.9" x2="1302.3" y2="134.7" stroke="#bdbdbd" stroke-width="0.8"/><line x1="1270.4" y1="163.5" x2="1315.4" y2="143.0" stroke="#bdbdbd" stroke-width="0.8"/><line x1="1283.6" y1="172.1" x2="1328.7" y2="151.5" stroke="#bdbdbd" stroke-width="0.8"/><polyline points="315.4,641 315.4,685.5 361,685.5" fill="none" stroke="#0b2aa6" stroke-width="2.6"/><circle cx="361" cy="685.5" r="5" fill="#0b2aa6"/><circle cx="314.3" cy="641.4" r="11.6" fill="#0b2aa6"/><text x="314.3" y="646.1999999999999" fill="#fff" stroke="#fff" stroke-width="0.25" font-size="14" text-anchor="middle">1</text><text x="378.3" y="692" fill="#858585" stroke="#858585" stroke-width="0.35" font-size="16" text-anchor="start" textLength="54.4" lengthAdjust="spacingAndGlyphs">Texture</text><polyline points="441.5,582 441.5,626.6 512,626.6" fill="none" stroke="#0b2aa6" stroke-width="2.6"/><circle cx="512.2" cy="626.7" r="5" fill="#0b2aa6"/><circle cx="441.5" cy="582.5" r="11.6" fill="#0b2aa6"/><text x="441.5" y="587.3" fill="#fff" stroke="#fff" stroke-width="0.25" font-size="14" text-anchor="middle">2</text><text x="529.2" y="632.8" fill="#858585" stroke="#858585" stroke-width="0.35" font-size="16" text-anchor="start" textLength="79.5" lengthAdjust="spacingAndGlyphs">B Diffusion</text><polyline points="597.6,522 597.6,570.1 667,570.1" fill="none" stroke="#0b2aa6" stroke-width="2.6"/><circle cx="667.4" cy="570.1" r="5" fill="#0b2aa6"/><circle cx="597.6" cy="522.7" r="11.6" fill="#0b2aa6"/><text x="597.6" y="527.5" fill="#fff" stroke="#fff" stroke-width="0.25" font-size="14" text-anchor="middle">3</text><text x="686.1" y="576.1" fill="#858585" stroke="#858585" stroke-width="0.35" font-size="16" text-anchor="start" textLength="103" lengthAdjust="spacingAndGlyphs">Edge Isolation</text><polyline points="718.5,466 718.5,501.2 790,501.2" fill="none" stroke="#0b2aa6" stroke-width="2.6"/><circle cx="790.7" cy="501.5" r="5" fill="#0b2aa6"/><circle cx="718.5" cy="466.3" r="11.6" fill="#0b2aa6"/><text x="718.5" y="471.1" fill="#fff" stroke="#fff" stroke-width="0.25" font-size="14" text-anchor="middle">4</text><text x="808.9" y="508.9" fill="#858585" stroke="#858585" stroke-width="0.35" font-size="16" text-anchor="start" textLength="146" lengthAdjust="spacingAndGlyphs">Tox/n-poly (PECVD)</text><polyline points="710.2,292 710.2,247.1 674,247.1" fill="none" stroke="#0b2aa6" stroke-width="2.6"/><circle cx="674.1" cy="247.1" r="5" fill="#0b2aa6"/><circle cx="709.6" cy="292" r="11.6" fill="#0b2aa6" stroke="#fff" stroke-opacity="0.8" stroke-width="1"/><text x="709.6" y="296.8" fill="#fff" stroke="#fff" stroke-width="0.25" font-size="14" text-anchor="middle">5</text><text x="624.9" y="255" fill="#858585" stroke="#858585" stroke-width="0.35" font-size="16" text-anchor="start" textLength="34.3" lengthAdjust="spacingAndGlyphs">ANN</text><polyline points="936.6,366 936.6,409.2 975,409.2" fill="none" stroke="#0b2aa6" stroke-width="2.6"/><circle cx="975.1" cy="409.2" r="5" fill="#0b2aa6"/><circle cx="935.9" cy="366.1" r="11.6" fill="#0b2aa6"/><text x="935.9" y="370.90000000000003" fill="#fff" stroke="#fff" stroke-width="0.25" font-size="14" text-anchor="middle">6</text><text x="992.9" y="415.6" fill="#858585" stroke="#858585" stroke-width="0.35" font-size="16" text-anchor="start" textLength="76" lengthAdjust="spacingAndGlyphs">Poly Clean</text><polyline points="1002,331 1002,355.1 1111,355.1" fill="none" stroke="#0b2aa6" stroke-width="2.6"/><circle cx="1111.6" cy="355.1" r="5" fill="#0b2aa6"/><circle cx="1002" cy="330.9" r="11.6" fill="#0b2aa6"/><text x="1002" y="335.7" fill="#fff" stroke="#fff" stroke-width="0.25" font-size="14" text-anchor="middle">7</text><text x="1128.9" y="361.5" fill="#858585" stroke="#858585" stroke-width="0.35" font-size="16" text-anchor="start" textLength="74.6" lengthAdjust="spacingAndGlyphs">Front A₂O₃</text><polyline points="967.4,185 967.4,140 931,140" fill="none" stroke="#0b2aa6" stroke-width="2.6"/><circle cx="931.1" cy="139.9" r="5" fill="#0b2aa6"/><circle cx="967.4" cy="185.7" r="11.6" fill="#0b2aa6" stroke="#fff" stroke-opacity="0.8" stroke-width="1"/><text x="967.4" y="190.5" fill="#fff" stroke="#fff" stroke-width="0.25" font-size="14" text-anchor="middle">8</text><text x="863.8" y="147.8" fill="#858585" stroke="#858585" stroke-width="0.35" font-size="16" text-anchor="start" textLength="52.2" lengthAdjust="spacingAndGlyphs">F-SINX</text><polyline points="1113.5,284.6 1218,284.6" fill="none" stroke="#0b2aa6" stroke-width="2.6"/><circle cx="1218.7" cy="284.8" r="5" fill="#0b2aa6"/><circle cx="1113.5" cy="284" r="11.6" fill="#0b2aa6"/><text x="1113.5" y="288.8" fill="#fff" stroke="#fff" stroke-width="0.25" font-size="14" text-anchor="middle">9</text><text x="1238.7" y="289.3" fill="#858585" stroke="#858585" stroke-width="0.35" font-size="16" text-anchor="start" textLength="50.2" lengthAdjust="spacingAndGlyphs">R-SINx</text><polyline points="1275.6,205 1275.6,225.5 1320,225.5" fill="none" stroke="#0b2aa6" stroke-width="2.6"/><circle cx="1320.2" cy="225.5" r="5" fill="#0b2aa6"/><circle cx="1275.6" cy="204.7" r="11.6" fill="#0b2aa6"/><text x="1275.6" y="209.5" fill="#fff" stroke="#fff" stroke-width="0.25" font-size="13" text-anchor="middle">10</text><text x="1339.7" y="234.9" fill="#858585" stroke="#858585" stroke-width="0.35" font-size="16" text-anchor="start" textLength="177.5" lengthAdjust="spacingAndGlyphs">Printer/Firing/LEPT/Test</text></svg></body></html>
